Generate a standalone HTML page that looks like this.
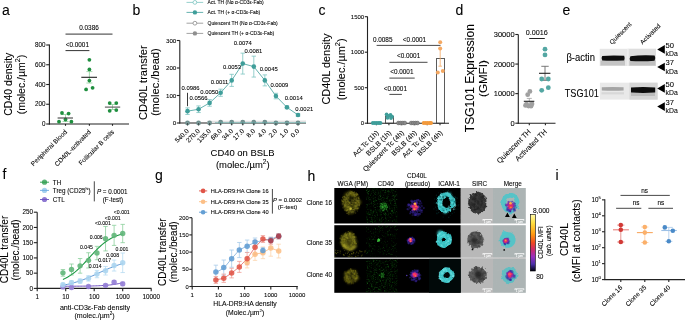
<!DOCTYPE html>
<html><head><meta charset="utf-8"><style>
html,body{margin:0;padding:0;background:#fff;width:685px;height:320px;overflow:hidden}
svg{display:block;font-family:"Liberation Sans", sans-serif;will-change:transform}
text{stroke:currentColor;stroke-width:0.08px;paint-order:stroke}
</style></head><body>
<svg width="685" height="320" viewBox="0 0 685 320">
<defs><filter id="blur1" x="-10%" y="-30%" width="120%" height="160%"><feGaussianBlur stdDeviation="0.6"/></filter>
<filter id="bl03" x="-10%" y="-10%" width="120%" height="120%"><feGaussianBlur stdDeviation="0.3"/></filter>
<filter id="bl04" x="-20%" y="-20%" width="140%" height="140%"><feGaussianBlur stdDeviation="0.45"/></filter>
<filter id="bl05" x="-50%" y="-50%" width="200%" height="200%"><feGaussianBlur stdDeviation="0.5"/></filter>
<filter id="bl08" x="-50%" y="-50%" width="200%" height="200%"><feGaussianBlur stdDeviation="0.8"/></filter>
<filter id="bl1" x="-50%" y="-50%" width="200%" height="200%"><feGaussianBlur stdDeviation="1"/></filter>
<filter id="bl15" x="-50%" y="-50%" width="200%" height="200%"><feGaussianBlur stdDeviation="1.5"/></filter>
<filter id="speckG" x="0" y="0" width="100%" height="100%">
  <feTurbulence type="fractalNoise" baseFrequency="0.85" numOctaves="1" seed="7" result="n"/>
  <feColorMatrix in="n" type="matrix" values="0 0 0 0 0.10  0 0 0 0 0.42  0 0 0 0 0.10  3.2 0 0 0 -1.55" result="c"/>
  <feGaussianBlur in="c" stdDeviation="0.35"/>
</filter>
<filter id="speckY" x="0" y="0" width="100%" height="100%">
  <feTurbulence type="fractalNoise" baseFrequency="0.85" numOctaves="1" seed="11" result="n"/>
  <feColorMatrix in="n" type="matrix" values="0 0 0 0 0.40  0 0 0 0 0.40  0 0 0 0 0.05  3.2 0 0 0 -1.6" result="c"/>
  <feGaussianBlur in="c" stdDeviation="0.35"/>
</filter>
<filter id="speckB" x="0" y="0" width="100%" height="100%">
  <feTurbulence type="fractalNoise" baseFrequency="0.5" numOctaves="2" seed="13" result="n"/>
  <feColorMatrix in="n" type="matrix" values="0 0 0 0 0.5  0 0 0 0 0.5  0 0 0 0 0.5  1.6 0 0 0 -0.8" result="c"/>
  <feGaussianBlur in="c" stdDeviation="0.5"/>
</filter>
<filter id="texY" x="-40%" y="-40%" width="180%" height="180%">
  <feTurbulence type="fractalNoise" baseFrequency="0.35" numOctaves="2" seed="3" result="n"/>
  <feDisplacementMap in="SourceGraphic" in2="n" scale="5" xChannelSelector="R" yChannelSelector="G" result="d"/>
  <feTurbulence type="fractalNoise" baseFrequency="0.7" numOctaves="2" seed="5" result="n2"/>
  <feColorMatrix in="n2" type="matrix" values="0 0 0 0 0  0 0 0 0 0  0 0 0 0 0  1.8 0 0 0 -0.15" result="m"/>
  <feComposite in="d" in2="m" operator="in" result="c"/>
  <feGaussianBlur in="c" stdDeviation="0.55"/>
</filter>
<filter id="texC" x="-40%" y="-40%" width="180%" height="180%">
  <feTurbulence type="fractalNoise" baseFrequency="0.18" numOctaves="2" seed="21" result="n"/>
  <feDisplacementMap in="SourceGraphic" in2="n" scale="3.5" xChannelSelector="R" yChannelSelector="G" result="d"/>
  <feGaussianBlur in="d" stdDeviation="0.75"/>
</filter>
<filter id="texW" x="-40%" y="-40%" width="180%" height="180%">
  <feTurbulence type="fractalNoise" baseFrequency="0.22" numOctaves="2" seed="17" result="n"/>
  <feDisplacementMap in="SourceGraphic" in2="n" scale="5.5" xChannelSelector="R" yChannelSelector="G" result="d"/>
  <feGaussianBlur in="d" stdDeviation="0.8"/>
</filter>
<filter id="texL" x="-60%" y="-60%" width="220%" height="220%">
  <feTurbulence type="fractalNoise" baseFrequency="0.4" numOctaves="2" seed="9" result="n"/>
  <feDisplacementMap in="SourceGraphic" in2="n" scale="4" xChannelSelector="R" yChannelSelector="G" result="d"/>
  <feGaussianBlur in="d" stdDeviation="0.7"/>
</filter>
<filter id="texS" x="-40%" y="-40%" width="180%" height="180%">
  <feTurbulence type="fractalNoise" baseFrequency="0.5" numOctaves="2" seed="4" result="n"/>
  <feDisplacementMap in="SourceGraphic" in2="n" scale="4.5" xChannelSelector="R" yChannelSelector="G" result="d"/>
  <feGaussianBlur in="d" stdDeviation="0.55"/>
</filter>
<radialGradient id="gL"><stop offset="0" stop-color="#ff5a50"/><stop offset="0.35" stop-color="#d2308a"/><stop offset="0.7" stop-color="#6a28b0"/><stop offset="1" stop-color="#2a1a80" stop-opacity="0"/></radialGradient>
<radialGradient id="gW"><stop offset="0" stop-color="#2e2c08"/><stop offset="0.55" stop-color="#46440f"/><stop offset="0.85" stop-color="#5e5c15"/><stop offset="1" stop-color="#42400e"/></radialGradient>
<radialGradient id="gG"><stop offset="0" stop-color="#2c9a2c"/><stop offset="0.6" stop-color="#1e7a1e" stop-opacity="0.7"/><stop offset="1" stop-color="#1a6a1a" stop-opacity="0"/></radialGradient>
<radialGradient id="gS"><stop offset="0" stop-color="#333"/><stop offset="0.7" stop-color="#4a4a4a"/><stop offset="1" stop-color="#5a5a5a"/></radialGradient>
<linearGradient id="cbar" x1="0" y1="0" x2="0" y2="1"><stop offset="0" stop-color="#fffbb0"/><stop offset="0.15" stop-color="#ffe040"/><stop offset="0.35" stop-color="#ff9a10"/><stop offset="0.5" stop-color="#f04a20"/><stop offset="0.62" stop-color="#d02a6a"/><stop offset="0.75" stop-color="#9a30c0"/><stop offset="0.88" stop-color="#4a30a8"/><stop offset="1" stop-color="#000010"/></linearGradient>
</defs>
<text x="2.00" y="15.00" font-size="14" text-anchor="start" fill="#000" color="#000">a</text>
<text x="132.60" y="15.00" font-size="14" text-anchor="start" fill="#000" color="#000">b</text>
<text x="318.60" y="15.00" font-size="14" text-anchor="start" fill="#000" color="#000">c</text>
<text x="455.60" y="15.00" font-size="14" text-anchor="start" fill="#000" color="#000">d</text>
<text x="562.50" y="15.00" font-size="14" text-anchor="start" fill="#000" color="#000">e</text>
<text x="2.40" y="179.00" font-size="14" text-anchor="start" fill="#000" color="#000">f</text>
<text x="155.00" y="180.00" font-size="14" text-anchor="start" fill="#000" color="#000">g</text>
<text x="307.50" y="180.50" font-size="14" text-anchor="start" fill="#000" color="#000">h</text>
<text x="555.50" y="180.00" font-size="14" text-anchor="start" fill="#000" color="#000">i</text>
<line x1="49.40" y1="44.60" x2="49.40" y2="124.50" stroke="#222" stroke-width="1.1"/>
<line x1="48.90" y1="124.00" x2="129.00" y2="124.00" stroke="#222" stroke-width="1.1"/>
<line x1="46.20" y1="124.00" x2="49.40" y2="124.00" stroke="#222" stroke-width="1.1"/>
<text x="45.60" y="126.20" font-size="6.3" text-anchor="end" fill="#000" color="#000">0</text>
<line x1="46.20" y1="104.25" x2="49.40" y2="104.25" stroke="#222" stroke-width="1.1"/>
<text x="45.60" y="106.45" font-size="6.3" text-anchor="end" fill="#000" color="#000">200</text>
<line x1="46.20" y1="84.50" x2="49.40" y2="84.50" stroke="#222" stroke-width="1.1"/>
<text x="45.60" y="86.70" font-size="6.3" text-anchor="end" fill="#000" color="#000">400</text>
<line x1="46.20" y1="64.75" x2="49.40" y2="64.75" stroke="#222" stroke-width="1.1"/>
<text x="45.60" y="66.95" font-size="6.3" text-anchor="end" fill="#000" color="#000">600</text>
<line x1="46.20" y1="45.00" x2="49.40" y2="45.00" stroke="#222" stroke-width="1.1"/>
<text x="45.60" y="47.20" font-size="6.3" text-anchor="end" fill="#000" color="#000">800</text>
<line x1="65.50" y1="124.00" x2="65.50" y2="125.80" stroke="#222" stroke-width="1.1"/>
<line x1="89.40" y1="124.00" x2="89.40" y2="125.80" stroke="#222" stroke-width="1.1"/>
<line x1="112.50" y1="124.00" x2="112.50" y2="125.80" stroke="#222" stroke-width="1.1"/>
<text x="0.00" y="0.00" font-size="6.5" text-anchor="end" fill="#000" color="#000" transform="translate(67.50,132.40) rotate(-45)">Peripheral Blood</text>
<text x="0.00" y="0.00" font-size="6.5" text-anchor="end" fill="#000" color="#000" transform="translate(91.40,132.40) rotate(-45)">CD40L-activated</text>
<text x="0.00" y="0.00" font-size="6.5" text-anchor="end" fill="#000" color="#000" transform="translate(114.50,132.40) rotate(-45)">Follicular B cells</text>
<line x1="65.50" y1="34.10" x2="112.50" y2="34.10" stroke="#333" stroke-width="1"/>
<text x="89.00" y="30.20" font-size="6.4" text-anchor="middle" fill="#000" color="#000">0.0386</text>
<line x1="65.50" y1="50.60" x2="89.40" y2="50.60" stroke="#333" stroke-width="1"/>
<text x="77.30" y="47.20" font-size="6.4" text-anchor="middle" fill="#000" color="#000">&lt;0.0001</text>
<line x1="65.50" y1="114.50" x2="65.50" y2="121.50" stroke="#8fcf9c" stroke-width="0.8"/>
<line x1="62.50" y1="114.50" x2="68.50" y2="114.50" stroke="#8fcf9c" stroke-width="0.8"/>
<line x1="62.50" y1="121.50" x2="68.50" y2="121.50" stroke="#8fcf9c" stroke-width="0.8"/>
<circle cx="62.00" cy="113.00" r="1.9" fill="#1f8f3f" stroke="none" stroke-width="0"/>
<circle cx="68.60" cy="113.60" r="1.9" fill="#1f8f3f" stroke="none" stroke-width="0"/>
<circle cx="65.50" cy="119.50" r="1.9" fill="#1f8f3f" stroke="none" stroke-width="0"/>
<circle cx="59.00" cy="121.70" r="1.9" fill="#1f8f3f" stroke="none" stroke-width="0"/>
<circle cx="71.40" cy="121.70" r="1.9" fill="#1f8f3f" stroke="none" stroke-width="0"/>
<line x1="57.60" y1="118.00" x2="73.00" y2="118.00" stroke="#444" stroke-width="1.1"/>
<line x1="89.40" y1="71.60" x2="89.40" y2="83.00" stroke="#8fcf9c" stroke-width="0.8"/>
<line x1="86.40" y1="71.60" x2="92.40" y2="71.60" stroke="#8fcf9c" stroke-width="0.8"/>
<line x1="86.40" y1="83.00" x2="92.40" y2="83.00" stroke="#8fcf9c" stroke-width="0.8"/>
<circle cx="89.40" cy="59.80" r="1.9" fill="#1f8f3f" stroke="none" stroke-width="0"/>
<circle cx="89.40" cy="69.40" r="1.9" fill="#1f8f3f" stroke="none" stroke-width="0"/>
<circle cx="89.40" cy="80.60" r="1.9" fill="#1f8f3f" stroke="none" stroke-width="0"/>
<circle cx="86.10" cy="89.40" r="1.9" fill="#1f8f3f" stroke="none" stroke-width="0"/>
<circle cx="92.60" cy="87.80" r="1.9" fill="#1f8f3f" stroke="none" stroke-width="0"/>
<line x1="81.30" y1="77.30" x2="97.00" y2="77.30" stroke="#222" stroke-width="1.1"/>
<line x1="112.50" y1="104.50" x2="112.50" y2="109.50" stroke="#8fcf9c" stroke-width="0.8"/>
<line x1="109.50" y1="104.50" x2="115.50" y2="104.50" stroke="#8fcf9c" stroke-width="0.8"/>
<line x1="109.50" y1="109.50" x2="115.50" y2="109.50" stroke="#8fcf9c" stroke-width="0.8"/>
<circle cx="109.70" cy="103.10" r="1.9" fill="#1f8f3f" stroke="none" stroke-width="0"/>
<circle cx="116.30" cy="103.10" r="1.9" fill="#1f8f3f" stroke="none" stroke-width="0"/>
<circle cx="109.70" cy="110.80" r="1.9" fill="#1f8f3f" stroke="none" stroke-width="0"/>
<circle cx="116.30" cy="110.10" r="1.9" fill="#1f8f3f" stroke="none" stroke-width="0"/>
<line x1="104.90" y1="107.10" x2="120.20" y2="107.10" stroke="#555" stroke-width="1.1"/>
<text x="0.00" y="0.00" font-size="10.5" text-anchor="middle" fill="#000" color="#000" transform="translate(11.80,84.20) rotate(-90)">CD40 density</text>
<text x="0.00" y="0.00" font-size="10.5" text-anchor="middle" fill="#000" color="#000" transform="translate(24.60,84.50) rotate(-90)">(molec./µm<tspan font-size="7.2" dy="-4.4">2</tspan><tspan dy="4.4">)</tspan></text>
<line x1="179.80" y1="40.50" x2="179.80" y2="123.50" stroke="#222" stroke-width="1.1"/>
<line x1="179.30" y1="123.00" x2="306.00" y2="123.00" stroke="#222" stroke-width="1.1"/>
<line x1="176.80" y1="123.00" x2="179.80" y2="123.00" stroke="#222" stroke-width="1.1"/>
<text x="176.30" y="125.10" font-size="6.2" text-anchor="end" fill="#000" color="#000">0</text>
<line x1="176.80" y1="95.50" x2="179.80" y2="95.50" stroke="#222" stroke-width="1.1"/>
<text x="176.30" y="97.60" font-size="6.2" text-anchor="end" fill="#000" color="#000">100</text>
<line x1="176.80" y1="68.00" x2="179.80" y2="68.00" stroke="#222" stroke-width="1.1"/>
<text x="176.30" y="70.10" font-size="6.2" text-anchor="end" fill="#000" color="#000">200</text>
<line x1="176.80" y1="40.50" x2="179.80" y2="40.50" stroke="#222" stroke-width="1.1"/>
<text x="176.30" y="42.60" font-size="6.2" text-anchor="end" fill="#000" color="#000">300</text>
<line x1="187.50" y1="123.00" x2="187.50" y2="125.00" stroke="#222" stroke-width="1.1"/>
<text x="0.00" y="0.00" font-size="6.6" text-anchor="end" fill="#000" color="#000" transform="translate(189.30,131.40) rotate(-45)">540.0</text>
<line x1="198.55" y1="123.00" x2="198.55" y2="125.00" stroke="#222" stroke-width="1.1"/>
<text x="0.00" y="0.00" font-size="6.6" text-anchor="end" fill="#000" color="#000" transform="translate(200.35,131.40) rotate(-45)">270.0</text>
<line x1="209.60" y1="123.00" x2="209.60" y2="125.00" stroke="#222" stroke-width="1.1"/>
<text x="0.00" y="0.00" font-size="6.6" text-anchor="end" fill="#000" color="#000" transform="translate(211.40,131.40) rotate(-45)">135.0</text>
<line x1="220.65" y1="123.00" x2="220.65" y2="125.00" stroke="#222" stroke-width="1.1"/>
<text x="0.00" y="0.00" font-size="6.6" text-anchor="end" fill="#000" color="#000" transform="translate(222.45,131.40) rotate(-45)">68.0</text>
<line x1="231.70" y1="123.00" x2="231.70" y2="125.00" stroke="#222" stroke-width="1.1"/>
<text x="0.00" y="0.00" font-size="6.6" text-anchor="end" fill="#000" color="#000" transform="translate(233.50,131.40) rotate(-45)">34.0</text>
<line x1="242.75" y1="123.00" x2="242.75" y2="125.00" stroke="#222" stroke-width="1.1"/>
<text x="0.00" y="0.00" font-size="6.6" text-anchor="end" fill="#000" color="#000" transform="translate(244.55,131.40) rotate(-45)">17.0</text>
<line x1="253.80" y1="123.00" x2="253.80" y2="125.00" stroke="#222" stroke-width="1.1"/>
<text x="0.00" y="0.00" font-size="6.6" text-anchor="end" fill="#000" color="#000" transform="translate(255.60,131.40) rotate(-45)">8.0</text>
<line x1="264.85" y1="123.00" x2="264.85" y2="125.00" stroke="#222" stroke-width="1.1"/>
<text x="0.00" y="0.00" font-size="6.6" text-anchor="end" fill="#000" color="#000" transform="translate(266.65,131.40) rotate(-45)">4.0</text>
<line x1="275.90" y1="123.00" x2="275.90" y2="125.00" stroke="#222" stroke-width="1.1"/>
<text x="0.00" y="0.00" font-size="6.6" text-anchor="end" fill="#000" color="#000" transform="translate(277.70,131.40) rotate(-45)">2.0</text>
<line x1="286.95" y1="123.00" x2="286.95" y2="125.00" stroke="#222" stroke-width="1.1"/>
<text x="0.00" y="0.00" font-size="6.6" text-anchor="end" fill="#000" color="#000" transform="translate(288.75,131.40) rotate(-45)">1.0</text>
<line x1="298.00" y1="123.00" x2="298.00" y2="125.00" stroke="#222" stroke-width="1.1"/>
<text x="0.00" y="0.00" font-size="6.6" text-anchor="end" fill="#000" color="#000" transform="translate(299.80,131.40) rotate(-45)">0.0</text>
<text x="242.60" y="155.80" font-size="9.45" text-anchor="middle" fill="#000" color="#000">CD40 on BSLB</text>
<text x="242.80" y="168.00" font-size="9.45" text-anchor="middle" fill="#000" color="#000">(molec./µm<tspan font-size="6.6" dy="-4">2</tspan><tspan dy="4">)</tspan></text>
<text x="0.00" y="0.00" font-size="11.1" text-anchor="middle" fill="#000" color="#000" transform="translate(147.40,82.70) rotate(-90)">CD40L transfer</text>
<text x="0.00" y="0.00" font-size="11.1" text-anchor="middle" fill="#000" color="#000" transform="translate(159.30,82.20) rotate(-90)">(molec./bead)</text>
<path d="M207.0 120.8L306.0 120.5L306.0 123.0L207.0 123.0Z" stroke="none" stroke-width="1" fill="#e2e2e2"/>
<path d="M187.50 111.17L198.55 109.25L209.60 102.92L220.65 92.75L231.70 80.38L242.75 63.60L253.80 66.62L264.85 80.38L275.90 96.05L286.95 107.33L298.00 115.03" stroke="#3f9e9a" stroke-width="0.8" fill="none"/>
<line x1="187.50" y1="107.88" x2="187.50" y2="114.47" stroke="#7cc4c0" stroke-width="0.8"/>
<line x1="185.30" y1="107.88" x2="189.70" y2="107.88" stroke="#7cc4c0" stroke-width="0.8"/>
<line x1="185.30" y1="114.47" x2="189.70" y2="114.47" stroke="#7cc4c0" stroke-width="0.8"/>
<line x1="198.55" y1="105.95" x2="198.55" y2="112.55" stroke="#7cc4c0" stroke-width="0.8"/>
<line x1="196.35" y1="105.95" x2="200.75" y2="105.95" stroke="#7cc4c0" stroke-width="0.8"/>
<line x1="196.35" y1="112.55" x2="200.75" y2="112.55" stroke="#7cc4c0" stroke-width="0.8"/>
<line x1="209.60" y1="99.62" x2="209.60" y2="106.22" stroke="#7cc4c0" stroke-width="0.8"/>
<line x1="207.40" y1="99.62" x2="211.80" y2="99.62" stroke="#7cc4c0" stroke-width="0.8"/>
<line x1="207.40" y1="106.22" x2="211.80" y2="106.22" stroke="#7cc4c0" stroke-width="0.8"/>
<line x1="220.65" y1="89.17" x2="220.65" y2="96.33" stroke="#7cc4c0" stroke-width="0.8"/>
<line x1="218.45" y1="89.17" x2="222.85" y2="89.17" stroke="#7cc4c0" stroke-width="0.8"/>
<line x1="218.45" y1="96.33" x2="222.85" y2="96.33" stroke="#7cc4c0" stroke-width="0.8"/>
<line x1="231.70" y1="74.32" x2="231.70" y2="86.42" stroke="#7cc4c0" stroke-width="0.8"/>
<line x1="229.50" y1="74.32" x2="233.90" y2="74.32" stroke="#7cc4c0" stroke-width="0.8"/>
<line x1="229.50" y1="86.42" x2="233.90" y2="86.42" stroke="#7cc4c0" stroke-width="0.8"/>
<line x1="242.75" y1="53.15" x2="242.75" y2="74.05" stroke="#7cc4c0" stroke-width="0.8"/>
<line x1="240.55" y1="53.15" x2="244.95" y2="53.15" stroke="#7cc4c0" stroke-width="0.8"/>
<line x1="240.55" y1="74.05" x2="244.95" y2="74.05" stroke="#7cc4c0" stroke-width="0.8"/>
<line x1="253.80" y1="56.17" x2="253.80" y2="77.07" stroke="#7cc4c0" stroke-width="0.8"/>
<line x1="251.60" y1="56.17" x2="256.00" y2="56.17" stroke="#7cc4c0" stroke-width="0.8"/>
<line x1="251.60" y1="77.07" x2="256.00" y2="77.07" stroke="#7cc4c0" stroke-width="0.8"/>
<line x1="264.85" y1="74.88" x2="264.85" y2="85.88" stroke="#7cc4c0" stroke-width="0.8"/>
<line x1="262.65" y1="74.88" x2="267.05" y2="74.88" stroke="#7cc4c0" stroke-width="0.8"/>
<line x1="262.65" y1="85.88" x2="267.05" y2="85.88" stroke="#7cc4c0" stroke-width="0.8"/>
<line x1="275.90" y1="93.30" x2="275.90" y2="98.80" stroke="#7cc4c0" stroke-width="0.8"/>
<line x1="273.70" y1="93.30" x2="278.10" y2="93.30" stroke="#7cc4c0" stroke-width="0.8"/>
<line x1="273.70" y1="98.80" x2="278.10" y2="98.80" stroke="#7cc4c0" stroke-width="0.8"/>
<line x1="286.95" y1="105.95" x2="286.95" y2="108.70" stroke="#7cc4c0" stroke-width="0.8"/>
<line x1="284.75" y1="105.95" x2="289.15" y2="105.95" stroke="#7cc4c0" stroke-width="0.8"/>
<line x1="284.75" y1="108.70" x2="289.15" y2="108.70" stroke="#7cc4c0" stroke-width="0.8"/>
<line x1="298.00" y1="113.65" x2="298.00" y2="116.40" stroke="#7cc4c0" stroke-width="0.8"/>
<line x1="295.80" y1="113.65" x2="300.20" y2="113.65" stroke="#7cc4c0" stroke-width="0.8"/>
<line x1="295.80" y1="116.40" x2="300.20" y2="116.40" stroke="#7cc4c0" stroke-width="0.8"/>
<circle cx="187.50" cy="111.17" r="2.3" fill="#3f9e9a" stroke="none" stroke-width="0"/>
<circle cx="198.55" cy="109.25" r="2.3" fill="#3f9e9a" stroke="none" stroke-width="0"/>
<circle cx="209.60" cy="102.92" r="2.3" fill="#3f9e9a" stroke="none" stroke-width="0"/>
<circle cx="220.65" cy="92.75" r="2.3" fill="#3f9e9a" stroke="none" stroke-width="0"/>
<circle cx="231.70" cy="80.38" r="2.3" fill="#3f9e9a" stroke="none" stroke-width="0"/>
<circle cx="242.75" cy="63.60" r="2.3" fill="#3f9e9a" stroke="none" stroke-width="0"/>
<circle cx="253.80" cy="66.62" r="2.3" fill="#3f9e9a" stroke="none" stroke-width="0"/>
<circle cx="264.85" cy="80.38" r="2.3" fill="#3f9e9a" stroke="none" stroke-width="0"/>
<circle cx="275.90" cy="96.05" r="2.3" fill="#3f9e9a" stroke="none" stroke-width="0"/>
<circle cx="286.95" cy="107.33" r="2.3" fill="#3f9e9a" stroke="none" stroke-width="0"/>
<circle cx="298.00" cy="115.03" r="2.3" fill="#3f9e9a" stroke="none" stroke-width="0"/>
<circle cx="187.50" cy="123.00" r="2.4" fill="#6f8f8e" stroke="none" stroke-width="0"/>
<line x1="186.00" y1="122.70" x2="189.00" y2="122.70" stroke="#7f9a9a" stroke-width="0.8"/>
<line x1="187.50" y1="123.00" x2="187.50" y2="125.50" stroke="#333" stroke-width="0.7"/>
<circle cx="198.55" cy="123.00" r="2.4" fill="#6f8f8e" stroke="none" stroke-width="0"/>
<line x1="197.05" y1="122.70" x2="200.05" y2="122.70" stroke="#7f9a9a" stroke-width="0.8"/>
<line x1="198.55" y1="123.00" x2="198.55" y2="125.50" stroke="#333" stroke-width="0.7"/>
<circle cx="209.60" cy="123.00" r="2.4" fill="#6f8f8e" stroke="none" stroke-width="0"/>
<line x1="208.10" y1="122.70" x2="211.10" y2="122.70" stroke="#7f9a9a" stroke-width="0.8"/>
<line x1="209.60" y1="123.00" x2="209.60" y2="125.50" stroke="#333" stroke-width="0.7"/>
<circle cx="220.65" cy="122.20" r="2.4" fill="#6f8f8e" stroke="none" stroke-width="0"/>
<line x1="219.15" y1="121.90" x2="222.15" y2="121.90" stroke="#7f9a9a" stroke-width="0.8"/>
<line x1="220.65" y1="122.20" x2="220.65" y2="125.50" stroke="#333" stroke-width="0.7"/>
<circle cx="231.70" cy="122.20" r="2.4" fill="#6f8f8e" stroke="none" stroke-width="0"/>
<line x1="230.20" y1="121.90" x2="233.20" y2="121.90" stroke="#7f9a9a" stroke-width="0.8"/>
<line x1="231.70" y1="122.20" x2="231.70" y2="125.50" stroke="#333" stroke-width="0.7"/>
<circle cx="242.75" cy="122.20" r="2.4" fill="#6f8f8e" stroke="none" stroke-width="0"/>
<line x1="241.25" y1="121.90" x2="244.25" y2="121.90" stroke="#7f9a9a" stroke-width="0.8"/>
<line x1="242.75" y1="122.20" x2="242.75" y2="125.50" stroke="#333" stroke-width="0.7"/>
<circle cx="253.80" cy="122.20" r="2.4" fill="#6f8f8e" stroke="none" stroke-width="0"/>
<line x1="252.30" y1="121.90" x2="255.30" y2="121.90" stroke="#7f9a9a" stroke-width="0.8"/>
<line x1="253.80" y1="122.20" x2="253.80" y2="125.50" stroke="#333" stroke-width="0.7"/>
<circle cx="264.85" cy="122.20" r="2.4" fill="#6f8f8e" stroke="none" stroke-width="0"/>
<line x1="263.35" y1="121.90" x2="266.35" y2="121.90" stroke="#7f9a9a" stroke-width="0.8"/>
<line x1="264.85" y1="122.20" x2="264.85" y2="125.50" stroke="#333" stroke-width="0.7"/>
<circle cx="275.90" cy="123.00" r="2.4" fill="#6f8f8e" stroke="none" stroke-width="0"/>
<line x1="274.40" y1="122.70" x2="277.40" y2="122.70" stroke="#7f9a9a" stroke-width="0.8"/>
<line x1="275.90" y1="123.00" x2="275.90" y2="125.50" stroke="#333" stroke-width="0.7"/>
<circle cx="286.95" cy="123.00" r="2.4" fill="#6f8f8e" stroke="none" stroke-width="0"/>
<line x1="285.45" y1="122.70" x2="288.45" y2="122.70" stroke="#7f9a9a" stroke-width="0.8"/>
<line x1="286.95" y1="123.00" x2="286.95" y2="125.50" stroke="#333" stroke-width="0.7"/>
<circle cx="298.00" cy="123.00" r="2.4" fill="#6f8f8e" stroke="none" stroke-width="0"/>
<line x1="296.50" y1="122.70" x2="299.50" y2="122.70" stroke="#7f9a9a" stroke-width="0.8"/>
<line x1="298.00" y1="123.00" x2="298.00" y2="125.50" stroke="#333" stroke-width="0.7"/>
<line x1="215.00" y1="122.60" x2="306.00" y2="122.60" stroke="#6fb0ad" stroke-width="0.7"/>
<text x="190.50" y="90.20" font-size="5.9" text-anchor="middle" fill="#000" color="#000">0.0986</text>
<line x1="187.50" y1="92.80" x2="187.50" y2="106.20" stroke="#222" stroke-width="0.9"/>
<text x="198.50" y="99.80" font-size="5.9" text-anchor="middle" fill="#000" color="#000">0.0566</text>
<text x="209.30" y="93.60" font-size="5.9" text-anchor="middle" fill="#000" color="#000">0.0050</text>
<text x="219.60" y="83.60" font-size="5.9" text-anchor="middle" fill="#000" color="#000">0.0011</text>
<text x="232.00" y="69.00" font-size="5.9" text-anchor="middle" fill="#000" color="#000">0.0053</text>
<text x="242.80" y="44.90" font-size="5.9" text-anchor="middle" fill="#000" color="#000">0.0074</text>
<text x="253.40" y="53.40" font-size="5.9" text-anchor="middle" fill="#000" color="#000">0.0081</text>
<text x="268.70" y="70.70" font-size="5.9" text-anchor="middle" fill="#000" color="#000">0.0045</text>
<text x="279.40" y="86.50" font-size="5.9" text-anchor="middle" fill="#000" color="#000">0.0009</text>
<text x="293.70" y="100.20" font-size="5.9" text-anchor="middle" fill="#000" color="#000">0.0014</text>
<text x="304.20" y="110.80" font-size="5.9" text-anchor="middle" fill="#000" color="#000">0.0021</text>
<line x1="186.50" y1="2.40" x2="203.20" y2="2.40" stroke="#7cc4c0" stroke-width="0.8"/>
<circle cx="194.90" cy="2.40" r="1.9" fill="#fff" stroke="#7cc4c0" stroke-width="0.8"/>
<line x1="186.50" y1="12.40" x2="203.20" y2="12.40" stroke="#3f9e9a" stroke-width="0.8"/>
<circle cx="194.90" cy="12.40" r="2.2" fill="#3f9e9a" stroke="none" stroke-width="0"/>
<line x1="186.50" y1="23.20" x2="203.20" y2="23.20" stroke="#8a8a8a" stroke-width="0.8"/>
<circle cx="194.90" cy="23.20" r="1.9" fill="#fff" stroke="#8a8a8a" stroke-width="0.8"/>
<line x1="186.50" y1="33.40" x2="203.20" y2="33.40" stroke="#8a8a8a" stroke-width="0.8"/>
<circle cx="194.90" cy="33.40" r="2.2" fill="#8f8f8f" stroke="none" stroke-width="0"/>
<text x="207.60" y="4.20" font-size="5.0" text-anchor="start" fill="#000" color="#000">Act. TH (No α-CD3ε-Fab)</text>
<text x="207.60" y="14.20" font-size="5.0" text-anchor="start" fill="#000" color="#000">Act. TH (+ α-CD3ε-Fab)</text>
<text x="207.60" y="25.00" font-size="5.0" text-anchor="start" fill="#000" color="#000">Quiescent TH (No α-CD3ε-Fab)</text>
<text x="207.60" y="35.20" font-size="5.0" text-anchor="start" fill="#000" color="#000">Quiescent TH (+ α-CD3ε-Fab)</text>
<line x1="367.50" y1="16.50" x2="367.50" y2="123.70" stroke="#222" stroke-width="1.1"/>
<line x1="367.00" y1="123.20" x2="449.00" y2="123.20" stroke="#222" stroke-width="1.1"/>
<line x1="364.80" y1="123.20" x2="367.50" y2="123.20" stroke="#222" stroke-width="1.1"/>
<text x="364.20" y="125.30" font-size="6.0" text-anchor="end" fill="#000" color="#000">0</text>
<line x1="364.80" y1="87.70" x2="367.50" y2="87.70" stroke="#222" stroke-width="1.1"/>
<text x="364.20" y="89.80" font-size="6.0" text-anchor="end" fill="#000" color="#000">500</text>
<line x1="364.80" y1="52.20" x2="367.50" y2="52.20" stroke="#222" stroke-width="1.1"/>
<text x="364.20" y="54.30" font-size="6.0" text-anchor="end" fill="#000" color="#000">1000</text>
<line x1="364.80" y1="16.70" x2="367.50" y2="16.70" stroke="#222" stroke-width="1.1"/>
<text x="364.20" y="18.80" font-size="6.0" text-anchor="end" fill="#000" color="#000">1500</text>
<line x1="376.40" y1="123.20" x2="376.40" y2="125.20" stroke="#222" stroke-width="1.1"/>
<text x="0.00" y="0.00" font-size="7.0" text-anchor="end" fill="#000" color="#000" transform="translate(379.20,133.40) rotate(-45)">Act.Tc (1h)</text>
<line x1="388.90" y1="123.20" x2="388.90" y2="125.20" stroke="#222" stroke-width="1.1"/>
<text x="0.00" y="0.00" font-size="7.0" text-anchor="end" fill="#000" color="#000" transform="translate(391.70,133.40) rotate(-45)">BSLB (1h)</text>
<line x1="401.60" y1="123.20" x2="401.60" y2="125.20" stroke="#222" stroke-width="1.1"/>
<text x="0.00" y="0.00" font-size="7.0" text-anchor="end" fill="#000" color="#000" transform="translate(404.40,133.40) rotate(-45)">Quiescent Tc (4h)</text>
<line x1="414.40" y1="123.20" x2="414.40" y2="125.20" stroke="#222" stroke-width="1.1"/>
<text x="0.00" y="0.00" font-size="7.0" text-anchor="end" fill="#000" color="#000" transform="translate(417.20,133.40) rotate(-45)">BSLB (4h)</text>
<line x1="427.20" y1="123.20" x2="427.20" y2="125.20" stroke="#222" stroke-width="1.1"/>
<text x="0.00" y="0.00" font-size="7.0" text-anchor="end" fill="#000" color="#000" transform="translate(430.00,133.40) rotate(-45)">Act. Tc (4h)</text>
<line x1="440.00" y1="123.20" x2="440.00" y2="125.20" stroke="#222" stroke-width="1.1"/>
<text x="0.00" y="0.00" font-size="7.0" text-anchor="end" fill="#000" color="#000" transform="translate(442.80,133.40) rotate(-45)">BSLB (4h)</text>
<text x="0.00" y="0.00" font-size="10.9" text-anchor="middle" fill="#000" color="#000" transform="translate(329.80,69.00) rotate(-90)">CD40L density</text>
<text x="0.00" y="0.00" font-size="10.9" text-anchor="middle" fill="#000" color="#000" transform="translate(344.60,69.40) rotate(-90)">(molec./µm<tspan font-size="7.4" dy="-4.5">2</tspan><tspan dy="4.5">)</tspan></text>
<rect x="385.60" y="116.30" width="8.00" height="6.90" fill="none" stroke="#333" stroke-width="0.8"/>
<rect x="436.60" y="58.40" width="7.80" height="64.80" fill="none" stroke="#333" stroke-width="0.8"/>
<circle cx="372.90" cy="123.00" r="2.0" fill="#3f9e9a" stroke="none" stroke-width="0"/>
<circle cx="374.90" cy="123.00" r="2.0" fill="#3f9e9a" stroke="none" stroke-width="0"/>
<circle cx="376.90" cy="123.00" r="2.0" fill="#3f9e9a" stroke="none" stroke-width="0"/>
<circle cx="378.90" cy="123.00" r="2.0" fill="#3f9e9a" stroke="none" stroke-width="0"/>
<circle cx="380.40" cy="123.00" r="2.0" fill="#3f9e9a" stroke="none" stroke-width="0"/>
<circle cx="386.60" cy="114.40" r="1.9" fill="#3f9e9a" stroke="none" stroke-width="0"/>
<circle cx="388.20" cy="115.80" r="1.9" fill="#3f9e9a" stroke="none" stroke-width="0"/>
<circle cx="390.50" cy="115.00" r="1.9" fill="#3f9e9a" stroke="none" stroke-width="0"/>
<circle cx="392.00" cy="116.60" r="1.9" fill="#3f9e9a" stroke="none" stroke-width="0"/>
<circle cx="387.50" cy="117.80" r="1.9" fill="#3f9e9a" stroke="none" stroke-width="0"/>
<circle cx="391.00" cy="118.00" r="1.9" fill="#3f9e9a" stroke="none" stroke-width="0"/>
<circle cx="398.40" cy="123.00" r="1.9" fill="#8a8a8a" stroke="#555" stroke-width="0.4"/>
<circle cx="400.60" cy="123.00" r="1.9" fill="#8a8a8a" stroke="#555" stroke-width="0.4"/>
<circle cx="402.80" cy="123.00" r="1.9" fill="#8a8a8a" stroke="#555" stroke-width="0.4"/>
<circle cx="404.80" cy="123.00" r="1.9" fill="#8a8a8a" stroke="#555" stroke-width="0.4"/>
<circle cx="411.20" cy="123.00" r="1.9" fill="#8a8a8a" stroke="#555" stroke-width="0.4"/>
<circle cx="413.40" cy="123.00" r="1.9" fill="#8a8a8a" stroke="#555" stroke-width="0.4"/>
<circle cx="415.60" cy="123.00" r="1.9" fill="#8a8a8a" stroke="#555" stroke-width="0.4"/>
<circle cx="417.60" cy="123.00" r="1.9" fill="#8a8a8a" stroke="#555" stroke-width="0.4"/>
<circle cx="423.70" cy="123.00" r="2.0" fill="#f39a3c" stroke="none" stroke-width="0"/>
<circle cx="425.70" cy="123.00" r="2.0" fill="#f39a3c" stroke="none" stroke-width="0"/>
<circle cx="427.70" cy="123.00" r="2.0" fill="#f39a3c" stroke="none" stroke-width="0"/>
<circle cx="429.70" cy="123.00" r="2.0" fill="#f39a3c" stroke="none" stroke-width="0"/>
<circle cx="431.00" cy="123.00" r="2.0" fill="#f39a3c" stroke="none" stroke-width="0"/>
<line x1="440.20" y1="48.40" x2="440.20" y2="66.20" stroke="#f4a862" stroke-width="0.8"/>
<line x1="438.40" y1="48.40" x2="442.00" y2="48.40" stroke="#f4a862" stroke-width="0.8"/>
<line x1="438.40" y1="66.20" x2="442.00" y2="66.20" stroke="#f4a862" stroke-width="0.8"/>
<circle cx="440.20" cy="42.20" r="2.0" fill="#f4a862" stroke="none" stroke-width="0"/>
<circle cx="440.20" cy="48.40" r="2.0" fill="#f4a862" stroke="none" stroke-width="0"/>
<circle cx="437.80" cy="72.50" r="2.0" fill="#f4a862" stroke="none" stroke-width="0"/>
<circle cx="442.80" cy="70.90" r="2.0" fill="#f4a862" stroke="none" stroke-width="0"/>
<line x1="376.60" y1="45.40" x2="440.50" y2="45.40" stroke="#333" stroke-width="0.9"/>
<text x="382.70" y="41.50" font-size="6.4" text-anchor="middle" fill="#000" color="#000">0.0085</text>
<text x="414.50" y="41.50" font-size="6.4" text-anchor="middle" fill="#000" color="#000">&lt;0.0001</text>
<line x1="389.40" y1="62.30" x2="427.50" y2="62.30" stroke="#333" stroke-width="0.9"/>
<text x="408.60" y="58.20" font-size="6.4" text-anchor="middle" fill="#000" color="#000">&lt;0.0001</text>
<line x1="389.40" y1="78.10" x2="414.70" y2="78.10" stroke="#333" stroke-width="0.9"/>
<text x="401.80" y="74.40" font-size="6.4" text-anchor="middle" fill="#000" color="#000">&lt;0.0001</text>
<line x1="389.40" y1="94.40" x2="401.90" y2="94.40" stroke="#333" stroke-width="0.9"/>
<text x="395.30" y="90.60" font-size="6.4" text-anchor="middle" fill="#000" color="#000">&lt;0.0001</text>
<line x1="518.30" y1="34.50" x2="518.30" y2="123.70" stroke="#222" stroke-width="1.1"/>
<line x1="517.80" y1="123.20" x2="555.50" y2="123.20" stroke="#222" stroke-width="1.1"/>
<line x1="515.30" y1="123.20" x2="518.30" y2="123.20" stroke="#222" stroke-width="1.1"/>
<text x="514.60" y="125.80" font-size="7.5" text-anchor="end" fill="#000" color="#000">0</text>
<line x1="515.30" y1="93.63" x2="518.30" y2="93.63" stroke="#222" stroke-width="1.1"/>
<text x="514.60" y="96.23" font-size="7.5" text-anchor="end" fill="#000" color="#000">10000</text>
<line x1="515.30" y1="64.07" x2="518.30" y2="64.07" stroke="#222" stroke-width="1.1"/>
<text x="514.60" y="66.67" font-size="7.5" text-anchor="end" fill="#000" color="#000">20000</text>
<line x1="515.30" y1="34.50" x2="518.30" y2="34.50" stroke="#222" stroke-width="1.1"/>
<text x="514.60" y="37.10" font-size="7.5" text-anchor="end" fill="#000" color="#000">30000</text>
<line x1="529.30" y1="123.20" x2="529.30" y2="125.20" stroke="#222" stroke-width="1.1"/>
<line x1="545.40" y1="123.20" x2="545.40" y2="125.20" stroke="#222" stroke-width="1.1"/>
<text x="0.00" y="0.00" font-size="7.3" text-anchor="end" fill="#000" color="#000" transform="translate(531.30,132.20) rotate(-45)">Quiescent TH</text>
<text x="0.00" y="0.00" font-size="7.3" text-anchor="end" fill="#000" color="#000" transform="translate(547.40,132.20) rotate(-45)">Activated TH</text>
<text x="0.00" y="0.00" font-size="12.1" text-anchor="middle" fill="#000" color="#000" transform="translate(474.00,78.15) rotate(-90)">TSG101 Expression</text>
<text x="0.00" y="0.00" font-size="11.6" text-anchor="middle" fill="#000" color="#000" transform="translate(487.00,78.60) rotate(-90)">(GMFI)</text>
<text x="536.80" y="34.80" font-size="7.2" text-anchor="middle" fill="#000" color="#000">0.0016</text>
<line x1="529.20" y1="38.50" x2="544.80" y2="38.50" stroke="#222" stroke-width="1.0"/>
<line x1="529.30" y1="98.40" x2="529.30" y2="104.40" stroke="#a0a0a0" stroke-width="0.8"/>
<line x1="526.80" y1="98.40" x2="531.80" y2="98.40" stroke="#a0a0a0" stroke-width="0.8"/>
<line x1="526.80" y1="104.40" x2="531.80" y2="104.40" stroke="#a0a0a0" stroke-width="0.8"/>
<circle cx="529.90" cy="91.40" r="2.4" fill="#a0a0a0" stroke="none" stroke-width="0"/>
<circle cx="527.70" cy="94.70" r="2.4" fill="#a0a0a0" stroke="none" stroke-width="0"/>
<circle cx="526.50" cy="104.20" r="2.4" fill="#a0a0a0" stroke="none" stroke-width="0"/>
<circle cx="532.00" cy="104.00" r="2.4" fill="#a0a0a0" stroke="none" stroke-width="0"/>
<circle cx="528.50" cy="106.00" r="2.4" fill="#a0a0a0" stroke="none" stroke-width="0"/>
<circle cx="531.00" cy="106.20" r="2.4" fill="#a0a0a0" stroke="none" stroke-width="0"/>
<circle cx="525.50" cy="105.40" r="2.4" fill="#a0a0a0" stroke="none" stroke-width="0"/>
<line x1="523.80" y1="101.30" x2="534.30" y2="101.30" stroke="#222" stroke-width="1.1"/>
<line x1="545.00" y1="66.30" x2="545.00" y2="80.30" stroke="#6a6a6a" stroke-width="0.9"/>
<line x1="541.30" y1="66.30" x2="548.70" y2="66.30" stroke="#6a6a6a" stroke-width="0.9"/>
<line x1="541.30" y1="80.30" x2="548.70" y2="80.30" stroke="#6a6a6a" stroke-width="0.9"/>
<circle cx="545.00" cy="49.20" r="2.4" fill="#54a7a3" stroke="none" stroke-width="0"/>
<circle cx="545.00" cy="54.90" r="2.4" fill="#54a7a3" stroke="none" stroke-width="0"/>
<circle cx="541.70" cy="79.00" r="2.4" fill="#54a7a3" stroke="none" stroke-width="0"/>
<circle cx="548.30" cy="79.00" r="2.4" fill="#54a7a3" stroke="none" stroke-width="0"/>
<circle cx="541.70" cy="90.30" r="2.4" fill="#54a7a3" stroke="none" stroke-width="0"/>
<circle cx="548.30" cy="87.70" r="2.4" fill="#54a7a3" stroke="none" stroke-width="0"/>
<line x1="539.00" y1="73.30" x2="550.40" y2="73.30" stroke="#222" stroke-width="1.1"/>
<text x="0.00" y="0.00" font-size="6.3" text-anchor="start" fill="#000" color="#000" transform="translate(612.00,44.80) rotate(-45)">Quiescent</text>
<text x="0.00" y="0.00" font-size="6.3" text-anchor="start" fill="#000" color="#000" transform="translate(642.60,44.80) rotate(-45)">Activated</text>
<text x="566.40" y="61.00" font-size="10.0" text-anchor="start" fill="#000" color="#000" textLength="28.6" lengthAdjust="spacingAndGlyphs">β-actin</text>
<text x="564.80" y="96.90" font-size="10.2" text-anchor="start" fill="#000" color="#000" textLength="34.0" lengthAdjust="spacingAndGlyphs">TSG101</text>
<g filter="url(#blur1)">
<rect x="599.70" y="48.80" width="56.30" height="17.20" fill="#e6e6e6" stroke="none" stroke-width="0"/>
<rect x="628.40" y="48.80" width="27.60" height="17.20" fill="#dedede" stroke="none" stroke-width="0"/>
<rect x="627.20" y="48.80" width="1.40" height="17.20" fill="#efefef" stroke="none" stroke-width="0"/>
<rect x="600.50" y="60.50" width="24.50" height="5.00" fill="#c4c4c4" stroke="none" stroke-width="0"/>
<rect x="629.50" y="60.50" width="26.00" height="5.00" fill="#c0c0c0" stroke="none" stroke-width="0"/>
<path d="M602.2 56.0 Q612 55.0 624.2 55.8 Q625.2 58.2 624.2 60.4 Q612 61.2 602.2 60.6 Q600.8 58.3 602.2 56.0 Z" fill="#111"/>
<path d="M630.4 56.2 Q642 54.8 654.6 55.6 Q656.0 58.2 654.6 60.8 Q642 61.8 630.4 61.0 Q629.0 58.6 630.4 56.2 Z" fill="#0a0a0a"/>
<rect x="599.90" y="82.70" width="57.70" height="16.90" fill="#e9e9e9" stroke="none" stroke-width="0"/>
<rect x="629.50" y="82.70" width="28.10" height="16.90" fill="#d6d6d6" stroke="none" stroke-width="0"/>
<rect x="601.50" y="92.20" width="22.50" height="2.20" fill="#d8d8d8" stroke="none" stroke-width="0"/>
<path d="M601.8 87.2 Q613 86.6 623.6 87.2 L623.6 90.4 Q613 91.0 601.8 90.4 Z" fill="#a4a4a4"/>
<path d="M631.0 87.4 Q643 86.6 655.2 87.4 L655.2 92.6 Q643 93.4 631.0 92.6 Z" fill="#0c0c0c"/>
<rect x="631.00" y="93.00" width="24.00" height="3.00" fill="#bcbcbc" stroke="none" stroke-width="0"/>
</g>
<path d="M657.2 49.40 L664.8 45.10 L664.8 53.70 Z" stroke="none" stroke-width="1" fill="#000"/>
<text x="665.60" y="47.60" font-size="7.6" text-anchor="start" fill="#000" color="#000">50</text>
<text x="665.60" y="56.00" font-size="7.6" text-anchor="start" fill="#000" color="#000" textLength="12.2" lengthAdjust="spacingAndGlyphs">kDa</text>
<path d="M657.2 67.00 L664.8 62.70 L664.8 71.30 Z" stroke="none" stroke-width="1" fill="#000"/>
<text x="665.60" y="65.20" font-size="7.6" text-anchor="start" fill="#000" color="#000">37</text>
<text x="665.60" y="73.60" font-size="7.6" text-anchor="start" fill="#000" color="#000" textLength="12.2" lengthAdjust="spacingAndGlyphs">kDa</text>
<path d="M657.2 88.40 L664.8 84.10 L664.8 92.70 Z" stroke="none" stroke-width="1" fill="#000"/>
<text x="665.60" y="86.60" font-size="7.6" text-anchor="start" fill="#000" color="#000">50</text>
<text x="665.60" y="95.00" font-size="7.6" text-anchor="start" fill="#000" color="#000" textLength="12.2" lengthAdjust="spacingAndGlyphs">kDa</text>
<path d="M657.2 106.60 L664.8 102.30 L664.8 110.90 Z" stroke="none" stroke-width="1" fill="#000"/>
<text x="665.60" y="104.80" font-size="7.6" text-anchor="start" fill="#000" color="#000">37</text>
<text x="665.60" y="113.20" font-size="7.6" text-anchor="start" fill="#000" color="#000" textLength="12.2" lengthAdjust="spacingAndGlyphs">kDa</text>
<line x1="37.20" y1="212.20" x2="37.20" y2="288.90" stroke="#222" stroke-width="1.1"/>
<line x1="36.70" y1="288.40" x2="151.50" y2="288.40" stroke="#222" stroke-width="1.1"/>
<line x1="33.80" y1="288.40" x2="37.20" y2="288.40" stroke="#222" stroke-width="1.1"/>
<text x="33.00" y="290.60" font-size="6.3" text-anchor="end" fill="#000" color="#000">0</text>
<line x1="33.80" y1="273.16" x2="37.20" y2="273.16" stroke="#222" stroke-width="1.1"/>
<text x="33.00" y="275.36" font-size="6.3" text-anchor="end" fill="#000" color="#000">50</text>
<line x1="33.80" y1="257.92" x2="37.20" y2="257.92" stroke="#222" stroke-width="1.1"/>
<text x="33.00" y="260.12" font-size="6.3" text-anchor="end" fill="#000" color="#000">100</text>
<line x1="33.80" y1="242.68" x2="37.20" y2="242.68" stroke="#222" stroke-width="1.1"/>
<text x="33.00" y="244.88" font-size="6.3" text-anchor="end" fill="#000" color="#000">150</text>
<line x1="33.80" y1="227.44" x2="37.20" y2="227.44" stroke="#222" stroke-width="1.1"/>
<text x="33.00" y="229.64" font-size="6.3" text-anchor="end" fill="#000" color="#000">200</text>
<line x1="33.80" y1="212.20" x2="37.20" y2="212.20" stroke="#222" stroke-width="1.1"/>
<text x="33.00" y="214.40" font-size="6.3" text-anchor="end" fill="#000" color="#000">250</text>
<line x1="37.20" y1="288.40" x2="37.20" y2="291.20" stroke="#222" stroke-width="1.1"/>
<text x="37.20" y="298.60" font-size="6.3" text-anchor="middle" fill="#000" color="#000">1</text>
<line x1="65.70" y1="288.40" x2="65.70" y2="291.20" stroke="#222" stroke-width="1.1"/>
<text x="65.70" y="298.60" font-size="6.3" text-anchor="middle" fill="#000" color="#000">10</text>
<line x1="94.20" y1="288.40" x2="94.20" y2="291.20" stroke="#222" stroke-width="1.1"/>
<text x="94.20" y="298.60" font-size="6.3" text-anchor="middle" fill="#000" color="#000">100</text>
<line x1="122.70" y1="288.40" x2="122.70" y2="291.20" stroke="#222" stroke-width="1.1"/>
<text x="122.70" y="298.60" font-size="6.3" text-anchor="middle" fill="#000" color="#000">1000</text>
<line x1="151.20" y1="288.40" x2="151.20" y2="291.20" stroke="#222" stroke-width="1.1"/>
<text x="151.20" y="298.60" font-size="6.3" text-anchor="middle" fill="#000" color="#000">10000</text>
<text x="95.00" y="309.50" font-size="7.1" text-anchor="middle" fill="#000" color="#000">anti-CD3ε-Fab density</text>
<text x="94.50" y="317.80" font-size="7.1" text-anchor="middle" fill="#000" color="#000">(molec./µm<tspan font-size="4.6" dy="-2.8">2</tspan><tspan dy="2.8">)</tspan></text>
<text x="0.00" y="0.00" font-size="10.0" text-anchor="middle" fill="#000" color="#000" transform="translate(8.10,249.50) rotate(-90)">CD40L transfer</text>
<text x="0.00" y="0.00" font-size="10.0" text-anchor="middle" fill="#000" color="#000" transform="translate(18.60,250.00) rotate(-90)">(molec./bead)</text>
<line x1="62.94" y1="285.96" x2="62.94" y2="287.79" stroke="#b0a0e0" stroke-width="0.8"/>
<line x1="60.74" y1="285.96" x2="65.14" y2="285.96" stroke="#b0a0e0" stroke-width="0.8"/>
<line x1="60.74" y1="287.79" x2="65.14" y2="287.79" stroke="#b0a0e0" stroke-width="0.8"/>
<line x1="71.52" y1="286.57" x2="71.52" y2="288.40" stroke="#b0a0e0" stroke-width="0.8"/>
<line x1="69.32" y1="286.57" x2="73.72" y2="286.57" stroke="#b0a0e0" stroke-width="0.8"/>
<line x1="69.32" y1="288.40" x2="73.72" y2="288.40" stroke="#b0a0e0" stroke-width="0.8"/>
<line x1="88.48" y1="285.66" x2="88.48" y2="287.49" stroke="#b0a0e0" stroke-width="0.8"/>
<line x1="86.28" y1="285.66" x2="90.68" y2="285.66" stroke="#b0a0e0" stroke-width="0.8"/>
<line x1="86.28" y1="287.49" x2="90.68" y2="287.49" stroke="#b0a0e0" stroke-width="0.8"/>
<line x1="105.54" y1="284.13" x2="105.54" y2="286.57" stroke="#b0a0e0" stroke-width="0.8"/>
<line x1="103.34" y1="284.13" x2="107.74" y2="284.13" stroke="#b0a0e0" stroke-width="0.8"/>
<line x1="103.34" y1="286.57" x2="107.74" y2="286.57" stroke="#b0a0e0" stroke-width="0.8"/>
<line x1="114.12" y1="280.78" x2="114.12" y2="283.83" stroke="#b0a0e0" stroke-width="0.8"/>
<line x1="111.92" y1="280.78" x2="116.32" y2="280.78" stroke="#b0a0e0" stroke-width="0.8"/>
<line x1="111.92" y1="283.83" x2="116.32" y2="283.83" stroke="#b0a0e0" stroke-width="0.8"/>
<line x1="122.70" y1="282.00" x2="122.70" y2="285.66" stroke="#b0a0e0" stroke-width="0.8"/>
<line x1="120.50" y1="282.00" x2="124.90" y2="282.00" stroke="#b0a0e0" stroke-width="0.8"/>
<line x1="120.50" y1="285.66" x2="124.90" y2="285.66" stroke="#b0a0e0" stroke-width="0.8"/>
<line x1="62.94" y1="283.22" x2="62.94" y2="286.27" stroke="#b8dcf2" stroke-width="0.8"/>
<line x1="60.74" y1="283.22" x2="65.14" y2="283.22" stroke="#b8dcf2" stroke-width="0.8"/>
<line x1="60.74" y1="286.27" x2="65.14" y2="286.27" stroke="#b8dcf2" stroke-width="0.8"/>
<line x1="71.52" y1="280.78" x2="71.52" y2="284.44" stroke="#b8dcf2" stroke-width="0.8"/>
<line x1="69.32" y1="280.78" x2="73.72" y2="280.78" stroke="#b8dcf2" stroke-width="0.8"/>
<line x1="69.32" y1="284.44" x2="73.72" y2="284.44" stroke="#b8dcf2" stroke-width="0.8"/>
<line x1="80.10" y1="278.95" x2="80.10" y2="283.22" stroke="#b8dcf2" stroke-width="0.8"/>
<line x1="77.90" y1="278.95" x2="82.30" y2="278.95" stroke="#b8dcf2" stroke-width="0.8"/>
<line x1="77.90" y1="283.22" x2="82.30" y2="283.22" stroke="#b8dcf2" stroke-width="0.8"/>
<line x1="88.48" y1="275.60" x2="88.48" y2="281.08" stroke="#b8dcf2" stroke-width="0.8"/>
<line x1="86.28" y1="275.60" x2="90.68" y2="275.60" stroke="#b8dcf2" stroke-width="0.8"/>
<line x1="86.28" y1="281.08" x2="90.68" y2="281.08" stroke="#b8dcf2" stroke-width="0.8"/>
<line x1="96.96" y1="270.42" x2="96.96" y2="277.73" stroke="#b8dcf2" stroke-width="0.8"/>
<line x1="94.76" y1="270.42" x2="99.16" y2="270.42" stroke="#b8dcf2" stroke-width="0.8"/>
<line x1="94.76" y1="277.73" x2="99.16" y2="277.73" stroke="#b8dcf2" stroke-width="0.8"/>
<line x1="105.54" y1="266.45" x2="105.54" y2="274.99" stroke="#b8dcf2" stroke-width="0.8"/>
<line x1="103.34" y1="266.45" x2="107.74" y2="266.45" stroke="#b8dcf2" stroke-width="0.8"/>
<line x1="103.34" y1="274.99" x2="107.74" y2="274.99" stroke="#b8dcf2" stroke-width="0.8"/>
<line x1="114.12" y1="260.05" x2="114.12" y2="271.03" stroke="#b8dcf2" stroke-width="0.8"/>
<line x1="111.92" y1="260.05" x2="116.32" y2="260.05" stroke="#b8dcf2" stroke-width="0.8"/>
<line x1="111.92" y1="271.03" x2="116.32" y2="271.03" stroke="#b8dcf2" stroke-width="0.8"/>
<line x1="122.70" y1="253.04" x2="122.70" y2="272.55" stroke="#b8dcf2" stroke-width="0.8"/>
<line x1="120.50" y1="253.04" x2="124.90" y2="253.04" stroke="#b8dcf2" stroke-width="0.8"/>
<line x1="120.50" y1="272.55" x2="124.90" y2="272.55" stroke="#b8dcf2" stroke-width="0.8"/>
<line x1="62.94" y1="269.50" x2="62.94" y2="276.21" stroke="#8ccf9c" stroke-width="0.8"/>
<line x1="60.74" y1="269.50" x2="65.14" y2="269.50" stroke="#8ccf9c" stroke-width="0.8"/>
<line x1="60.74" y1="276.21" x2="65.14" y2="276.21" stroke="#8ccf9c" stroke-width="0.8"/>
<line x1="71.52" y1="264.02" x2="71.52" y2="274.99" stroke="#8ccf9c" stroke-width="0.8"/>
<line x1="69.32" y1="264.02" x2="73.72" y2="264.02" stroke="#8ccf9c" stroke-width="0.8"/>
<line x1="69.32" y1="274.99" x2="73.72" y2="274.99" stroke="#8ccf9c" stroke-width="0.8"/>
<line x1="80.10" y1="258.53" x2="80.10" y2="273.16" stroke="#8ccf9c" stroke-width="0.8"/>
<line x1="77.90" y1="258.53" x2="82.30" y2="258.53" stroke="#8ccf9c" stroke-width="0.8"/>
<line x1="77.90" y1="273.16" x2="82.30" y2="273.16" stroke="#8ccf9c" stroke-width="0.8"/>
<line x1="88.48" y1="252.74" x2="88.48" y2="267.98" stroke="#8ccf9c" stroke-width="0.8"/>
<line x1="86.28" y1="252.74" x2="90.68" y2="252.74" stroke="#8ccf9c" stroke-width="0.8"/>
<line x1="86.28" y1="267.98" x2="90.68" y2="267.98" stroke="#8ccf9c" stroke-width="0.8"/>
<line x1="96.96" y1="246.34" x2="96.96" y2="259.75" stroke="#8ccf9c" stroke-width="0.8"/>
<line x1="94.76" y1="246.34" x2="99.16" y2="246.34" stroke="#8ccf9c" stroke-width="0.8"/>
<line x1="94.76" y1="259.75" x2="99.16" y2="259.75" stroke="#8ccf9c" stroke-width="0.8"/>
<line x1="105.54" y1="226.53" x2="105.54" y2="250.91" stroke="#8ccf9c" stroke-width="0.8"/>
<line x1="103.34" y1="226.53" x2="107.74" y2="226.53" stroke="#8ccf9c" stroke-width="0.8"/>
<line x1="103.34" y1="250.91" x2="107.74" y2="250.91" stroke="#8ccf9c" stroke-width="0.8"/>
<line x1="114.12" y1="225.31" x2="114.12" y2="245.42" stroke="#8ccf9c" stroke-width="0.8"/>
<line x1="111.92" y1="225.31" x2="116.32" y2="225.31" stroke="#8ccf9c" stroke-width="0.8"/>
<line x1="111.92" y1="245.42" x2="116.32" y2="245.42" stroke="#8ccf9c" stroke-width="0.8"/>
<line x1="122.70" y1="224.39" x2="122.70" y2="242.68" stroke="#8ccf9c" stroke-width="0.8"/>
<line x1="120.50" y1="224.39" x2="124.90" y2="224.39" stroke="#8ccf9c" stroke-width="0.8"/>
<line x1="120.50" y1="242.68" x2="124.90" y2="242.68" stroke="#8ccf9c" stroke-width="0.8"/>
<path d="M62.94 286.24L64.43 286.23L65.93 286.23L67.42 286.22L68.91 286.22L70.41 286.21L71.90 286.21L73.40 286.20L74.89 286.19L76.38 286.18L77.88 286.17L79.37 286.16L80.87 286.14L82.36 286.13L83.85 286.11L85.35 286.09L86.84 286.06L88.34 286.04L89.83 286.01L91.32 285.98L92.82 285.94L94.31 285.90L95.81 285.85L97.30 285.80L98.80 285.74L100.29 285.67L101.78 285.59L103.28 285.50L104.77 285.41L106.27 285.30L107.76 285.17L109.25 285.03L110.75 284.87L112.24 284.70L113.74 284.49L115.23 284.27L116.72 284.01L118.22 283.72L119.71 283.39L121.21 283.02L122.70 282.61" stroke="#7050c0" stroke-width="1.0" fill="none"/>
<path d="M62.94 285.21L64.43 284.94L65.93 284.66L67.42 284.35L68.91 284.02L70.41 283.67L71.90 283.29L73.40 282.90L74.89 282.48L76.38 282.03L77.88 281.57L79.37 281.07L80.87 280.56L82.36 280.02L83.85 279.46L85.35 278.88L86.84 278.27L88.34 277.65L89.83 277.01L91.32 276.36L92.82 275.70L94.31 275.02L95.81 274.34L97.30 273.65L98.80 272.96L100.29 272.27L101.78 271.59L103.28 270.91L104.77 270.24L106.27 269.58L107.76 268.94L109.25 268.31L110.75 267.70L112.24 267.11L113.74 266.53L115.23 265.99L116.72 265.46L118.22 264.96L119.71 264.48L121.21 264.03L122.70 263.60" stroke="#4a8ad0" stroke-width="0.9" fill="none"/>
<path d="M62.94 279.42L64.43 278.75L65.93 278.02L67.42 277.22L68.91 276.34L70.41 275.40L71.90 274.38L73.40 273.28L74.89 272.10L76.38 270.85L77.88 269.53L79.37 268.14L80.87 266.68L82.36 265.16L83.85 263.60L85.35 262.00L86.84 260.37L88.34 258.72L89.83 257.06L91.32 255.41L92.82 253.78L94.31 252.18L95.81 250.62L97.30 249.11L98.80 247.65L100.29 246.26L101.78 244.94L103.28 243.69L104.77 242.52L106.27 241.43L107.76 240.41L109.25 239.46L110.75 238.59L112.24 237.79L113.74 237.06L115.23 236.40L116.72 235.79L118.22 235.24L119.71 234.74L121.21 234.29L122.70 233.88" stroke="#1f9a45" stroke-width="1.1" fill="none"/>
<circle cx="62.94" cy="286.88" r="2.7" fill="#9580d6" stroke="none" stroke-width="0" fill-opacity="0.9"/>
<circle cx="71.52" cy="287.49" r="2.7" fill="#9580d6" stroke="none" stroke-width="0" fill-opacity="0.9"/>
<circle cx="88.48" cy="286.57" r="2.7" fill="#9580d6" stroke="none" stroke-width="0" fill-opacity="0.9"/>
<circle cx="105.54" cy="285.35" r="2.7" fill="#9580d6" stroke="none" stroke-width="0" fill-opacity="0.9"/>
<circle cx="114.12" cy="282.30" r="2.7" fill="#9580d6" stroke="none" stroke-width="0" fill-opacity="0.9"/>
<circle cx="122.70" cy="283.83" r="2.7" fill="#9580d6" stroke="none" stroke-width="0" fill-opacity="0.9"/>
<circle cx="62.94" cy="284.74" r="2.7" fill="#acd5f0" stroke="none" stroke-width="0" fill-opacity="0.9"/>
<circle cx="71.52" cy="282.61" r="2.7" fill="#acd5f0" stroke="none" stroke-width="0" fill-opacity="0.9"/>
<circle cx="80.10" cy="281.08" r="2.7" fill="#acd5f0" stroke="none" stroke-width="0" fill-opacity="0.9"/>
<circle cx="88.48" cy="278.34" r="2.7" fill="#acd5f0" stroke="none" stroke-width="0" fill-opacity="0.9"/>
<circle cx="96.96" cy="274.07" r="2.7" fill="#acd5f0" stroke="none" stroke-width="0" fill-opacity="0.9"/>
<circle cx="105.54" cy="270.72" r="2.7" fill="#acd5f0" stroke="none" stroke-width="0" fill-opacity="0.9"/>
<circle cx="114.12" cy="265.54" r="2.7" fill="#acd5f0" stroke="none" stroke-width="0" fill-opacity="0.9"/>
<circle cx="122.70" cy="262.80" r="2.7" fill="#acd5f0" stroke="none" stroke-width="0" fill-opacity="0.9"/>
<circle cx="62.94" cy="272.86" r="2.7" fill="#62b67a" stroke="none" stroke-width="0" fill-opacity="0.9"/>
<circle cx="71.52" cy="269.50" r="2.7" fill="#62b67a" stroke="none" stroke-width="0" fill-opacity="0.9"/>
<circle cx="80.10" cy="265.84" r="2.7" fill="#62b67a" stroke="none" stroke-width="0" fill-opacity="0.9"/>
<circle cx="88.48" cy="260.36" r="2.7" fill="#62b67a" stroke="none" stroke-width="0" fill-opacity="0.9"/>
<circle cx="96.96" cy="253.04" r="2.7" fill="#62b67a" stroke="none" stroke-width="0" fill-opacity="0.9"/>
<circle cx="105.54" cy="238.72" r="2.7" fill="#62b67a" stroke="none" stroke-width="0" fill-opacity="0.9"/>
<circle cx="114.12" cy="235.36" r="2.7" fill="#62b67a" stroke="none" stroke-width="0" fill-opacity="0.9"/>
<circle cx="122.70" cy="233.54" r="2.7" fill="#62b67a" stroke="none" stroke-width="0" fill-opacity="0.9"/>
<text x="121.80" y="213.50" font-size="5.15" text-anchor="middle" fill="#000" color="#000">&lt;0.001</text>
<text x="112.70" y="219.70" font-size="5.15" text-anchor="middle" fill="#000" color="#000">&lt;0.001</text>
<text x="102.90" y="224.90" font-size="5.15" text-anchor="middle" fill="#000" color="#000">&lt;0.001</text>
<text x="96.30" y="238.60" font-size="5.15" text-anchor="middle" fill="#000" color="#000">0.006</text>
<text x="86.50" y="249.30" font-size="5.15" text-anchor="middle" fill="#000" color="#000">0.045</text>
<text x="122.00" y="251.40" font-size="5.15" text-anchor="middle" fill="#000" color="#000">0.001</text>
<text x="112.60" y="257.10" font-size="5.15" text-anchor="middle" fill="#000" color="#000">0.008</text>
<text x="104.60" y="262.30" font-size="5.15" text-anchor="middle" fill="#000" color="#000">0.017</text>
<text x="95.10" y="267.80" font-size="5.15" text-anchor="middle" fill="#000" color="#000">0.014</text>
<circle cx="44.5" cy="182.2" r="2.6" fill="#5ab275"/>
<line x1="40.00" y1="182.20" x2="49.00" y2="182.20" stroke="#2a9a4a" stroke-width="0.9"/>
<circle cx="44.5" cy="190.4" r="2.6" fill="#a6d1ef"/>
<line x1="40.00" y1="190.40" x2="49.00" y2="190.40" stroke="#6aa8e0" stroke-width="0.9"/>
<circle cx="44.5" cy="199.5" r="2.6" fill="#8f79d2"/>
<line x1="40.00" y1="199.50" x2="49.00" y2="199.50" stroke="#6a50c0" stroke-width="0.9"/>
<text x="52.80" y="184.60" font-size="6.3" text-anchor="start" fill="#000" color="#000">TH</text>
<text x="52.80" y="192.80" font-size="6.3" text-anchor="start" fill="#000" color="#000">Treg (CD25<tspan font-size="3.8" dy="-2.6">hi</tspan><tspan dy="2.6">)</tspan></text>
<text x="52.80" y="201.90" font-size="6.3" text-anchor="start" fill="#000" color="#000">CTL</text>
<line x1="94.30" y1="181.30" x2="94.30" y2="201.40" stroke="#333" stroke-width="0.9"/>
<text x="112.20" y="193.50" font-size="6.3" text-anchor="middle" fill="#000" color="#000"><tspan font-style="italic">P</tspan> = 0.0001</text>
<text x="112.90" y="201.50" font-size="6.3" text-anchor="middle" fill="#000" color="#000">(F-test)</text>
<line x1="192.00" y1="217.70" x2="192.00" y2="287.00" stroke="#222" stroke-width="1.1"/>
<line x1="191.50" y1="286.50" x2="297.80" y2="286.50" stroke="#222" stroke-width="1.1"/>
<line x1="189.30" y1="286.50" x2="192.00" y2="286.50" stroke="#222" stroke-width="1.1"/>
<text x="188.70" y="288.50" font-size="5.8" text-anchor="end" fill="#000" color="#000">0</text>
<line x1="189.30" y1="269.30" x2="192.00" y2="269.30" stroke="#222" stroke-width="1.1"/>
<text x="188.70" y="271.30" font-size="5.8" text-anchor="end" fill="#000" color="#000">50</text>
<line x1="189.30" y1="252.10" x2="192.00" y2="252.10" stroke="#222" stroke-width="1.1"/>
<text x="188.70" y="254.10" font-size="5.8" text-anchor="end" fill="#000" color="#000">100</text>
<line x1="189.30" y1="234.90" x2="192.00" y2="234.90" stroke="#222" stroke-width="1.1"/>
<text x="188.70" y="236.90" font-size="5.8" text-anchor="end" fill="#000" color="#000">150</text>
<line x1="189.30" y1="217.70" x2="192.00" y2="217.70" stroke="#222" stroke-width="1.1"/>
<text x="188.70" y="219.70" font-size="5.8" text-anchor="end" fill="#000" color="#000">200</text>
<line x1="192.20" y1="286.50" x2="192.20" y2="289.50" stroke="#222" stroke-width="1.1"/>
<text x="192.20" y="296.70" font-size="6.0" text-anchor="middle" fill="#000" color="#000">1</text>
<line x1="218.40" y1="286.50" x2="218.40" y2="289.50" stroke="#222" stroke-width="1.1"/>
<text x="218.40" y="296.70" font-size="6.0" text-anchor="middle" fill="#000" color="#000">10</text>
<line x1="244.60" y1="286.50" x2="244.60" y2="289.50" stroke="#222" stroke-width="1.1"/>
<text x="244.60" y="296.70" font-size="6.0" text-anchor="middle" fill="#000" color="#000">100</text>
<line x1="270.80" y1="286.50" x2="270.80" y2="289.50" stroke="#222" stroke-width="1.1"/>
<text x="270.80" y="296.70" font-size="6.0" text-anchor="middle" fill="#000" color="#000">1000</text>
<line x1="297.00" y1="286.50" x2="297.00" y2="289.50" stroke="#222" stroke-width="1.1"/>
<text x="297.00" y="296.70" font-size="6.0" text-anchor="middle" fill="#000" color="#000">10000</text>
<text x="245.00" y="305.60" font-size="6.8" text-anchor="middle" fill="#000" color="#000">HLA-DR9:HA density</text>
<text x="245.00" y="314.80" font-size="6.8" text-anchor="middle" fill="#000" color="#000">(Molec./µm<tspan font-size="4.4" dy="-2.7">2</tspan><tspan dy="2.7">)</tspan></text>
<text x="0.00" y="0.00" font-size="10.0" text-anchor="middle" fill="#000" color="#000" transform="translate(166.20,252.20) rotate(-90)">CD40L transfer</text>
<text x="0.00" y="0.00" font-size="10.0" text-anchor="middle" fill="#000" color="#000" transform="translate(177.20,252.00) rotate(-90)">(molec./bead)</text>
<line x1="247.14" y1="256.92" x2="247.14" y2="267.92" stroke="#fdd5ae" stroke-width="0.8"/>
<line x1="244.94" y1="256.92" x2="249.34" y2="256.92" stroke="#fdd5ae" stroke-width="0.8"/>
<line x1="244.94" y1="267.92" x2="249.34" y2="267.92" stroke="#fdd5ae" stroke-width="0.8"/>
<line x1="255.03" y1="247.97" x2="255.03" y2="260.36" stroke="#fdd5ae" stroke-width="0.8"/>
<line x1="252.83" y1="247.97" x2="257.23" y2="247.97" stroke="#fdd5ae" stroke-width="0.8"/>
<line x1="252.83" y1="260.36" x2="257.23" y2="260.36" stroke="#fdd5ae" stroke-width="0.8"/>
<line x1="262.91" y1="246.94" x2="262.91" y2="258.64" stroke="#fdd5ae" stroke-width="0.8"/>
<line x1="260.71" y1="246.94" x2="265.11" y2="246.94" stroke="#fdd5ae" stroke-width="0.8"/>
<line x1="260.71" y1="258.64" x2="265.11" y2="258.64" stroke="#fdd5ae" stroke-width="0.8"/>
<line x1="270.80" y1="239.72" x2="270.80" y2="256.23" stroke="#fdd5ae" stroke-width="0.8"/>
<line x1="268.60" y1="239.72" x2="273.00" y2="239.72" stroke="#fdd5ae" stroke-width="0.8"/>
<line x1="268.60" y1="256.23" x2="273.00" y2="256.23" stroke="#fdd5ae" stroke-width="0.8"/>
<line x1="278.69" y1="244.19" x2="278.69" y2="257.95" stroke="#fdd5ae" stroke-width="0.8"/>
<line x1="276.49" y1="244.19" x2="280.89" y2="244.19" stroke="#fdd5ae" stroke-width="0.8"/>
<line x1="276.49" y1="257.95" x2="280.89" y2="257.95" stroke="#fdd5ae" stroke-width="0.8"/>
<line x1="215.86" y1="265.17" x2="215.86" y2="278.93" stroke="#a8cbea" stroke-width="0.8"/>
<line x1="213.66" y1="265.17" x2="218.06" y2="265.17" stroke="#a8cbea" stroke-width="0.8"/>
<line x1="213.66" y1="278.93" x2="218.06" y2="278.93" stroke="#a8cbea" stroke-width="0.8"/>
<line x1="223.75" y1="260.01" x2="223.75" y2="275.15" stroke="#a8cbea" stroke-width="0.8"/>
<line x1="221.55" y1="260.01" x2="225.95" y2="260.01" stroke="#a8cbea" stroke-width="0.8"/>
<line x1="221.55" y1="275.15" x2="225.95" y2="275.15" stroke="#a8cbea" stroke-width="0.8"/>
<line x1="231.63" y1="250.04" x2="231.63" y2="267.24" stroke="#a8cbea" stroke-width="0.8"/>
<line x1="229.43" y1="250.04" x2="233.83" y2="250.04" stroke="#a8cbea" stroke-width="0.8"/>
<line x1="229.43" y1="267.24" x2="233.83" y2="267.24" stroke="#a8cbea" stroke-width="0.8"/>
<line x1="239.34" y1="242.47" x2="239.34" y2="257.60" stroke="#a8cbea" stroke-width="0.8"/>
<line x1="237.14" y1="242.47" x2="241.54" y2="242.47" stroke="#a8cbea" stroke-width="0.8"/>
<line x1="237.14" y1="257.60" x2="241.54" y2="257.60" stroke="#a8cbea" stroke-width="0.8"/>
<line x1="247.14" y1="240.06" x2="247.14" y2="252.44" stroke="#a8cbea" stroke-width="0.8"/>
<line x1="244.94" y1="240.06" x2="249.34" y2="240.06" stroke="#a8cbea" stroke-width="0.8"/>
<line x1="244.94" y1="252.44" x2="249.34" y2="252.44" stroke="#a8cbea" stroke-width="0.8"/>
<line x1="255.03" y1="238.00" x2="255.03" y2="246.25" stroke="#a8cbea" stroke-width="0.8"/>
<line x1="252.83" y1="238.00" x2="257.23" y2="238.00" stroke="#a8cbea" stroke-width="0.8"/>
<line x1="252.83" y1="246.25" x2="257.23" y2="246.25" stroke="#a8cbea" stroke-width="0.8"/>
<line x1="262.91" y1="247.63" x2="262.91" y2="253.13" stroke="#a8cbea" stroke-width="0.8"/>
<line x1="260.71" y1="247.63" x2="265.11" y2="247.63" stroke="#a8cbea" stroke-width="0.8"/>
<line x1="260.71" y1="253.13" x2="265.11" y2="253.13" stroke="#a8cbea" stroke-width="0.8"/>
<line x1="270.80" y1="237.31" x2="270.80" y2="242.81" stroke="#a8cbea" stroke-width="0.8"/>
<line x1="268.60" y1="237.31" x2="273.00" y2="237.31" stroke="#a8cbea" stroke-width="0.8"/>
<line x1="268.60" y1="242.81" x2="273.00" y2="242.81" stroke="#a8cbea" stroke-width="0.8"/>
<line x1="278.69" y1="233.52" x2="278.69" y2="239.03" stroke="#a8cbea" stroke-width="0.8"/>
<line x1="276.49" y1="233.52" x2="280.89" y2="233.52" stroke="#a8cbea" stroke-width="0.8"/>
<line x1="276.49" y1="239.03" x2="280.89" y2="239.03" stroke="#a8cbea" stroke-width="0.8"/>
<line x1="215.86" y1="276.52" x2="215.86" y2="283.40" stroke="#f0a098" stroke-width="0.8"/>
<line x1="213.66" y1="276.52" x2="218.06" y2="276.52" stroke="#f0a098" stroke-width="0.8"/>
<line x1="213.66" y1="283.40" x2="218.06" y2="283.40" stroke="#f0a098" stroke-width="0.8"/>
<line x1="223.75" y1="274.12" x2="223.75" y2="282.37" stroke="#f0a098" stroke-width="0.8"/>
<line x1="221.55" y1="274.12" x2="225.95" y2="274.12" stroke="#f0a098" stroke-width="0.8"/>
<line x1="221.55" y1="282.37" x2="225.95" y2="282.37" stroke="#f0a098" stroke-width="0.8"/>
<line x1="231.63" y1="268.27" x2="231.63" y2="277.90" stroke="#f0a098" stroke-width="0.8"/>
<line x1="229.43" y1="268.27" x2="233.83" y2="268.27" stroke="#f0a098" stroke-width="0.8"/>
<line x1="229.43" y1="277.90" x2="233.83" y2="277.90" stroke="#f0a098" stroke-width="0.8"/>
<line x1="239.34" y1="261.39" x2="239.34" y2="272.40" stroke="#f0a098" stroke-width="0.8"/>
<line x1="237.14" y1="261.39" x2="241.54" y2="261.39" stroke="#f0a098" stroke-width="0.8"/>
<line x1="237.14" y1="272.40" x2="241.54" y2="272.40" stroke="#f0a098" stroke-width="0.8"/>
<line x1="247.14" y1="252.44" x2="247.14" y2="264.83" stroke="#f0a098" stroke-width="0.8"/>
<line x1="244.94" y1="252.44" x2="249.34" y2="252.44" stroke="#f0a098" stroke-width="0.8"/>
<line x1="244.94" y1="264.83" x2="249.34" y2="264.83" stroke="#f0a098" stroke-width="0.8"/>
<line x1="255.03" y1="240.40" x2="255.03" y2="254.16" stroke="#f0a098" stroke-width="0.8"/>
<line x1="252.83" y1="240.40" x2="257.23" y2="240.40" stroke="#f0a098" stroke-width="0.8"/>
<line x1="252.83" y1="254.16" x2="257.23" y2="254.16" stroke="#f0a098" stroke-width="0.8"/>
<line x1="262.91" y1="235.59" x2="262.91" y2="242.47" stroke="#f0a098" stroke-width="0.8"/>
<line x1="260.71" y1="235.59" x2="265.11" y2="235.59" stroke="#f0a098" stroke-width="0.8"/>
<line x1="260.71" y1="242.47" x2="265.11" y2="242.47" stroke="#f0a098" stroke-width="0.8"/>
<line x1="270.80" y1="237.31" x2="270.80" y2="244.19" stroke="#f0a098" stroke-width="0.8"/>
<line x1="268.60" y1="237.31" x2="273.00" y2="237.31" stroke="#f0a098" stroke-width="0.8"/>
<line x1="268.60" y1="244.19" x2="273.00" y2="244.19" stroke="#f0a098" stroke-width="0.8"/>
<line x1="278.69" y1="233.52" x2="278.69" y2="239.03" stroke="#f0a098" stroke-width="0.8"/>
<line x1="276.49" y1="233.52" x2="280.89" y2="233.52" stroke="#f0a098" stroke-width="0.8"/>
<line x1="276.49" y1="239.03" x2="280.89" y2="239.03" stroke="#f0a098" stroke-width="0.8"/>
<path d="M215.86 272.40L223.75 268.27L231.63 258.64L239.34 250.04L247.14 245.91L255.03 242.47L262.91 240.40L270.80 239.03L278.69 236.28" stroke="#6a9fd2" stroke-width="0.7" fill="none" stroke-linejoin="round"/>
<path d="M215.86 279.96L223.75 278.24L231.63 273.08L239.34 266.89L247.14 258.64L255.03 247.28L262.91 239.03L270.80 240.75L278.69 236.28" stroke="#e0504a" stroke-width="0.7" fill="none" stroke-linejoin="round"/>
<path d="M247.14 262.42L255.03 254.16L262.91 252.79L270.80 247.97L278.69 251.07" stroke="#fbb070" stroke-width="0.7" fill="none" stroke-linejoin="round"/>
<circle cx="247.14" cy="262.42" r="2.75" fill="#fcbf86" stroke="none" stroke-width="0" fill-opacity="0.88"/>
<circle cx="255.03" cy="254.16" r="2.75" fill="#fcbf86" stroke="none" stroke-width="0" fill-opacity="0.88"/>
<circle cx="262.91" cy="252.79" r="2.75" fill="#fcbf86" stroke="none" stroke-width="0" fill-opacity="0.88"/>
<circle cx="270.80" cy="247.97" r="2.75" fill="#fcbf86" stroke="none" stroke-width="0" fill-opacity="0.88"/>
<circle cx="278.69" cy="251.07" r="2.75" fill="#fcbf86" stroke="none" stroke-width="0" fill-opacity="0.88"/>
<circle cx="215.86" cy="272.05" r="2.75" fill="#649fd4" stroke="none" stroke-width="0" fill-opacity="0.9"/>
<circle cx="223.75" cy="267.58" r="2.75" fill="#649fd4" stroke="none" stroke-width="0" fill-opacity="0.9"/>
<circle cx="231.63" cy="258.64" r="2.75" fill="#649fd4" stroke="none" stroke-width="0" fill-opacity="0.9"/>
<circle cx="239.34" cy="250.04" r="2.75" fill="#649fd4" stroke="none" stroke-width="0" fill-opacity="0.9"/>
<circle cx="247.14" cy="246.25" r="2.75" fill="#649fd4" stroke="none" stroke-width="0" fill-opacity="0.9"/>
<circle cx="255.03" cy="242.12" r="2.75" fill="#649fd4" stroke="none" stroke-width="0" fill-opacity="0.9"/>
<circle cx="262.91" cy="250.38" r="2.75" fill="#649fd4" stroke="none" stroke-width="0" fill-opacity="0.9"/>
<circle cx="270.80" cy="240.06" r="2.75" fill="#649fd4" stroke="none" stroke-width="0" fill-opacity="0.9"/>
<circle cx="278.69" cy="236.28" r="2.75" fill="#649fd4" stroke="none" stroke-width="0" fill-opacity="0.9"/>
<circle cx="215.86" cy="279.96" r="2.75" fill="#e05548" stroke="none" stroke-width="0" fill-opacity="0.88"/>
<circle cx="223.75" cy="278.24" r="2.75" fill="#e05548" stroke="none" stroke-width="0" fill-opacity="0.88"/>
<circle cx="231.63" cy="273.08" r="2.75" fill="#e05548" stroke="none" stroke-width="0" fill-opacity="0.88"/>
<circle cx="239.34" cy="266.89" r="2.75" fill="#e05548" stroke="none" stroke-width="0" fill-opacity="0.88"/>
<circle cx="247.14" cy="258.64" r="2.75" fill="#e05548" stroke="none" stroke-width="0" fill-opacity="0.88"/>
<circle cx="255.03" cy="247.28" r="2.75" fill="#e05548" stroke="none" stroke-width="0" fill-opacity="0.88"/>
<circle cx="262.91" cy="239.03" r="2.75" fill="#e05548" stroke="none" stroke-width="0" fill-opacity="0.88"/>
<circle cx="270.80" cy="240.75" r="2.75" fill="#b23a44" stroke="none" stroke-width="0" fill-opacity="0.88"/>
<circle cx="278.69" cy="236.28" r="2.75" fill="#b23a44" stroke="none" stroke-width="0" fill-opacity="0.88"/>
<line x1="199.00" y1="190.90" x2="207.20" y2="190.90" stroke="#e05548" stroke-width="0.9"/>
<circle cx="203.10" cy="190.90" r="2.3" fill="#e05548" stroke="none" stroke-width="0"/>
<line x1="199.00" y1="201.70" x2="207.20" y2="201.70" stroke="#fcbf86" stroke-width="0.9"/>
<circle cx="203.10" cy="201.70" r="2.3" fill="#fcbf86" stroke="none" stroke-width="0"/>
<line x1="199.00" y1="212.20" x2="207.20" y2="212.20" stroke="#649fd4" stroke-width="0.9"/>
<circle cx="203.10" cy="212.20" r="2.3" fill="#649fd4" stroke="none" stroke-width="0"/>
<text x="210.80" y="193.00" font-size="5.7" text-anchor="start" fill="#000" color="#000">HLA-DR9:HA Clone 16</text>
<text x="210.80" y="203.80" font-size="5.7" text-anchor="start" fill="#000" color="#000">HLA-DR9:HA Clone 35</text>
<text x="210.80" y="214.30" font-size="5.7" text-anchor="start" fill="#000" color="#000">HLA-DR9:HA Clone 40</text>
<line x1="272.40" y1="189.00" x2="272.40" y2="213.60" stroke="#333" stroke-width="0.9"/>
<text x="287.50" y="201.60" font-size="6.0" text-anchor="middle" fill="#000" color="#000"><tspan font-style="italic">P</tspan> = 0.0002</text>
<text x="287.50" y="208.50" font-size="6.0" text-anchor="middle" fill="#000" color="#000">(F-test)</text>
<text x="352.80" y="185.70" font-size="6.4" text-anchor="middle" fill="#000" color="#000">WGA (PM)</text>
<text x="385.70" y="185.70" font-size="6.4" text-anchor="middle" fill="#000" color="#000">CD40</text>
<text x="416.90" y="178.10" font-size="6.4" text-anchor="middle" fill="#000" color="#000">CD40L</text>
<text x="449.00" y="185.70" font-size="6.4" text-anchor="middle" fill="#000" color="#000">ICAM-1</text>
<text x="479.60" y="185.70" font-size="6.4" text-anchor="middle" fill="#000" color="#000">SIRC</text>
<text x="512.70" y="185.70" font-size="6.4" text-anchor="middle" fill="#000" color="#000">Merge</text>
<text x="417.50" y="186.00" font-size="6.4" text-anchor="middle" fill="#000" color="#000">(pseudo)</text>
<text x="332.00" y="204.60" font-size="6.4" text-anchor="end" fill="#000" color="#000">Clone 16</text>
<text x="332.00" y="244.60" font-size="6.4" text-anchor="end" fill="#000" color="#000">Clone 35</text>
<text x="332.00" y="277.40" font-size="6.4" text-anchor="end" fill="#000" color="#000">Clone 40</text>
<rect x="334.30" y="188.00" width="126.50" height="35.50" fill="#000" stroke="none" stroke-width="0"/>
<rect x="460.80" y="188.00" width="32.20" height="35.50" fill="#b8b8b8" stroke="none" stroke-width="0"/>
<rect x="493.00" y="188.00" width="32.80" height="35.50" fill="#acb4b4" stroke="none" stroke-width="0"/>
<rect x="460.80" y="188.00" width="65.00" height="35.50" filter="url(#speckB)" opacity="0.25"/>
<rect x="334.30" y="225.20" width="126.50" height="32.40" fill="#000" stroke="none" stroke-width="0"/>
<rect x="460.80" y="225.20" width="32.20" height="32.40" fill="#b8b8b8" stroke="none" stroke-width="0"/>
<rect x="493.00" y="225.20" width="32.80" height="32.40" fill="#acb4b4" stroke="none" stroke-width="0"/>
<rect x="460.80" y="225.20" width="65.00" height="32.40" filter="url(#speckB)" opacity="0.25"/>
<rect x="334.30" y="258.90" width="126.50" height="33.90" fill="#000" stroke="none" stroke-width="0"/>
<rect x="460.80" y="258.90" width="32.20" height="33.90" fill="#b8b8b8" stroke="none" stroke-width="0"/>
<rect x="493.00" y="258.90" width="32.80" height="33.90" fill="#acb4b4" stroke="none" stroke-width="0"/>
<rect x="460.80" y="258.90" width="65.00" height="33.90" filter="url(#speckB)" opacity="0.25"/>
<rect x="429.00" y="258.90" width="31.80" height="33.80" fill="#010909" stroke="none" stroke-width="0"/>
<line x1="334.30" y1="258.25" x2="525.80" y2="258.25" stroke="#888" stroke-width="1.2" stroke-opacity="0.6"/>
<g fill="#2a9a2a" filter="url(#bl03)"><g fill-opacity="0.14"><circle cx="395.5" cy="214.0" r="0.5"/><circle cx="385.4" cy="192.9" r="0.3"/><circle cx="396.8" cy="218.6" r="0.4"/><circle cx="396.3" cy="219.3" r="0.4"/><circle cx="376.0" cy="205.1" r="0.4"/><circle cx="371.7" cy="191.2" r="0.3"/><circle cx="396.6" cy="204.1" r="0.4"/><circle cx="377.4" cy="215.6" r="0.5"/><circle cx="388.6" cy="189.5" r="0.3"/><circle cx="370.4" cy="199.4" r="0.3"/><circle cx="372.2" cy="189.7" r="0.4"/><circle cx="383.2" cy="200.2" r="0.4"/><circle cx="369.6" cy="208.0" r="0.4"/><circle cx="374.3" cy="222.3" r="0.4"/><circle cx="379.1" cy="199.5" r="0.5"/><circle cx="370.0" cy="209.9" r="0.4"/><circle cx="375.3" cy="215.5" r="0.5"/><circle cx="366.6" cy="206.9" r="0.4"/><circle cx="395.3" cy="215.5" r="0.3"/><circle cx="374.1" cy="204.2" r="0.5"/><circle cx="390.4" cy="203.3" r="0.4"/><circle cx="387.8" cy="203.4" r="0.4"/><circle cx="376.5" cy="193.8" r="0.4"/><circle cx="375.3" cy="220.2" r="0.3"/><circle cx="377.0" cy="201.8" r="0.3"/><circle cx="372.5" cy="189.9" r="0.5"/><circle cx="378.2" cy="218.9" r="0.3"/><circle cx="374.1" cy="198.1" r="0.3"/><circle cx="375.1" cy="196.6" r="0.4"/><circle cx="397.0" cy="206.4" r="0.4"/><circle cx="373.8" cy="190.2" r="0.4"/><circle cx="372.9" cy="189.1" r="0.4"/><circle cx="368.9" cy="215.1" r="0.5"/><circle cx="375.9" cy="193.0" r="0.3"/><circle cx="390.0" cy="207.7" r="0.3"/><circle cx="391.9" cy="213.6" r="0.3"/><circle cx="382.7" cy="194.4" r="0.4"/><circle cx="390.1" cy="220.8" r="0.4"/><circle cx="396.4" cy="209.1" r="0.3"/><circle cx="373.7" cy="200.6" r="0.3"/><circle cx="396.8" cy="217.5" r="0.5"/><circle cx="385.6" cy="216.1" r="0.4"/><circle cx="366.5" cy="206.2" r="0.4"/><circle cx="371.9" cy="201.9" r="0.4"/><circle cx="367.0" cy="199.3" r="0.4"/><circle cx="381.0" cy="212.8" r="0.4"/><circle cx="368.6" cy="191.5" r="0.4"/><circle cx="384.3" cy="214.7" r="0.4"/><circle cx="387.0" cy="221.5" r="0.5"/><circle cx="387.6" cy="217.4" r="0.4"/><circle cx="385.2" cy="195.7" r="0.4"/><circle cx="374.5" cy="210.0" r="0.5"/><circle cx="383.1" cy="201.4" r="0.3"/><circle cx="377.4" cy="189.1" r="0.4"/><circle cx="380.5" cy="201.7" r="0.4"/><circle cx="390.4" cy="203.5" r="0.4"/><circle cx="379.1" cy="218.7" r="0.5"/><circle cx="389.6" cy="201.4" r="0.5"/><circle cx="370.9" cy="206.4" r="0.5"/><circle cx="373.7" cy="208.1" r="0.4"/><circle cx="381.2" cy="212.8" r="0.3"/><circle cx="381.8" cy="189.8" r="0.4"/><circle cx="395.3" cy="221.3" r="0.5"/><circle cx="370.5" cy="200.6" r="0.4"/><circle cx="374.8" cy="215.5" r="0.4"/><circle cx="374.4" cy="217.1" r="0.4"/><circle cx="374.4" cy="218.7" r="0.4"/><circle cx="366.5" cy="190.0" r="0.5"/><circle cx="385.2" cy="209.6" r="0.3"/><circle cx="394.6" cy="193.5" r="0.4"/><circle cx="383.5" cy="211.4" r="0.4"/><circle cx="393.9" cy="197.6" r="0.4"/><circle cx="371.8" cy="221.0" r="0.5"/><circle cx="379.1" cy="196.3" r="0.3"/><circle cx="382.1" cy="220.7" r="0.5"/><circle cx="369.8" cy="207.0" r="0.3"/><circle cx="396.9" cy="207.2" r="0.4"/><circle cx="374.7" cy="207.5" r="0.5"/><circle cx="394.8" cy="201.7" r="0.4"/><circle cx="382.7" cy="193.3" r="0.3"/><circle cx="375.0" cy="214.2" r="0.4"/><circle cx="371.3" cy="212.6" r="0.3"/><circle cx="393.5" cy="193.1" r="0.4"/><circle cx="366.2" cy="221.1" r="0.4"/><circle cx="382.8" cy="205.0" r="0.3"/><circle cx="374.7" cy="188.8" r="0.4"/><circle cx="377.8" cy="209.1" r="0.5"/><circle cx="368.0" cy="189.0" r="0.5"/><circle cx="367.0" cy="215.9" r="0.5"/><circle cx="385.6" cy="217.3" r="0.4"/><circle cx="388.5" cy="217.9" r="0.4"/><circle cx="375.5" cy="213.6" r="0.4"/><circle cx="393.3" cy="220.1" r="0.5"/><circle cx="372.1" cy="199.8" r="0.4"/><circle cx="369.1" cy="209.4" r="0.4"/><circle cx="370.7" cy="198.4" r="0.3"/><circle cx="366.4" cy="207.5" r="0.5"/><circle cx="392.1" cy="199.8" r="0.5"/><circle cx="368.7" cy="193.7" r="0.3"/><circle cx="394.8" cy="209.5" r="0.4"/><circle cx="375.8" cy="211.9" r="0.3"/><circle cx="382.3" cy="191.3" r="0.4"/><circle cx="370.9" cy="198.1" r="0.4"/><circle cx="395.2" cy="198.6" r="0.3"/><circle cx="380.6" cy="191.9" r="0.5"/><circle cx="371.7" cy="204.9" r="0.4"/><circle cx="397.2" cy="193.0" r="0.4"/><circle cx="388.8" cy="204.3" r="0.4"/><circle cx="375.1" cy="189.7" r="0.5"/><circle cx="384.3" cy="205.9" r="0.5"/><circle cx="385.2" cy="194.1" r="0.5"/><circle cx="382.6" cy="190.1" r="0.3"/><circle cx="380.4" cy="189.6" r="0.3"/><circle cx="397.2" cy="214.0" r="0.5"/><circle cx="392.2" cy="215.5" r="0.4"/><circle cx="371.7" cy="213.3" r="0.4"/><circle cx="380.7" cy="207.3" r="0.3"/><circle cx="383.6" cy="209.4" r="0.4"/><circle cx="375.9" cy="198.1" r="0.4"/><circle cx="381.3" cy="193.7" r="0.4"/><circle cx="390.2" cy="221.5" r="0.4"/><circle cx="385.4" cy="209.7" r="0.4"/><circle cx="382.7" cy="211.5" r="0.4"/><circle cx="381.5" cy="205.5" r="0.4"/><circle cx="372.1" cy="220.5" r="0.4"/><circle cx="381.0" cy="199.8" r="0.4"/><circle cx="370.8" cy="199.4" r="0.5"/><circle cx="369.9" cy="206.6" r="0.4"/><circle cx="367.6" cy="219.4" r="0.4"/><circle cx="366.3" cy="197.5" r="0.5"/><circle cx="366.4" cy="199.1" r="0.4"/><circle cx="396.9" cy="207.6" r="0.4"/><circle cx="368.8" cy="203.2" r="0.4"/><circle cx="382.4" cy="201.2" r="0.3"/><circle cx="384.2" cy="198.6" r="0.4"/><circle cx="373.5" cy="190.7" r="0.4"/><circle cx="369.7" cy="189.8" r="0.5"/><circle cx="395.8" cy="200.5" r="0.4"/><circle cx="374.9" cy="215.5" r="0.4"/><circle cx="367.6" cy="204.3" r="0.3"/><circle cx="375.6" cy="209.5" r="0.4"/><circle cx="395.1" cy="209.9" r="0.4"/><circle cx="390.8" cy="213.1" r="0.3"/><circle cx="379.2" cy="193.9" r="0.3"/><circle cx="394.4" cy="212.7" r="0.3"/><circle cx="397.0" cy="194.8" r="0.4"/><circle cx="385.2" cy="213.0" r="0.3"/><circle cx="374.4" cy="191.1" r="0.3"/><circle cx="370.0" cy="221.5" r="0.4"/><circle cx="372.9" cy="211.6" r="0.4"/><circle cx="386.6" cy="205.4" r="0.5"/><circle cx="387.3" cy="203.2" r="0.5"/><circle cx="367.0" cy="207.0" r="0.5"/><circle cx="382.8" cy="220.8" r="0.4"/><circle cx="376.7" cy="201.9" r="0.3"/><circle cx="370.7" cy="195.1" r="0.5"/><circle cx="394.3" cy="209.0" r="0.3"/><circle cx="385.2" cy="221.5" r="0.4"/><circle cx="370.8" cy="195.5" r="0.4"/><circle cx="374.2" cy="205.5" r="0.3"/><circle cx="391.8" cy="191.8" r="0.3"/><circle cx="394.0" cy="209.5" r="0.5"/><circle cx="388.0" cy="201.5" r="0.3"/><circle cx="374.6" cy="201.1" r="0.5"/><circle cx="388.9" cy="201.8" r="0.4"/><circle cx="369.5" cy="199.4" r="0.5"/><circle cx="377.5" cy="217.3" r="0.5"/><circle cx="371.4" cy="197.1" r="0.4"/><circle cx="374.5" cy="218.0" r="0.5"/><circle cx="380.9" cy="219.0" r="0.4"/><circle cx="377.6" cy="219.0" r="0.4"/><circle cx="379.5" cy="189.6" r="0.4"/><circle cx="366.4" cy="204.6" r="0.5"/><circle cx="395.8" cy="212.3" r="0.4"/><circle cx="369.3" cy="197.1" r="0.3"/><circle cx="388.8" cy="213.7" r="0.4"/><circle cx="379.3" cy="201.6" r="0.4"/><circle cx="384.2" cy="215.7" r="0.3"/><circle cx="379.3" cy="220.4" r="0.4"/><circle cx="386.6" cy="218.4" r="0.5"/><circle cx="383.5" cy="194.6" r="0.4"/><circle cx="375.5" cy="204.8" r="0.4"/><circle cx="382.9" cy="207.9" r="0.4"/><circle cx="373.8" cy="197.0" r="0.5"/><circle cx="397.2" cy="209.1" r="0.5"/><circle cx="386.8" cy="193.0" r="0.4"/><circle cx="397.0" cy="220.4" r="0.4"/><circle cx="369.5" cy="212.1" r="0.4"/></g><g fill-opacity="0.23"><circle cx="374.9" cy="220.1" r="0.5"/><circle cx="393.3" cy="195.7" r="0.3"/><circle cx="366.3" cy="211.9" r="0.4"/><circle cx="389.5" cy="217.6" r="0.3"/><circle cx="395.1" cy="221.0" r="0.4"/><circle cx="377.2" cy="206.6" r="0.5"/><circle cx="369.0" cy="200.3" r="0.4"/><circle cx="394.8" cy="200.2" r="0.5"/><circle cx="391.9" cy="204.2" r="0.4"/><circle cx="380.3" cy="223.0" r="0.5"/><circle cx="378.8" cy="193.6" r="0.4"/><circle cx="374.7" cy="215.5" r="0.5"/><circle cx="381.3" cy="215.1" r="0.4"/><circle cx="375.3" cy="221.1" r="0.4"/><circle cx="391.6" cy="210.8" r="0.5"/><circle cx="393.3" cy="212.2" r="0.5"/><circle cx="395.9" cy="206.4" r="0.4"/><circle cx="388.9" cy="194.4" r="0.5"/><circle cx="384.3" cy="211.5" r="0.4"/><circle cx="379.9" cy="210.9" r="0.3"/><circle cx="378.8" cy="198.1" r="0.4"/><circle cx="367.3" cy="209.7" r="0.3"/><circle cx="370.6" cy="209.1" r="0.4"/><circle cx="370.6" cy="210.2" r="0.5"/><circle cx="381.5" cy="198.4" r="0.4"/><circle cx="388.2" cy="210.3" r="0.4"/><circle cx="394.6" cy="201.8" r="0.4"/><circle cx="390.5" cy="219.9" r="0.3"/><circle cx="381.1" cy="207.4" r="0.4"/><circle cx="391.4" cy="190.9" r="0.3"/><circle cx="367.0" cy="213.4" r="0.5"/><circle cx="385.6" cy="190.0" r="0.3"/><circle cx="378.0" cy="191.0" r="0.3"/><circle cx="370.4" cy="203.4" r="0.4"/><circle cx="377.8" cy="190.4" r="0.4"/><circle cx="370.9" cy="210.3" r="0.4"/><circle cx="374.4" cy="207.5" r="0.4"/><circle cx="389.5" cy="206.3" r="0.3"/><circle cx="368.9" cy="211.5" r="0.3"/><circle cx="370.1" cy="209.0" r="0.3"/><circle cx="393.5" cy="205.1" r="0.4"/><circle cx="391.0" cy="189.5" r="0.4"/><circle cx="387.4" cy="196.2" r="0.3"/><circle cx="373.5" cy="200.0" r="0.4"/><circle cx="392.0" cy="210.9" r="0.5"/><circle cx="367.2" cy="220.4" r="0.4"/><circle cx="395.4" cy="212.2" r="0.4"/><circle cx="380.9" cy="221.1" r="0.3"/><circle cx="367.0" cy="196.5" r="0.3"/><circle cx="378.7" cy="222.1" r="0.4"/><circle cx="375.9" cy="204.6" r="0.4"/><circle cx="389.0" cy="213.3" r="0.3"/><circle cx="386.3" cy="203.4" r="0.5"/><circle cx="381.5" cy="220.8" r="0.3"/><circle cx="368.1" cy="197.3" r="0.4"/><circle cx="378.7" cy="206.8" r="0.3"/><circle cx="394.9" cy="209.1" r="0.5"/><circle cx="375.8" cy="204.0" r="0.5"/><circle cx="373.8" cy="191.4" r="0.4"/><circle cx="384.1" cy="197.0" r="0.3"/><circle cx="388.0" cy="190.2" r="0.3"/><circle cx="379.3" cy="199.3" r="0.5"/><circle cx="388.8" cy="212.7" r="0.4"/><circle cx="391.5" cy="201.7" r="0.3"/><circle cx="391.5" cy="203.0" r="0.3"/><circle cx="383.7" cy="200.8" r="0.5"/><circle cx="392.1" cy="205.4" r="0.3"/><circle cx="371.5" cy="191.9" r="0.4"/><circle cx="394.2" cy="195.4" r="0.5"/><circle cx="378.3" cy="194.6" r="0.4"/><circle cx="371.4" cy="210.3" r="0.5"/><circle cx="392.0" cy="218.8" r="0.4"/><circle cx="394.3" cy="198.9" r="0.4"/><circle cx="385.0" cy="221.8" r="0.3"/><circle cx="389.1" cy="216.7" r="0.5"/><circle cx="385.6" cy="221.8" r="0.3"/><circle cx="377.8" cy="204.3" r="0.4"/><circle cx="374.6" cy="191.8" r="0.4"/><circle cx="367.9" cy="196.0" r="0.5"/><circle cx="367.3" cy="189.3" r="0.5"/><circle cx="394.7" cy="201.6" r="0.5"/><circle cx="389.7" cy="219.3" r="0.3"/><circle cx="397.1" cy="196.0" r="0.4"/><circle cx="380.4" cy="191.0" r="0.4"/><circle cx="384.8" cy="193.2" r="0.3"/><circle cx="394.8" cy="220.8" r="0.3"/><circle cx="390.2" cy="203.0" r="0.4"/><circle cx="377.7" cy="206.8" r="0.4"/><circle cx="368.6" cy="204.0" r="0.4"/><circle cx="382.6" cy="201.9" r="0.5"/><circle cx="368.1" cy="191.5" r="0.4"/><circle cx="378.3" cy="210.2" r="0.3"/><circle cx="394.1" cy="194.6" r="0.3"/><circle cx="387.5" cy="191.7" r="0.3"/><circle cx="380.5" cy="210.9" r="0.5"/><circle cx="392.4" cy="192.7" r="0.5"/><circle cx="374.2" cy="198.8" r="0.3"/><circle cx="389.8" cy="206.3" r="0.5"/><circle cx="368.9" cy="200.7" r="0.3"/><circle cx="387.6" cy="203.9" r="0.4"/><circle cx="386.1" cy="221.5" r="0.3"/><circle cx="394.1" cy="206.0" r="0.3"/><circle cx="380.7" cy="192.0" r="0.5"/><circle cx="384.2" cy="197.2" r="0.4"/><circle cx="379.1" cy="222.2" r="0.3"/><circle cx="392.3" cy="211.8" r="0.4"/><circle cx="373.6" cy="217.1" r="0.4"/><circle cx="379.7" cy="199.1" r="0.4"/><circle cx="371.4" cy="221.4" r="0.5"/><circle cx="387.6" cy="196.0" r="0.4"/><circle cx="393.0" cy="212.1" r="0.5"/><circle cx="393.7" cy="213.1" r="0.4"/><circle cx="381.1" cy="216.2" r="0.4"/><circle cx="371.5" cy="203.2" r="0.4"/><circle cx="391.8" cy="196.4" r="0.4"/><circle cx="369.1" cy="213.7" r="0.4"/><circle cx="376.2" cy="218.1" r="0.5"/><circle cx="375.2" cy="191.6" r="0.4"/><circle cx="377.0" cy="221.1" r="0.3"/><circle cx="376.9" cy="195.7" r="0.4"/><circle cx="376.4" cy="212.2" r="0.4"/><circle cx="381.8" cy="200.5" r="0.4"/><circle cx="386.6" cy="209.7" r="0.4"/><circle cx="379.5" cy="193.0" r="0.4"/><circle cx="369.6" cy="214.6" r="0.5"/><circle cx="387.8" cy="206.1" r="0.5"/><circle cx="392.4" cy="209.9" r="0.5"/><circle cx="385.6" cy="192.3" r="0.5"/><circle cx="377.7" cy="215.5" r="0.5"/><circle cx="378.7" cy="197.3" r="0.4"/><circle cx="379.8" cy="209.7" r="0.4"/><circle cx="367.6" cy="205.7" r="0.4"/><circle cx="392.7" cy="213.7" r="0.4"/><circle cx="394.6" cy="207.7" r="0.4"/><circle cx="384.0" cy="198.2" r="0.3"/><circle cx="368.7" cy="197.0" r="0.4"/><circle cx="373.3" cy="188.7" r="0.4"/><circle cx="384.4" cy="198.2" r="0.4"/><circle cx="384.6" cy="212.8" r="0.4"/><circle cx="381.4" cy="218.6" r="0.4"/><circle cx="389.3" cy="200.5" r="0.4"/><circle cx="381.7" cy="198.7" r="0.3"/><circle cx="394.5" cy="191.2" r="0.4"/><circle cx="379.9" cy="197.4" r="0.4"/><circle cx="376.5" cy="212.1" r="0.4"/><circle cx="395.4" cy="203.8" r="0.4"/><circle cx="395.9" cy="191.4" r="0.5"/><circle cx="386.5" cy="207.1" r="0.5"/><circle cx="392.9" cy="193.6" r="0.4"/><circle cx="385.3" cy="212.6" r="0.5"/><circle cx="391.2" cy="217.1" r="0.3"/><circle cx="376.1" cy="205.7" r="0.3"/><circle cx="375.5" cy="216.5" r="0.3"/><circle cx="387.0" cy="208.1" r="0.5"/><circle cx="395.5" cy="200.7" r="0.3"/><circle cx="370.7" cy="215.6" r="0.3"/><circle cx="388.5" cy="213.9" r="0.5"/><circle cx="380.3" cy="199.2" r="0.5"/><circle cx="373.6" cy="222.9" r="0.4"/><circle cx="373.5" cy="199.3" r="0.4"/><circle cx="386.9" cy="190.2" r="0.4"/><circle cx="392.2" cy="209.0" r="0.3"/><circle cx="371.8" cy="203.9" r="0.5"/><circle cx="377.0" cy="200.4" r="0.3"/><circle cx="374.5" cy="202.7" r="0.5"/><circle cx="384.8" cy="214.4" r="0.5"/><circle cx="372.3" cy="214.0" r="0.5"/><circle cx="389.1" cy="199.6" r="0.4"/><circle cx="376.5" cy="222.2" r="0.4"/><circle cx="380.9" cy="207.9" r="0.4"/><circle cx="377.8" cy="214.7" r="0.4"/><circle cx="388.9" cy="200.6" r="0.3"/><circle cx="391.6" cy="214.3" r="0.5"/><circle cx="385.7" cy="202.6" r="0.4"/><circle cx="387.5" cy="190.9" r="0.5"/><circle cx="372.2" cy="219.7" r="0.5"/><circle cx="396.6" cy="194.6" r="0.3"/><circle cx="372.5" cy="196.1" r="0.4"/><circle cx="387.8" cy="194.9" r="0.4"/><circle cx="375.2" cy="197.3" r="0.3"/><circle cx="369.8" cy="203.6" r="0.3"/><circle cx="382.5" cy="197.3" r="0.5"/><circle cx="379.2" cy="201.3" r="0.4"/><circle cx="383.4" cy="209.1" r="0.4"/><circle cx="386.9" cy="205.4" r="0.5"/><circle cx="397.3" cy="222.9" r="0.5"/><circle cx="385.8" cy="191.4" r="0.3"/><circle cx="371.2" cy="202.0" r="0.3"/><circle cx="381.7" cy="195.3" r="0.4"/><circle cx="385.9" cy="220.5" r="0.4"/></g><g fill-opacity="0.32"><circle cx="380.8" cy="197.0" r="0.4"/><circle cx="384.0" cy="189.0" r="0.3"/><circle cx="396.1" cy="207.1" r="0.4"/><circle cx="372.6" cy="221.0" r="0.4"/><circle cx="390.7" cy="201.1" r="0.4"/><circle cx="369.6" cy="214.3" r="0.5"/><circle cx="392.9" cy="189.8" r="0.5"/><circle cx="387.6" cy="222.9" r="0.3"/><circle cx="378.8" cy="196.7" r="0.4"/><circle cx="367.9" cy="220.1" r="0.3"/><circle cx="381.5" cy="217.4" r="0.3"/><circle cx="389.0" cy="221.3" r="0.4"/><circle cx="390.7" cy="192.2" r="0.4"/><circle cx="370.8" cy="217.6" r="0.4"/><circle cx="381.7" cy="200.2" r="0.3"/><circle cx="387.8" cy="211.4" r="0.5"/><circle cx="377.5" cy="212.8" r="0.4"/><circle cx="384.3" cy="188.9" r="0.4"/><circle cx="377.0" cy="210.7" r="0.4"/><circle cx="371.4" cy="217.4" r="0.5"/><circle cx="387.5" cy="210.3" r="0.3"/><circle cx="378.0" cy="209.6" r="0.4"/><circle cx="373.6" cy="219.7" r="0.3"/><circle cx="391.5" cy="210.7" r="0.4"/><circle cx="396.0" cy="221.9" r="0.4"/><circle cx="377.9" cy="203.4" r="0.3"/><circle cx="375.3" cy="222.0" r="0.4"/><circle cx="374.5" cy="193.8" r="0.5"/><circle cx="369.9" cy="214.7" r="0.4"/><circle cx="382.8" cy="200.1" r="0.4"/><circle cx="393.8" cy="207.3" r="0.3"/><circle cx="392.0" cy="190.8" r="0.5"/><circle cx="391.7" cy="215.8" r="0.4"/><circle cx="397.2" cy="212.7" r="0.3"/><circle cx="395.8" cy="213.1" r="0.3"/><circle cx="384.1" cy="214.1" r="0.5"/><circle cx="384.9" cy="205.4" r="0.5"/><circle cx="367.9" cy="193.7" r="0.5"/><circle cx="396.5" cy="211.4" r="0.5"/><circle cx="379.7" cy="217.9" r="0.4"/><circle cx="381.2" cy="214.7" r="0.3"/><circle cx="380.8" cy="219.2" r="0.4"/><circle cx="371.0" cy="194.0" r="0.4"/><circle cx="388.9" cy="194.1" r="0.3"/><circle cx="373.7" cy="211.7" r="0.5"/><circle cx="369.1" cy="191.0" r="0.5"/><circle cx="375.7" cy="190.3" r="0.3"/><circle cx="385.6" cy="213.5" r="0.5"/><circle cx="387.2" cy="198.4" r="0.3"/><circle cx="367.8" cy="193.0" r="0.4"/><circle cx="392.9" cy="221.2" r="0.4"/><circle cx="373.4" cy="203.3" r="0.4"/><circle cx="380.1" cy="220.9" r="0.5"/><circle cx="369.9" cy="199.4" r="0.5"/><circle cx="380.5" cy="203.5" r="0.4"/><circle cx="396.6" cy="189.6" r="0.4"/><circle cx="372.9" cy="198.1" r="0.3"/><circle cx="376.3" cy="212.1" r="0.5"/><circle cx="396.8" cy="216.6" r="0.5"/><circle cx="387.7" cy="211.6" r="0.4"/><circle cx="387.3" cy="206.5" r="0.4"/><circle cx="388.5" cy="191.0" r="0.5"/><circle cx="394.1" cy="196.7" r="0.5"/><circle cx="383.1" cy="202.1" r="0.3"/><circle cx="378.2" cy="192.3" r="0.4"/><circle cx="383.4" cy="213.2" r="0.4"/><circle cx="393.8" cy="195.8" r="0.4"/><circle cx="373.2" cy="190.7" r="0.4"/><circle cx="385.0" cy="194.8" r="0.3"/><circle cx="384.7" cy="210.8" r="0.4"/><circle cx="373.3" cy="212.5" r="0.5"/><circle cx="381.0" cy="192.0" r="0.3"/><circle cx="371.1" cy="191.7" r="0.3"/><circle cx="385.3" cy="192.1" r="0.5"/><circle cx="388.4" cy="220.4" r="0.5"/><circle cx="384.8" cy="201.4" r="0.4"/><circle cx="381.6" cy="221.7" r="0.5"/><circle cx="375.4" cy="192.5" r="0.4"/><circle cx="387.9" cy="215.7" r="0.4"/><circle cx="382.3" cy="190.2" r="0.4"/><circle cx="373.6" cy="211.5" r="0.3"/><circle cx="391.4" cy="188.7" r="0.5"/><circle cx="380.0" cy="204.8" r="0.3"/><circle cx="394.3" cy="210.8" r="0.4"/><circle cx="374.6" cy="204.7" r="0.4"/><circle cx="386.9" cy="192.8" r="0.3"/><circle cx="371.9" cy="203.3" r="0.4"/><circle cx="381.1" cy="208.6" r="0.5"/><circle cx="377.0" cy="189.2" r="0.4"/><circle cx="380.2" cy="211.1" r="0.5"/><circle cx="370.7" cy="221.9" r="0.4"/><circle cx="395.7" cy="192.3" r="0.3"/><circle cx="388.6" cy="190.9" r="0.4"/><circle cx="385.9" cy="217.6" r="0.4"/><circle cx="386.0" cy="213.5" r="0.4"/><circle cx="378.9" cy="199.9" r="0.3"/><circle cx="368.2" cy="213.2" r="0.4"/><circle cx="383.8" cy="198.5" r="0.3"/><circle cx="394.8" cy="199.7" r="0.5"/><circle cx="395.4" cy="204.6" r="0.4"/><circle cx="394.7" cy="208.3" r="0.4"/><circle cx="380.8" cy="214.7" r="0.4"/><circle cx="370.4" cy="195.5" r="0.4"/><circle cx="370.3" cy="194.3" r="0.3"/><circle cx="367.8" cy="213.4" r="0.3"/><circle cx="390.0" cy="200.1" r="0.4"/><circle cx="394.8" cy="198.2" r="0.4"/><circle cx="392.7" cy="211.3" r="0.4"/><circle cx="389.0" cy="205.9" r="0.4"/><circle cx="385.3" cy="216.0" r="0.3"/><circle cx="381.6" cy="188.5" r="0.5"/><circle cx="369.5" cy="204.3" r="0.4"/><circle cx="391.2" cy="204.9" r="0.4"/><circle cx="366.8" cy="219.0" r="0.5"/><circle cx="372.5" cy="190.8" r="0.4"/><circle cx="369.3" cy="201.2" r="0.3"/><circle cx="380.2" cy="202.6" r="0.3"/><circle cx="380.4" cy="215.0" r="0.4"/><circle cx="387.4" cy="215.0" r="0.3"/><circle cx="382.8" cy="217.5" r="0.4"/><circle cx="370.8" cy="203.2" r="0.3"/><circle cx="368.0" cy="209.3" r="0.5"/><circle cx="391.6" cy="190.9" r="0.4"/><circle cx="382.2" cy="204.7" r="0.4"/><circle cx="393.3" cy="190.5" r="0.3"/><circle cx="375.1" cy="197.6" r="0.5"/><circle cx="380.1" cy="213.8" r="0.3"/><circle cx="380.4" cy="194.1" r="0.4"/><circle cx="395.4" cy="202.0" r="0.5"/><circle cx="371.6" cy="202.7" r="0.5"/><circle cx="390.4" cy="199.1" r="0.4"/><circle cx="373.9" cy="190.8" r="0.3"/><circle cx="366.5" cy="199.0" r="0.5"/><circle cx="374.3" cy="204.3" r="0.3"/><circle cx="389.4" cy="208.9" r="0.4"/><circle cx="392.8" cy="215.8" r="0.4"/><circle cx="370.9" cy="188.8" r="0.4"/><circle cx="387.7" cy="191.2" r="0.3"/><circle cx="382.4" cy="217.4" r="0.4"/><circle cx="384.9" cy="210.7" r="0.3"/><circle cx="369.4" cy="220.5" r="0.3"/><circle cx="374.6" cy="194.1" r="0.4"/><circle cx="387.8" cy="210.1" r="0.3"/><circle cx="373.3" cy="198.2" r="0.5"/><circle cx="388.6" cy="205.0" r="0.4"/><circle cx="395.0" cy="212.9" r="0.4"/><circle cx="389.7" cy="200.0" r="0.5"/><circle cx="393.1" cy="213.1" r="0.5"/><circle cx="377.5" cy="188.5" r="0.3"/><circle cx="375.3" cy="210.2" r="0.4"/><circle cx="379.9" cy="214.9" r="0.4"/><circle cx="393.4" cy="199.4" r="0.5"/><circle cx="394.5" cy="219.8" r="0.3"/><circle cx="373.8" cy="203.1" r="0.3"/><circle cx="382.5" cy="211.7" r="0.4"/><circle cx="367.1" cy="192.7" r="0.4"/><circle cx="366.5" cy="211.8" r="0.4"/><circle cx="368.3" cy="191.4" r="0.5"/><circle cx="370.4" cy="221.2" r="0.5"/><circle cx="394.5" cy="212.0" r="0.3"/><circle cx="373.2" cy="206.3" r="0.4"/><circle cx="379.5" cy="195.2" r="0.3"/><circle cx="386.1" cy="200.9" r="0.4"/><circle cx="387.6" cy="199.8" r="0.4"/><circle cx="367.0" cy="189.3" r="0.4"/><circle cx="377.3" cy="203.5" r="0.4"/><circle cx="384.3" cy="209.2" r="0.5"/><circle cx="381.6" cy="203.0" r="0.4"/><circle cx="389.5" cy="207.4" r="0.4"/><circle cx="384.1" cy="192.5" r="0.3"/><circle cx="378.2" cy="193.0" r="0.5"/><circle cx="374.7" cy="188.6" r="0.4"/><circle cx="390.8" cy="208.8" r="0.5"/><circle cx="373.3" cy="213.7" r="0.4"/><circle cx="384.2" cy="198.9" r="0.3"/><circle cx="383.3" cy="209.5" r="0.5"/><circle cx="371.5" cy="200.9" r="0.4"/><circle cx="381.7" cy="214.5" r="0.4"/><circle cx="367.7" cy="188.5" r="0.4"/><circle cx="383.6" cy="211.8" r="0.4"/><circle cx="393.1" cy="217.3" r="0.3"/><circle cx="379.5" cy="219.4" r="0.3"/><circle cx="371.4" cy="212.0" r="0.4"/><circle cx="383.0" cy="197.4" r="0.5"/><circle cx="367.6" cy="191.0" r="0.4"/><circle cx="394.6" cy="203.5" r="0.5"/><circle cx="374.9" cy="200.4" r="0.4"/><circle cx="392.2" cy="210.6" r="0.4"/><circle cx="373.6" cy="210.2" r="0.4"/><circle cx="372.3" cy="215.3" r="0.5"/><circle cx="388.1" cy="193.8" r="0.3"/><circle cx="368.2" cy="212.7" r="0.5"/><circle cx="390.5" cy="213.2" r="0.4"/><circle cx="368.5" cy="193.5" r="0.5"/><circle cx="388.3" cy="220.8" r="0.3"/></g><g fill-opacity="0.41"><circle cx="385.6" cy="214.1" r="0.5"/><circle cx="367.1" cy="204.6" r="0.5"/><circle cx="386.4" cy="219.6" r="0.3"/><circle cx="371.2" cy="216.0" r="0.3"/><circle cx="377.4" cy="194.2" r="0.3"/><circle cx="368.2" cy="198.9" r="0.4"/><circle cx="375.8" cy="216.7" r="0.4"/><circle cx="368.0" cy="222.1" r="0.3"/><circle cx="366.5" cy="190.1" r="0.3"/><circle cx="395.9" cy="195.3" r="0.5"/><circle cx="383.2" cy="199.3" r="0.4"/><circle cx="367.7" cy="222.5" r="0.4"/><circle cx="388.9" cy="205.0" r="0.4"/><circle cx="396.9" cy="221.6" r="0.4"/><circle cx="374.0" cy="211.7" r="0.4"/><circle cx="392.0" cy="200.6" r="0.5"/><circle cx="381.0" cy="212.4" r="0.4"/><circle cx="385.6" cy="215.2" r="0.4"/><circle cx="380.9" cy="196.3" r="0.3"/><circle cx="369.8" cy="217.2" r="0.4"/><circle cx="396.0" cy="216.7" r="0.4"/><circle cx="377.1" cy="219.3" r="0.3"/><circle cx="396.1" cy="220.0" r="0.4"/><circle cx="375.3" cy="209.5" r="0.4"/><circle cx="386.3" cy="209.3" r="0.4"/><circle cx="382.7" cy="204.5" r="0.4"/><circle cx="389.4" cy="208.9" r="0.3"/><circle cx="392.7" cy="195.3" r="0.4"/><circle cx="392.4" cy="196.1" r="0.4"/><circle cx="385.2" cy="202.8" r="0.3"/><circle cx="394.5" cy="207.6" r="0.4"/><circle cx="373.5" cy="201.3" r="0.4"/><circle cx="371.8" cy="213.1" r="0.4"/><circle cx="370.5" cy="210.1" r="0.4"/><circle cx="384.6" cy="208.3" r="0.4"/><circle cx="378.5" cy="191.8" r="0.3"/><circle cx="379.5" cy="204.6" r="0.3"/><circle cx="387.0" cy="198.5" r="0.4"/><circle cx="366.4" cy="190.6" r="0.5"/><circle cx="379.0" cy="190.1" r="0.4"/><circle cx="396.4" cy="194.7" r="0.4"/><circle cx="376.0" cy="192.2" r="0.4"/><circle cx="381.3" cy="208.2" r="0.4"/><circle cx="373.2" cy="192.5" r="0.4"/><circle cx="375.1" cy="201.4" r="0.3"/><circle cx="383.5" cy="219.4" r="0.4"/><circle cx="389.8" cy="208.3" r="0.4"/><circle cx="391.6" cy="211.1" r="0.5"/><circle cx="368.3" cy="194.3" r="0.4"/><circle cx="376.5" cy="188.9" r="0.4"/><circle cx="381.2" cy="218.9" r="0.4"/><circle cx="385.4" cy="202.3" r="0.3"/><circle cx="391.0" cy="201.0" r="0.4"/><circle cx="375.7" cy="220.6" r="0.4"/><circle cx="394.2" cy="219.9" r="0.4"/><circle cx="379.2" cy="203.2" r="0.4"/><circle cx="367.1" cy="192.5" r="0.4"/><circle cx="388.9" cy="190.6" r="0.4"/><circle cx="392.2" cy="221.5" r="0.4"/><circle cx="392.6" cy="210.8" r="0.5"/><circle cx="369.4" cy="190.7" r="0.3"/><circle cx="389.3" cy="191.4" r="0.4"/><circle cx="368.4" cy="214.7" r="0.4"/><circle cx="377.2" cy="213.9" r="0.5"/><circle cx="378.1" cy="198.5" r="0.4"/><circle cx="375.4" cy="200.1" r="0.5"/><circle cx="396.8" cy="207.2" r="0.4"/><circle cx="395.2" cy="191.7" r="0.4"/><circle cx="374.9" cy="221.4" r="0.4"/><circle cx="382.0" cy="190.3" r="0.4"/><circle cx="390.5" cy="203.1" r="0.5"/><circle cx="394.1" cy="219.0" r="0.3"/><circle cx="366.8" cy="217.1" r="0.5"/><circle cx="388.0" cy="191.6" r="0.3"/><circle cx="386.2" cy="201.4" r="0.4"/><circle cx="383.2" cy="213.7" r="0.3"/><circle cx="385.2" cy="215.9" r="0.3"/><circle cx="375.6" cy="194.2" r="0.5"/><circle cx="375.5" cy="207.5" r="0.5"/><circle cx="383.8" cy="195.7" r="0.4"/><circle cx="367.8" cy="214.0" r="0.4"/><circle cx="381.6" cy="218.6" r="0.3"/><circle cx="384.5" cy="192.6" r="0.4"/><circle cx="380.7" cy="193.9" r="0.3"/><circle cx="374.4" cy="221.2" r="0.3"/><circle cx="379.4" cy="209.9" r="0.4"/><circle cx="371.6" cy="193.3" r="0.4"/><circle cx="381.6" cy="207.0" r="0.5"/><circle cx="390.6" cy="217.3" r="0.4"/><circle cx="369.6" cy="197.4" r="0.4"/><circle cx="390.1" cy="200.1" r="0.3"/><circle cx="367.8" cy="222.0" r="0.4"/><circle cx="393.2" cy="190.7" r="0.4"/><circle cx="379.5" cy="195.7" r="0.4"/><circle cx="388.9" cy="192.0" r="0.5"/><circle cx="380.1" cy="209.9" r="0.5"/><circle cx="386.1" cy="205.4" r="0.5"/><circle cx="386.6" cy="214.6" r="0.4"/><circle cx="390.2" cy="217.4" r="0.3"/><circle cx="372.5" cy="222.1" r="0.5"/><circle cx="378.2" cy="210.7" r="0.3"/><circle cx="384.3" cy="214.1" r="0.4"/><circle cx="380.0" cy="212.2" r="0.3"/><circle cx="374.3" cy="217.5" r="0.3"/><circle cx="373.0" cy="188.6" r="0.4"/><circle cx="379.1" cy="211.3" r="0.4"/><circle cx="373.0" cy="211.4" r="0.4"/><circle cx="394.7" cy="210.5" r="0.3"/><circle cx="368.4" cy="211.8" r="0.3"/><circle cx="392.5" cy="208.2" r="0.4"/><circle cx="393.5" cy="199.1" r="0.4"/><circle cx="385.0" cy="208.9" r="0.3"/><circle cx="368.3" cy="191.3" r="0.4"/><circle cx="375.0" cy="211.1" r="0.3"/><circle cx="386.7" cy="196.9" r="0.4"/><circle cx="397.0" cy="215.7" r="0.3"/><circle cx="372.2" cy="222.5" r="0.4"/><circle cx="371.5" cy="197.8" r="0.3"/><circle cx="396.0" cy="205.3" r="0.5"/><circle cx="378.4" cy="199.4" r="0.4"/><circle cx="373.3" cy="195.6" r="0.4"/><circle cx="372.6" cy="220.3" r="0.3"/><circle cx="380.1" cy="207.8" r="0.3"/><circle cx="367.6" cy="205.9" r="0.4"/><circle cx="388.1" cy="196.5" r="0.4"/><circle cx="385.5" cy="190.6" r="0.5"/><circle cx="373.3" cy="205.5" r="0.4"/><circle cx="388.7" cy="214.9" r="0.4"/><circle cx="397.0" cy="199.7" r="0.4"/><circle cx="379.5" cy="220.0" r="0.5"/><circle cx="383.7" cy="190.2" r="0.5"/><circle cx="381.0" cy="199.1" r="0.5"/><circle cx="372.7" cy="217.9" r="0.4"/><circle cx="367.6" cy="219.2" r="0.5"/><circle cx="394.2" cy="205.5" r="0.5"/><circle cx="381.2" cy="219.1" r="0.4"/><circle cx="396.7" cy="199.6" r="0.5"/><circle cx="392.2" cy="220.7" r="0.4"/><circle cx="368.5" cy="198.1" r="0.4"/><circle cx="367.2" cy="218.9" r="0.3"/><circle cx="385.3" cy="204.9" r="0.4"/><circle cx="371.5" cy="219.0" r="0.5"/><circle cx="381.4" cy="212.0" r="0.4"/><circle cx="395.6" cy="203.6" r="0.5"/><circle cx="386.2" cy="198.4" r="0.5"/><circle cx="392.1" cy="198.4" r="0.4"/><circle cx="385.5" cy="217.9" r="0.5"/><circle cx="385.0" cy="205.7" r="0.4"/><circle cx="387.4" cy="201.8" r="0.3"/><circle cx="376.4" cy="200.6" r="0.5"/><circle cx="393.5" cy="195.2" r="0.5"/><circle cx="386.9" cy="210.6" r="0.5"/><circle cx="373.7" cy="201.2" r="0.5"/><circle cx="387.4" cy="197.7" r="0.4"/><circle cx="384.3" cy="206.7" r="0.5"/><circle cx="384.1" cy="210.5" r="0.4"/><circle cx="390.0" cy="213.0" r="0.4"/><circle cx="380.6" cy="195.7" r="0.5"/><circle cx="387.5" cy="197.9" r="0.4"/><circle cx="394.7" cy="197.5" r="0.4"/><circle cx="395.1" cy="196.4" r="0.5"/><circle cx="384.9" cy="223.0" r="0.5"/><circle cx="380.5" cy="205.6" r="0.5"/><circle cx="391.9" cy="207.8" r="0.4"/><circle cx="370.7" cy="214.2" r="0.3"/><circle cx="371.4" cy="209.9" r="0.3"/><circle cx="392.1" cy="210.9" r="0.5"/><circle cx="374.0" cy="201.5" r="0.4"/><circle cx="384.8" cy="201.8" r="0.4"/><circle cx="385.7" cy="218.8" r="0.4"/><circle cx="370.7" cy="212.0" r="0.4"/><circle cx="381.5" cy="204.1" r="0.3"/><circle cx="371.7" cy="221.5" r="0.3"/><circle cx="370.6" cy="214.0" r="0.4"/><circle cx="372.7" cy="212.9" r="0.4"/><circle cx="380.6" cy="196.5" r="0.5"/><circle cx="390.5" cy="213.5" r="0.4"/></g></g>
<g fill="#2a9a2a" filter="url(#bl03)"><g fill-opacity="0.14"><circle cx="374.4" cy="242.2" r="0.5"/><circle cx="379.3" cy="227.5" r="0.5"/><circle cx="368.8" cy="244.3" r="0.3"/><circle cx="387.1" cy="244.6" r="0.5"/><circle cx="374.2" cy="253.6" r="0.4"/><circle cx="380.1" cy="231.7" r="0.3"/><circle cx="395.8" cy="238.1" r="0.3"/><circle cx="369.6" cy="243.3" r="0.5"/><circle cx="384.3" cy="235.1" r="0.4"/><circle cx="367.6" cy="240.4" r="0.4"/><circle cx="368.2" cy="232.5" r="0.5"/><circle cx="392.4" cy="252.1" r="0.4"/><circle cx="378.5" cy="233.7" r="0.4"/><circle cx="379.9" cy="232.1" r="0.4"/><circle cx="385.7" cy="233.0" r="0.5"/><circle cx="378.0" cy="245.8" r="0.4"/><circle cx="384.1" cy="241.6" r="0.4"/><circle cx="394.7" cy="247.0" r="0.3"/><circle cx="368.2" cy="242.7" r="0.3"/><circle cx="389.0" cy="251.2" r="0.4"/><circle cx="388.3" cy="225.8" r="0.5"/><circle cx="378.6" cy="256.9" r="0.4"/><circle cx="372.2" cy="253.3" r="0.4"/><circle cx="373.9" cy="232.2" r="0.5"/><circle cx="370.9" cy="253.6" r="0.4"/><circle cx="369.5" cy="237.1" r="0.4"/><circle cx="375.7" cy="256.0" r="0.5"/><circle cx="386.1" cy="236.4" r="0.4"/><circle cx="376.3" cy="231.1" r="0.3"/><circle cx="371.0" cy="245.0" r="0.3"/><circle cx="386.6" cy="254.2" r="0.5"/><circle cx="390.7" cy="243.5" r="0.3"/><circle cx="373.4" cy="245.9" r="0.4"/><circle cx="394.3" cy="242.9" r="0.5"/><circle cx="375.4" cy="249.2" r="0.4"/><circle cx="379.4" cy="231.2" r="0.5"/><circle cx="387.3" cy="246.4" r="0.3"/><circle cx="385.2" cy="241.2" r="0.4"/><circle cx="373.5" cy="229.4" r="0.5"/><circle cx="392.7" cy="236.2" r="0.4"/><circle cx="393.1" cy="250.5" r="0.3"/><circle cx="368.3" cy="241.6" r="0.3"/><circle cx="384.7" cy="236.1" r="0.3"/><circle cx="385.1" cy="237.9" r="0.4"/><circle cx="378.1" cy="228.8" r="0.4"/><circle cx="375.2" cy="247.5" r="0.3"/><circle cx="369.3" cy="231.9" r="0.4"/><circle cx="394.0" cy="235.6" r="0.5"/><circle cx="381.1" cy="243.8" r="0.4"/><circle cx="376.0" cy="235.5" r="0.4"/><circle cx="374.9" cy="242.1" r="0.4"/><circle cx="381.6" cy="234.2" r="0.4"/><circle cx="393.4" cy="241.8" r="0.3"/><circle cx="389.2" cy="254.0" r="0.5"/><circle cx="370.1" cy="244.5" r="0.4"/><circle cx="388.0" cy="232.8" r="0.3"/><circle cx="382.2" cy="228.4" r="0.4"/><circle cx="395.7" cy="229.7" r="0.5"/><circle cx="393.3" cy="235.7" r="0.4"/><circle cx="386.1" cy="244.3" r="0.5"/><circle cx="371.9" cy="245.8" r="0.5"/><circle cx="396.3" cy="233.5" r="0.4"/><circle cx="374.8" cy="227.8" r="0.5"/><circle cx="385.7" cy="246.2" r="0.3"/><circle cx="390.6" cy="235.9" r="0.4"/><circle cx="391.3" cy="241.1" r="0.4"/><circle cx="394.9" cy="235.7" r="0.4"/><circle cx="388.1" cy="248.6" r="0.4"/><circle cx="387.0" cy="245.5" r="0.4"/><circle cx="393.2" cy="238.6" r="0.5"/><circle cx="394.7" cy="239.1" r="0.3"/><circle cx="396.1" cy="234.1" r="0.5"/><circle cx="391.0" cy="231.7" r="0.4"/><circle cx="374.5" cy="249.9" r="0.5"/><circle cx="382.2" cy="241.8" r="0.4"/><circle cx="388.8" cy="243.4" r="0.4"/><circle cx="381.4" cy="242.1" r="0.3"/><circle cx="380.2" cy="252.4" r="0.4"/><circle cx="371.2" cy="226.6" r="0.4"/><circle cx="372.2" cy="243.2" r="0.4"/><circle cx="393.1" cy="244.9" r="0.5"/><circle cx="379.3" cy="253.4" r="0.4"/><circle cx="372.9" cy="253.7" r="0.5"/><circle cx="397.2" cy="238.7" r="0.4"/><circle cx="382.8" cy="243.9" r="0.4"/><circle cx="374.0" cy="234.8" r="0.5"/></g><g fill-opacity="0.23"><circle cx="390.5" cy="254.3" r="0.5"/><circle cx="391.1" cy="257.0" r="0.3"/><circle cx="371.3" cy="241.4" r="0.4"/><circle cx="375.4" cy="246.2" r="0.4"/><circle cx="383.0" cy="227.8" r="0.4"/><circle cx="377.8" cy="233.1" r="0.4"/><circle cx="366.7" cy="250.9" r="0.4"/><circle cx="369.9" cy="238.8" r="0.5"/><circle cx="388.5" cy="234.5" r="0.5"/><circle cx="369.7" cy="247.4" r="0.4"/><circle cx="392.8" cy="245.9" r="0.3"/><circle cx="396.3" cy="249.2" r="0.4"/><circle cx="393.4" cy="249.0" r="0.4"/><circle cx="377.5" cy="229.3" r="0.5"/><circle cx="378.8" cy="249.2" r="0.5"/><circle cx="394.9" cy="237.1" r="0.3"/><circle cx="382.7" cy="235.5" r="0.5"/><circle cx="382.4" cy="229.2" r="0.3"/><circle cx="385.5" cy="236.9" r="0.4"/><circle cx="395.6" cy="255.4" r="0.3"/><circle cx="389.4" cy="238.7" r="0.3"/><circle cx="381.7" cy="242.5" r="0.4"/><circle cx="367.4" cy="229.1" r="0.3"/><circle cx="383.8" cy="236.5" r="0.5"/><circle cx="367.7" cy="252.0" r="0.5"/><circle cx="368.7" cy="229.4" r="0.5"/><circle cx="389.3" cy="239.0" r="0.3"/><circle cx="369.5" cy="250.0" r="0.3"/><circle cx="368.5" cy="237.4" r="0.4"/><circle cx="373.1" cy="233.6" r="0.5"/><circle cx="388.0" cy="249.7" r="0.5"/><circle cx="375.1" cy="231.1" r="0.3"/><circle cx="385.3" cy="239.7" r="0.3"/><circle cx="369.3" cy="246.4" r="0.4"/><circle cx="375.9" cy="243.7" r="0.4"/><circle cx="393.5" cy="250.5" r="0.4"/><circle cx="387.4" cy="241.3" r="0.5"/><circle cx="381.4" cy="239.1" r="0.3"/><circle cx="367.5" cy="239.3" r="0.3"/><circle cx="385.6" cy="226.8" r="0.5"/><circle cx="383.3" cy="247.8" r="0.4"/><circle cx="383.6" cy="253.1" r="0.4"/><circle cx="368.8" cy="243.7" r="0.5"/><circle cx="370.0" cy="244.8" r="0.3"/><circle cx="394.6" cy="244.5" r="0.3"/><circle cx="366.6" cy="249.2" r="0.4"/><circle cx="377.3" cy="235.9" r="0.4"/><circle cx="372.5" cy="236.9" r="0.4"/><circle cx="374.3" cy="249.7" r="0.3"/><circle cx="396.3" cy="226.1" r="0.4"/><circle cx="396.4" cy="243.5" r="0.4"/><circle cx="390.3" cy="228.3" r="0.4"/><circle cx="370.3" cy="235.6" r="0.3"/><circle cx="387.9" cy="235.1" r="0.4"/><circle cx="376.3" cy="240.1" r="0.3"/><circle cx="366.2" cy="228.5" r="0.3"/><circle cx="393.8" cy="251.9" r="0.3"/><circle cx="369.7" cy="245.1" r="0.5"/><circle cx="378.6" cy="236.5" r="0.4"/><circle cx="370.9" cy="231.0" r="0.4"/><circle cx="388.2" cy="253.4" r="0.4"/><circle cx="382.4" cy="226.2" r="0.4"/><circle cx="395.3" cy="248.1" r="0.5"/><circle cx="383.1" cy="253.5" r="0.4"/><circle cx="378.3" cy="251.5" r="0.4"/><circle cx="383.4" cy="243.2" r="0.4"/><circle cx="394.4" cy="234.0" r="0.4"/><circle cx="366.4" cy="231.1" r="0.5"/><circle cx="370.5" cy="241.0" r="0.3"/><circle cx="383.9" cy="245.4" r="0.4"/><circle cx="368.3" cy="227.6" r="0.3"/><circle cx="390.1" cy="235.8" r="0.4"/><circle cx="391.4" cy="249.6" r="0.5"/></g><g fill-opacity="0.32"><circle cx="392.4" cy="235.6" r="0.3"/><circle cx="388.3" cy="250.7" r="0.4"/><circle cx="388.0" cy="235.3" r="0.5"/><circle cx="374.4" cy="236.6" r="0.4"/><circle cx="375.8" cy="232.0" r="0.5"/><circle cx="386.7" cy="254.7" r="0.4"/><circle cx="383.8" cy="247.1" r="0.3"/><circle cx="391.4" cy="234.1" r="0.4"/><circle cx="384.3" cy="248.4" r="0.3"/><circle cx="367.0" cy="238.7" r="0.4"/><circle cx="378.3" cy="226.6" r="0.4"/><circle cx="392.5" cy="234.6" r="0.4"/><circle cx="393.3" cy="242.3" r="0.4"/><circle cx="387.5" cy="232.6" r="0.4"/><circle cx="394.1" cy="247.8" r="0.3"/><circle cx="380.0" cy="252.0" r="0.5"/><circle cx="383.1" cy="232.7" r="0.4"/><circle cx="383.9" cy="248.9" r="0.3"/><circle cx="379.7" cy="247.9" r="0.3"/><circle cx="378.6" cy="226.7" r="0.4"/><circle cx="377.5" cy="250.9" r="0.3"/><circle cx="389.2" cy="253.3" r="0.5"/><circle cx="386.9" cy="249.2" r="0.3"/><circle cx="389.3" cy="230.3" r="0.5"/><circle cx="371.7" cy="243.4" r="0.3"/><circle cx="392.5" cy="254.7" r="0.4"/><circle cx="394.5" cy="248.8" r="0.4"/><circle cx="382.1" cy="248.5" r="0.4"/><circle cx="384.2" cy="244.8" r="0.3"/><circle cx="371.8" cy="237.6" r="0.3"/><circle cx="382.5" cy="226.0" r="0.5"/><circle cx="392.6" cy="226.3" r="0.4"/><circle cx="381.2" cy="227.5" r="0.4"/><circle cx="391.4" cy="238.7" r="0.4"/><circle cx="386.2" cy="247.3" r="0.3"/><circle cx="395.4" cy="238.1" r="0.4"/><circle cx="386.3" cy="227.0" r="0.5"/><circle cx="388.5" cy="253.7" r="0.3"/><circle cx="387.3" cy="234.1" r="0.5"/><circle cx="371.5" cy="251.0" r="0.5"/><circle cx="372.7" cy="248.4" r="0.5"/><circle cx="368.2" cy="246.5" r="0.3"/><circle cx="394.3" cy="229.1" r="0.4"/><circle cx="382.2" cy="230.5" r="0.4"/><circle cx="395.2" cy="245.4" r="0.4"/><circle cx="379.8" cy="246.1" r="0.4"/><circle cx="392.7" cy="241.0" r="0.3"/><circle cx="389.9" cy="249.0" r="0.4"/><circle cx="369.1" cy="250.1" r="0.4"/><circle cx="372.0" cy="240.0" r="0.4"/><circle cx="383.1" cy="254.4" r="0.4"/><circle cx="396.6" cy="256.4" r="0.4"/><circle cx="387.4" cy="251.5" r="0.4"/><circle cx="395.5" cy="225.8" r="0.4"/><circle cx="379.0" cy="231.0" r="0.4"/><circle cx="372.2" cy="256.1" r="0.3"/><circle cx="383.5" cy="247.3" r="0.5"/><circle cx="388.1" cy="235.9" r="0.3"/><circle cx="394.8" cy="235.8" r="0.3"/><circle cx="383.0" cy="228.6" r="0.4"/><circle cx="391.5" cy="240.3" r="0.4"/><circle cx="384.2" cy="253.8" r="0.3"/><circle cx="372.3" cy="243.6" r="0.3"/><circle cx="386.0" cy="233.4" r="0.4"/><circle cx="375.7" cy="235.0" r="0.4"/><circle cx="379.7" cy="226.5" r="0.4"/><circle cx="394.3" cy="236.8" r="0.3"/><circle cx="375.4" cy="228.6" r="0.5"/></g><g fill-opacity="0.41"><circle cx="371.8" cy="251.3" r="0.4"/><circle cx="380.7" cy="248.9" r="0.4"/><circle cx="391.7" cy="254.2" r="0.5"/><circle cx="393.0" cy="236.7" r="0.3"/><circle cx="382.2" cy="251.1" r="0.4"/><circle cx="371.2" cy="229.0" r="0.3"/><circle cx="393.4" cy="246.6" r="0.5"/><circle cx="395.7" cy="229.3" r="0.3"/><circle cx="371.0" cy="239.7" r="0.3"/><circle cx="390.4" cy="226.8" r="0.4"/><circle cx="367.5" cy="252.8" r="0.5"/><circle cx="390.8" cy="235.0" r="0.4"/><circle cx="379.7" cy="232.1" r="0.3"/><circle cx="374.9" cy="237.7" r="0.4"/><circle cx="380.9" cy="238.2" r="0.5"/><circle cx="385.7" cy="250.9" r="0.4"/><circle cx="393.9" cy="225.8" r="0.4"/><circle cx="373.6" cy="248.9" r="0.4"/><circle cx="396.7" cy="230.4" r="0.4"/><circle cx="378.5" cy="226.4" r="0.4"/><circle cx="369.9" cy="245.2" r="0.5"/><circle cx="396.8" cy="251.6" r="0.4"/><circle cx="394.4" cy="245.4" r="0.4"/><circle cx="389.6" cy="229.5" r="0.3"/><circle cx="369.7" cy="239.3" r="0.5"/><circle cx="371.7" cy="236.6" r="0.4"/><circle cx="374.2" cy="245.8" r="0.5"/><circle cx="368.7" cy="228.7" r="0.3"/><circle cx="366.4" cy="227.5" r="0.4"/><circle cx="375.6" cy="228.9" r="0.5"/><circle cx="371.6" cy="233.7" r="0.4"/><circle cx="371.3" cy="246.8" r="0.4"/><circle cx="380.8" cy="228.0" r="0.5"/><circle cx="373.7" cy="232.1" r="0.3"/><circle cx="392.2" cy="246.6" r="0.4"/><circle cx="385.3" cy="242.8" r="0.4"/><circle cx="390.4" cy="234.3" r="0.5"/><circle cx="395.9" cy="244.6" r="0.4"/><circle cx="370.4" cy="255.2" r="0.3"/><circle cx="367.1" cy="229.0" r="0.3"/><circle cx="395.3" cy="226.6" r="0.5"/><circle cx="397.2" cy="229.4" r="0.5"/><circle cx="372.2" cy="249.2" r="0.3"/><circle cx="369.5" cy="251.0" r="0.3"/><circle cx="386.2" cy="246.0" r="0.4"/><circle cx="373.4" cy="239.1" r="0.5"/><circle cx="384.5" cy="250.6" r="0.5"/><circle cx="394.4" cy="227.0" r="0.5"/><circle cx="380.2" cy="230.3" r="0.4"/><circle cx="366.4" cy="253.5" r="0.4"/><circle cx="388.5" cy="231.0" r="0.3"/><circle cx="387.3" cy="226.3" r="0.5"/><circle cx="378.2" cy="246.4" r="0.4"/><circle cx="383.6" cy="252.2" r="0.3"/><circle cx="379.8" cy="239.3" r="0.4"/><circle cx="367.9" cy="242.1" r="0.3"/><circle cx="391.0" cy="227.4" r="0.5"/><circle cx="392.3" cy="248.6" r="0.4"/><circle cx="372.6" cy="239.5" r="0.4"/><circle cx="368.9" cy="251.8" r="0.3"/><circle cx="373.2" cy="239.6" r="0.4"/><circle cx="395.7" cy="236.0" r="0.3"/><circle cx="379.4" cy="229.1" r="0.4"/><circle cx="384.8" cy="241.2" r="0.4"/><circle cx="368.9" cy="250.8" r="0.4"/><circle cx="366.6" cy="243.0" r="0.5"/><circle cx="370.4" cy="231.4" r="0.4"/><circle cx="389.7" cy="247.5" r="0.4"/><circle cx="380.6" cy="248.9" r="0.3"/><circle cx="387.8" cy="231.6" r="0.5"/><circle cx="375.0" cy="239.8" r="0.5"/><circle cx="391.2" cy="245.0" r="0.4"/><circle cx="370.1" cy="246.3" r="0.4"/></g></g>
<g fill="#2a9a2a" filter="url(#bl03)"><g fill-opacity="0.14"><circle cx="379.4" cy="260.5" r="0.4"/><circle cx="375.0" cy="286.9" r="0.4"/><circle cx="372.9" cy="288.0" r="0.4"/><circle cx="397.2" cy="282.4" r="0.3"/><circle cx="376.7" cy="278.0" r="0.5"/><circle cx="393.3" cy="266.6" r="0.4"/><circle cx="370.6" cy="269.2" r="0.4"/><circle cx="378.7" cy="291.1" r="0.4"/><circle cx="394.2" cy="260.8" r="0.3"/><circle cx="390.3" cy="259.4" r="0.3"/><circle cx="380.1" cy="272.4" r="0.3"/><circle cx="378.3" cy="271.7" r="0.3"/><circle cx="396.9" cy="284.9" r="0.5"/><circle cx="373.9" cy="281.8" r="0.4"/><circle cx="373.4" cy="259.5" r="0.3"/><circle cx="369.4" cy="280.8" r="0.4"/><circle cx="385.4" cy="269.8" r="0.3"/><circle cx="385.9" cy="279.2" r="0.4"/><circle cx="383.8" cy="281.4" r="0.4"/><circle cx="378.0" cy="268.0" r="0.5"/><circle cx="372.6" cy="292.0" r="0.4"/><circle cx="389.9" cy="280.4" r="0.4"/><circle cx="375.6" cy="282.5" r="0.3"/><circle cx="389.2" cy="287.0" r="0.4"/><circle cx="388.4" cy="290.8" r="0.3"/><circle cx="394.1" cy="283.6" r="0.3"/><circle cx="382.0" cy="279.1" r="0.3"/><circle cx="387.2" cy="288.2" r="0.4"/><circle cx="387.7" cy="266.4" r="0.3"/><circle cx="388.9" cy="275.7" r="0.4"/><circle cx="374.1" cy="280.9" r="0.4"/><circle cx="393.3" cy="266.8" r="0.4"/><circle cx="377.9" cy="269.2" r="0.4"/><circle cx="379.9" cy="273.1" r="0.3"/><circle cx="373.4" cy="270.5" r="0.5"/><circle cx="395.0" cy="284.0" r="0.3"/><circle cx="377.8" cy="277.4" r="0.4"/><circle cx="374.7" cy="281.6" r="0.5"/><circle cx="375.8" cy="270.7" r="0.3"/><circle cx="372.3" cy="276.9" r="0.4"/><circle cx="394.0" cy="266.5" r="0.5"/><circle cx="368.0" cy="291.9" r="0.4"/><circle cx="382.2" cy="280.0" r="0.4"/><circle cx="390.3" cy="274.1" r="0.5"/><circle cx="385.3" cy="268.3" r="0.3"/><circle cx="387.6" cy="269.9" r="0.3"/><circle cx="389.3" cy="276.3" r="0.3"/><circle cx="378.8" cy="261.0" r="0.4"/><circle cx="396.9" cy="290.4" r="0.5"/><circle cx="375.6" cy="279.7" r="0.4"/><circle cx="381.2" cy="288.0" r="0.3"/><circle cx="391.2" cy="274.0" r="0.4"/><circle cx="391.2" cy="274.9" r="0.5"/><circle cx="367.9" cy="291.2" r="0.5"/><circle cx="370.2" cy="289.3" r="0.4"/><circle cx="367.6" cy="263.5" r="0.4"/><circle cx="391.0" cy="291.6" r="0.3"/><circle cx="386.5" cy="279.6" r="0.4"/><circle cx="396.9" cy="275.7" r="0.4"/><circle cx="384.7" cy="291.4" r="0.5"/><circle cx="376.9" cy="291.0" r="0.4"/><circle cx="384.9" cy="262.0" r="0.4"/><circle cx="385.9" cy="285.1" r="0.5"/><circle cx="393.2" cy="265.6" r="0.4"/><circle cx="373.4" cy="264.7" r="0.4"/><circle cx="368.8" cy="288.6" r="0.5"/><circle cx="374.4" cy="271.7" r="0.4"/><circle cx="384.1" cy="278.9" r="0.5"/><circle cx="390.1" cy="274.8" r="0.5"/><circle cx="387.8" cy="262.9" r="0.4"/><circle cx="381.4" cy="278.7" r="0.4"/><circle cx="389.6" cy="284.0" r="0.5"/><circle cx="369.3" cy="288.0" r="0.3"/><circle cx="374.9" cy="284.0" r="0.3"/><circle cx="373.1" cy="261.9" r="0.4"/><circle cx="369.3" cy="265.2" r="0.5"/><circle cx="379.9" cy="291.4" r="0.4"/><circle cx="391.2" cy="286.5" r="0.3"/><circle cx="396.8" cy="288.4" r="0.3"/><circle cx="384.3" cy="269.7" r="0.3"/><circle cx="386.2" cy="261.8" r="0.3"/><circle cx="387.0" cy="285.6" r="0.5"/><circle cx="379.5" cy="280.0" r="0.3"/><circle cx="373.7" cy="280.4" r="0.5"/><circle cx="384.3" cy="276.1" r="0.4"/><circle cx="376.3" cy="262.5" r="0.4"/><circle cx="376.1" cy="269.5" r="0.3"/><circle cx="366.9" cy="265.5" r="0.4"/><circle cx="390.3" cy="289.2" r="0.5"/><circle cx="393.2" cy="273.0" r="0.3"/><circle cx="379.6" cy="275.4" r="0.4"/><circle cx="386.8" cy="268.3" r="0.4"/><circle cx="370.9" cy="292.3" r="0.4"/><circle cx="378.4" cy="273.2" r="0.3"/><circle cx="393.1" cy="274.5" r="0.3"/><circle cx="370.0" cy="277.3" r="0.4"/><circle cx="388.3" cy="269.2" r="0.5"/><circle cx="387.8" cy="266.8" r="0.4"/><circle cx="381.2" cy="278.7" r="0.4"/><circle cx="380.9" cy="273.3" r="0.4"/><circle cx="386.5" cy="271.1" r="0.5"/><circle cx="391.3" cy="287.2" r="0.3"/><circle cx="373.0" cy="279.7" r="0.5"/><circle cx="380.2" cy="286.2" r="0.4"/><circle cx="378.0" cy="286.1" r="0.3"/><circle cx="392.7" cy="263.6" r="0.3"/><circle cx="387.3" cy="266.7" r="0.4"/><circle cx="377.2" cy="264.9" r="0.4"/><circle cx="395.5" cy="282.2" r="0.4"/><circle cx="369.5" cy="282.1" r="0.4"/><circle cx="377.8" cy="277.3" r="0.4"/><circle cx="395.5" cy="273.1" r="0.4"/><circle cx="392.2" cy="282.5" r="0.4"/><circle cx="393.2" cy="265.0" r="0.5"/><circle cx="367.1" cy="291.5" r="0.3"/><circle cx="396.7" cy="285.5" r="0.4"/><circle cx="388.4" cy="277.1" r="0.4"/><circle cx="383.6" cy="279.6" r="0.4"/><circle cx="375.2" cy="265.7" r="0.5"/><circle cx="373.0" cy="288.6" r="0.5"/><circle cx="377.2" cy="281.8" r="0.4"/><circle cx="368.6" cy="265.6" r="0.4"/><circle cx="391.8" cy="271.1" r="0.4"/><circle cx="370.9" cy="282.2" r="0.4"/><circle cx="376.0" cy="260.0" r="0.4"/><circle cx="374.1" cy="280.9" r="0.4"/><circle cx="377.1" cy="260.2" r="0.5"/><circle cx="375.4" cy="274.5" r="0.4"/><circle cx="393.0" cy="289.3" r="0.5"/><circle cx="382.5" cy="289.4" r="0.3"/><circle cx="377.8" cy="265.4" r="0.4"/><circle cx="386.8" cy="289.8" r="0.4"/><circle cx="396.0" cy="282.6" r="0.4"/><circle cx="389.7" cy="271.5" r="0.3"/><circle cx="386.2" cy="291.7" r="0.5"/><circle cx="391.1" cy="261.8" r="0.5"/><circle cx="372.7" cy="285.3" r="0.4"/><circle cx="380.7" cy="288.0" r="0.3"/><circle cx="385.5" cy="281.3" r="0.5"/><circle cx="377.1" cy="276.2" r="0.5"/><circle cx="388.9" cy="271.0" r="0.4"/><circle cx="391.3" cy="264.8" r="0.5"/><circle cx="393.3" cy="262.1" r="0.4"/><circle cx="380.8" cy="274.1" r="0.4"/><circle cx="376.1" cy="262.8" r="0.3"/><circle cx="388.3" cy="273.9" r="0.5"/><circle cx="380.3" cy="260.2" r="0.4"/><circle cx="389.4" cy="289.2" r="0.5"/><circle cx="370.0" cy="259.9" r="0.3"/><circle cx="396.1" cy="291.5" r="0.5"/><circle cx="394.4" cy="266.9" r="0.5"/><circle cx="394.8" cy="285.8" r="0.4"/><circle cx="374.4" cy="275.1" r="0.5"/><circle cx="380.4" cy="262.4" r="0.4"/><circle cx="389.3" cy="284.9" r="0.5"/><circle cx="397.0" cy="272.8" r="0.4"/><circle cx="366.9" cy="286.3" r="0.4"/><circle cx="384.1" cy="274.0" r="0.5"/><circle cx="390.8" cy="286.7" r="0.5"/><circle cx="382.0" cy="268.6" r="0.5"/><circle cx="378.2" cy="262.3" r="0.3"/><circle cx="381.5" cy="272.8" r="0.3"/><circle cx="368.4" cy="271.8" r="0.4"/><circle cx="395.1" cy="276.9" r="0.4"/><circle cx="374.8" cy="272.2" r="0.5"/><circle cx="392.5" cy="276.1" r="0.5"/><circle cx="391.9" cy="278.3" r="0.3"/><circle cx="389.1" cy="274.3" r="0.4"/><circle cx="384.1" cy="266.9" r="0.3"/><circle cx="379.1" cy="281.5" r="0.5"/><circle cx="378.0" cy="274.2" r="0.4"/></g><g fill-opacity="0.23"><circle cx="369.4" cy="276.1" r="0.5"/><circle cx="394.7" cy="275.0" r="0.4"/><circle cx="377.1" cy="284.1" r="0.4"/><circle cx="387.6" cy="271.2" r="0.4"/><circle cx="391.2" cy="268.7" r="0.4"/><circle cx="374.4" cy="280.2" r="0.3"/><circle cx="384.4" cy="265.1" r="0.4"/><circle cx="385.2" cy="279.0" r="0.4"/><circle cx="377.1" cy="279.9" r="0.3"/><circle cx="390.8" cy="289.6" r="0.4"/><circle cx="371.3" cy="268.7" r="0.4"/><circle cx="394.0" cy="264.7" r="0.3"/><circle cx="388.2" cy="283.3" r="0.5"/><circle cx="376.9" cy="270.7" r="0.4"/><circle cx="381.1" cy="271.2" r="0.4"/><circle cx="379.0" cy="269.8" r="0.5"/><circle cx="381.7" cy="285.1" r="0.5"/><circle cx="380.4" cy="280.4" r="0.3"/><circle cx="374.9" cy="267.5" r="0.4"/><circle cx="376.0" cy="269.2" r="0.5"/><circle cx="387.9" cy="265.1" r="0.3"/><circle cx="376.4" cy="282.3" r="0.5"/><circle cx="385.6" cy="266.3" r="0.4"/><circle cx="393.7" cy="288.7" r="0.4"/><circle cx="377.4" cy="279.0" r="0.5"/><circle cx="387.0" cy="282.6" r="0.3"/><circle cx="395.6" cy="273.4" r="0.5"/><circle cx="378.4" cy="274.4" r="0.4"/><circle cx="391.8" cy="291.5" r="0.4"/><circle cx="390.7" cy="272.7" r="0.3"/><circle cx="370.9" cy="292.2" r="0.5"/><circle cx="396.9" cy="265.1" r="0.4"/><circle cx="385.0" cy="277.2" r="0.5"/><circle cx="370.3" cy="280.1" r="0.3"/><circle cx="376.7" cy="272.6" r="0.5"/><circle cx="368.6" cy="280.9" r="0.4"/><circle cx="370.2" cy="283.0" r="0.4"/><circle cx="369.6" cy="280.4" r="0.4"/><circle cx="395.5" cy="289.4" r="0.3"/><circle cx="394.3" cy="261.2" r="0.3"/><circle cx="368.2" cy="268.5" r="0.5"/><circle cx="388.5" cy="271.3" r="0.4"/><circle cx="379.9" cy="275.4" r="0.4"/><circle cx="385.2" cy="290.2" r="0.4"/><circle cx="370.2" cy="261.1" r="0.4"/><circle cx="380.8" cy="286.8" r="0.5"/><circle cx="380.4" cy="287.6" r="0.4"/><circle cx="376.1" cy="268.5" r="0.5"/><circle cx="393.3" cy="282.5" r="0.4"/><circle cx="394.9" cy="262.3" r="0.3"/><circle cx="388.5" cy="272.7" r="0.4"/><circle cx="396.5" cy="276.1" r="0.4"/><circle cx="371.2" cy="259.9" r="0.4"/><circle cx="389.5" cy="285.4" r="0.5"/><circle cx="375.6" cy="279.5" r="0.4"/><circle cx="383.1" cy="268.4" r="0.3"/><circle cx="383.0" cy="261.0" r="0.4"/><circle cx="378.8" cy="277.0" r="0.5"/><circle cx="392.1" cy="267.2" r="0.3"/><circle cx="367.5" cy="276.1" r="0.4"/><circle cx="389.5" cy="289.8" r="0.4"/><circle cx="383.6" cy="287.4" r="0.3"/><circle cx="396.3" cy="266.5" r="0.4"/><circle cx="391.7" cy="269.6" r="0.4"/><circle cx="393.1" cy="262.9" r="0.4"/><circle cx="370.2" cy="265.9" r="0.3"/><circle cx="375.0" cy="277.6" r="0.4"/><circle cx="384.5" cy="286.9" r="0.4"/><circle cx="381.7" cy="274.6" r="0.3"/><circle cx="392.7" cy="284.3" r="0.4"/><circle cx="373.7" cy="286.6" r="0.4"/><circle cx="385.3" cy="288.5" r="0.3"/><circle cx="377.0" cy="270.5" r="0.4"/><circle cx="390.4" cy="271.2" r="0.4"/><circle cx="386.0" cy="282.8" r="0.5"/><circle cx="369.7" cy="266.5" r="0.4"/><circle cx="370.7" cy="270.6" r="0.4"/><circle cx="368.8" cy="280.9" r="0.4"/><circle cx="375.0" cy="285.9" r="0.5"/><circle cx="390.3" cy="276.0" r="0.3"/><circle cx="397.2" cy="292.0" r="0.5"/><circle cx="385.2" cy="261.1" r="0.4"/><circle cx="396.6" cy="262.2" r="0.3"/><circle cx="384.2" cy="262.9" r="0.3"/><circle cx="379.7" cy="288.9" r="0.5"/><circle cx="390.6" cy="278.7" r="0.4"/><circle cx="370.7" cy="273.9" r="0.4"/><circle cx="382.8" cy="280.4" r="0.5"/><circle cx="385.1" cy="270.3" r="0.3"/><circle cx="386.0" cy="290.9" r="0.5"/><circle cx="372.7" cy="286.7" r="0.4"/><circle cx="386.9" cy="289.5" r="0.3"/><circle cx="393.0" cy="285.2" r="0.3"/><circle cx="391.4" cy="272.2" r="0.4"/><circle cx="367.1" cy="273.5" r="0.3"/><circle cx="369.0" cy="263.7" r="0.3"/><circle cx="381.9" cy="261.3" r="0.4"/><circle cx="368.1" cy="281.3" r="0.4"/><circle cx="380.3" cy="277.0" r="0.4"/><circle cx="370.4" cy="267.4" r="0.4"/><circle cx="372.7" cy="277.5" r="0.4"/><circle cx="377.5" cy="285.5" r="0.3"/><circle cx="394.1" cy="281.8" r="0.5"/><circle cx="374.6" cy="263.5" r="0.4"/><circle cx="393.4" cy="271.1" r="0.3"/><circle cx="367.7" cy="282.4" r="0.5"/><circle cx="395.7" cy="282.6" r="0.4"/><circle cx="373.0" cy="283.9" r="0.5"/><circle cx="373.8" cy="278.6" r="0.3"/><circle cx="389.0" cy="278.8" r="0.5"/><circle cx="376.1" cy="272.8" r="0.5"/><circle cx="369.0" cy="273.4" r="0.4"/><circle cx="394.2" cy="291.5" r="0.3"/><circle cx="390.4" cy="269.5" r="0.5"/><circle cx="392.1" cy="282.8" r="0.3"/><circle cx="381.5" cy="277.6" r="0.4"/><circle cx="387.2" cy="273.1" r="0.5"/><circle cx="371.4" cy="271.4" r="0.5"/><circle cx="395.4" cy="263.7" r="0.3"/><circle cx="371.5" cy="284.9" r="0.3"/><circle cx="376.6" cy="287.7" r="0.4"/><circle cx="379.7" cy="287.0" r="0.3"/><circle cx="376.5" cy="291.0" r="0.4"/><circle cx="367.1" cy="262.1" r="0.3"/><circle cx="371.1" cy="290.2" r="0.4"/><circle cx="368.7" cy="287.9" r="0.5"/><circle cx="388.1" cy="266.5" r="0.5"/><circle cx="394.0" cy="265.6" r="0.3"/><circle cx="372.3" cy="287.0" r="0.4"/><circle cx="368.4" cy="281.2" r="0.4"/><circle cx="394.6" cy="269.0" r="0.4"/><circle cx="394.7" cy="281.6" r="0.3"/><circle cx="382.0" cy="267.6" r="0.4"/><circle cx="367.1" cy="269.1" r="0.3"/><circle cx="395.8" cy="282.1" r="0.4"/><circle cx="392.8" cy="266.3" r="0.3"/><circle cx="385.5" cy="267.7" r="0.5"/><circle cx="397.0" cy="276.4" r="0.4"/><circle cx="397.0" cy="270.8" r="0.4"/><circle cx="394.5" cy="280.0" r="0.3"/><circle cx="380.9" cy="288.9" r="0.4"/><circle cx="396.9" cy="261.0" r="0.3"/><circle cx="369.7" cy="269.2" r="0.4"/><circle cx="395.0" cy="266.6" r="0.3"/><circle cx="376.6" cy="265.0" r="0.5"/><circle cx="377.3" cy="263.2" r="0.5"/><circle cx="396.4" cy="281.1" r="0.3"/><circle cx="379.7" cy="271.6" r="0.4"/><circle cx="396.6" cy="290.2" r="0.4"/><circle cx="394.0" cy="288.2" r="0.3"/><circle cx="371.0" cy="272.8" r="0.5"/><circle cx="380.6" cy="288.1" r="0.3"/><circle cx="396.5" cy="281.4" r="0.3"/><circle cx="371.2" cy="277.9" r="0.4"/><circle cx="378.2" cy="288.1" r="0.4"/><circle cx="384.0" cy="279.5" r="0.4"/><circle cx="366.2" cy="261.4" r="0.4"/><circle cx="392.8" cy="281.9" r="0.5"/><circle cx="366.9" cy="270.6" r="0.5"/><circle cx="394.5" cy="276.8" r="0.4"/><circle cx="392.3" cy="265.0" r="0.5"/><circle cx="371.0" cy="280.0" r="0.4"/><circle cx="379.7" cy="286.5" r="0.5"/><circle cx="388.5" cy="266.0" r="0.4"/><circle cx="367.4" cy="264.6" r="0.3"/><circle cx="377.5" cy="274.0" r="0.3"/><circle cx="396.6" cy="273.1" r="0.4"/><circle cx="392.8" cy="285.7" r="0.3"/><circle cx="392.3" cy="267.8" r="0.4"/><circle cx="370.5" cy="291.4" r="0.5"/><circle cx="387.1" cy="286.0" r="0.4"/><circle cx="395.0" cy="260.5" r="0.5"/><circle cx="380.9" cy="290.5" r="0.4"/><circle cx="368.8" cy="274.0" r="0.5"/><circle cx="385.8" cy="280.2" r="0.4"/><circle cx="379.2" cy="260.7" r="0.5"/><circle cx="390.1" cy="287.5" r="0.4"/><circle cx="367.2" cy="291.0" r="0.3"/><circle cx="370.7" cy="275.7" r="0.4"/><circle cx="373.2" cy="278.1" r="0.5"/><circle cx="367.3" cy="266.5" r="0.4"/><circle cx="372.6" cy="283.2" r="0.4"/><circle cx="378.1" cy="280.0" r="0.4"/></g><g fill-opacity="0.32"><circle cx="386.0" cy="283.6" r="0.4"/><circle cx="396.7" cy="283.3" r="0.5"/><circle cx="375.0" cy="269.5" r="0.5"/><circle cx="375.2" cy="277.3" r="0.3"/><circle cx="387.6" cy="288.8" r="0.3"/><circle cx="384.8" cy="285.2" r="0.3"/><circle cx="389.3" cy="280.9" r="0.5"/><circle cx="383.2" cy="266.0" r="0.3"/><circle cx="367.5" cy="267.6" r="0.4"/><circle cx="390.1" cy="292.0" r="0.3"/><circle cx="389.3" cy="283.8" r="0.4"/><circle cx="384.6" cy="277.3" r="0.4"/><circle cx="385.3" cy="282.5" r="0.3"/><circle cx="387.5" cy="284.3" r="0.3"/><circle cx="370.2" cy="283.3" r="0.4"/><circle cx="388.4" cy="273.4" r="0.5"/><circle cx="387.0" cy="275.3" r="0.5"/><circle cx="384.2" cy="264.6" r="0.4"/><circle cx="370.8" cy="276.2" r="0.4"/><circle cx="373.5" cy="276.7" r="0.5"/><circle cx="373.5" cy="275.9" r="0.4"/><circle cx="367.6" cy="279.3" r="0.5"/><circle cx="372.0" cy="278.9" r="0.5"/><circle cx="373.3" cy="268.5" r="0.4"/><circle cx="395.0" cy="264.0" r="0.4"/><circle cx="375.6" cy="267.1" r="0.4"/><circle cx="369.8" cy="285.2" r="0.4"/><circle cx="378.6" cy="263.2" r="0.4"/><circle cx="379.0" cy="273.9" r="0.3"/><circle cx="374.0" cy="266.0" r="0.4"/><circle cx="381.6" cy="267.3" r="0.5"/><circle cx="368.0" cy="270.9" r="0.4"/><circle cx="372.3" cy="281.3" r="0.4"/><circle cx="395.3" cy="271.4" r="0.4"/><circle cx="369.5" cy="261.1" r="0.4"/><circle cx="395.5" cy="288.4" r="0.3"/><circle cx="368.3" cy="290.4" r="0.4"/><circle cx="383.1" cy="263.4" r="0.4"/><circle cx="379.9" cy="261.7" r="0.5"/><circle cx="367.5" cy="266.7" r="0.4"/><circle cx="392.1" cy="291.2" r="0.4"/><circle cx="387.5" cy="279.3" r="0.3"/><circle cx="381.1" cy="275.3" r="0.3"/><circle cx="384.9" cy="284.0" r="0.5"/><circle cx="383.2" cy="282.8" r="0.4"/><circle cx="392.7" cy="279.7" r="0.4"/><circle cx="397.0" cy="278.0" r="0.4"/><circle cx="381.7" cy="283.2" r="0.4"/><circle cx="370.9" cy="277.2" r="0.4"/><circle cx="367.3" cy="283.5" r="0.5"/><circle cx="384.9" cy="288.5" r="0.4"/><circle cx="371.5" cy="284.0" r="0.5"/><circle cx="376.7" cy="270.1" r="0.4"/><circle cx="367.6" cy="283.4" r="0.4"/><circle cx="390.5" cy="259.8" r="0.5"/><circle cx="366.7" cy="284.3" r="0.3"/><circle cx="391.8" cy="263.8" r="0.5"/><circle cx="385.2" cy="283.2" r="0.3"/><circle cx="383.7" cy="287.4" r="0.5"/><circle cx="382.0" cy="275.0" r="0.4"/><circle cx="391.7" cy="265.5" r="0.4"/><circle cx="369.4" cy="271.2" r="0.4"/><circle cx="369.1" cy="261.4" r="0.4"/><circle cx="378.4" cy="275.9" r="0.4"/><circle cx="388.7" cy="292.1" r="0.5"/><circle cx="370.1" cy="290.1" r="0.5"/><circle cx="396.8" cy="275.3" r="0.4"/><circle cx="378.8" cy="278.6" r="0.4"/><circle cx="378.0" cy="291.4" r="0.5"/><circle cx="392.5" cy="261.6" r="0.3"/><circle cx="393.2" cy="290.0" r="0.4"/><circle cx="390.4" cy="278.8" r="0.4"/><circle cx="366.7" cy="279.7" r="0.4"/><circle cx="385.9" cy="280.2" r="0.3"/><circle cx="372.1" cy="290.4" r="0.4"/><circle cx="396.1" cy="265.7" r="0.3"/><circle cx="391.3" cy="266.8" r="0.4"/><circle cx="381.2" cy="270.4" r="0.5"/><circle cx="373.7" cy="261.6" r="0.5"/><circle cx="366.3" cy="272.9" r="0.4"/><circle cx="385.2" cy="284.5" r="0.4"/><circle cx="375.5" cy="262.3" r="0.4"/><circle cx="366.2" cy="289.1" r="0.4"/><circle cx="374.4" cy="288.3" r="0.5"/><circle cx="377.9" cy="278.2" r="0.3"/><circle cx="394.8" cy="263.2" r="0.4"/><circle cx="390.1" cy="287.5" r="0.3"/><circle cx="390.3" cy="276.2" r="0.4"/><circle cx="371.3" cy="263.2" r="0.4"/><circle cx="386.0" cy="272.6" r="0.4"/><circle cx="392.6" cy="264.9" r="0.5"/><circle cx="390.3" cy="279.5" r="0.4"/><circle cx="382.2" cy="284.1" r="0.3"/><circle cx="390.6" cy="274.8" r="0.5"/><circle cx="371.9" cy="287.7" r="0.4"/><circle cx="377.2" cy="259.9" r="0.3"/><circle cx="392.5" cy="259.7" r="0.4"/><circle cx="395.1" cy="265.9" r="0.3"/><circle cx="391.7" cy="285.8" r="0.5"/><circle cx="371.0" cy="286.7" r="0.3"/><circle cx="389.6" cy="292.0" r="0.4"/><circle cx="394.5" cy="269.2" r="0.3"/><circle cx="384.9" cy="268.5" r="0.3"/><circle cx="367.0" cy="277.1" r="0.4"/><circle cx="375.3" cy="270.5" r="0.4"/><circle cx="380.8" cy="280.4" r="0.4"/><circle cx="366.3" cy="291.4" r="0.5"/><circle cx="383.9" cy="283.3" r="0.3"/><circle cx="381.8" cy="283.6" r="0.4"/><circle cx="370.4" cy="271.4" r="0.5"/><circle cx="385.4" cy="291.1" r="0.4"/><circle cx="383.0" cy="262.6" r="0.5"/><circle cx="395.2" cy="270.9" r="0.5"/><circle cx="387.0" cy="264.4" r="0.5"/><circle cx="390.6" cy="263.4" r="0.4"/><circle cx="396.9" cy="270.6" r="0.4"/><circle cx="373.7" cy="289.7" r="0.3"/><circle cx="392.2" cy="276.1" r="0.5"/><circle cx="387.9" cy="266.5" r="0.4"/><circle cx="369.6" cy="281.2" r="0.5"/><circle cx="386.1" cy="277.9" r="0.4"/><circle cx="394.0" cy="276.7" r="0.4"/><circle cx="382.1" cy="285.3" r="0.5"/><circle cx="391.0" cy="273.6" r="0.3"/><circle cx="379.9" cy="284.7" r="0.4"/><circle cx="394.7" cy="272.4" r="0.3"/><circle cx="385.6" cy="286.4" r="0.4"/><circle cx="367.3" cy="291.9" r="0.3"/><circle cx="378.7" cy="282.1" r="0.4"/><circle cx="381.2" cy="291.8" r="0.4"/><circle cx="371.4" cy="265.6" r="0.4"/><circle cx="381.3" cy="274.0" r="0.5"/><circle cx="372.3" cy="259.6" r="0.3"/><circle cx="374.7" cy="272.0" r="0.5"/><circle cx="388.3" cy="267.0" r="0.5"/><circle cx="380.6" cy="281.0" r="0.5"/><circle cx="369.8" cy="264.1" r="0.4"/><circle cx="373.2" cy="260.0" r="0.5"/><circle cx="373.9" cy="282.4" r="0.4"/><circle cx="375.1" cy="259.8" r="0.3"/><circle cx="384.1" cy="286.4" r="0.5"/><circle cx="389.8" cy="281.8" r="0.3"/><circle cx="383.3" cy="270.1" r="0.5"/><circle cx="368.9" cy="276.8" r="0.3"/><circle cx="391.8" cy="278.2" r="0.4"/><circle cx="367.7" cy="261.6" r="0.4"/><circle cx="393.8" cy="290.1" r="0.3"/><circle cx="367.7" cy="291.8" r="0.3"/><circle cx="372.8" cy="264.4" r="0.3"/><circle cx="392.4" cy="266.9" r="0.5"/><circle cx="388.4" cy="266.0" r="0.5"/><circle cx="383.1" cy="269.1" r="0.3"/><circle cx="396.4" cy="264.0" r="0.3"/><circle cx="394.7" cy="283.1" r="0.5"/><circle cx="392.9" cy="278.3" r="0.4"/><circle cx="393.2" cy="266.8" r="0.4"/><circle cx="386.8" cy="269.3" r="0.4"/><circle cx="374.5" cy="291.5" r="0.5"/><circle cx="374.0" cy="263.8" r="0.4"/><circle cx="389.7" cy="280.8" r="0.4"/><circle cx="380.3" cy="273.5" r="0.3"/><circle cx="372.0" cy="291.8" r="0.3"/><circle cx="392.2" cy="262.8" r="0.5"/><circle cx="391.0" cy="271.4" r="0.5"/><circle cx="393.2" cy="287.6" r="0.4"/><circle cx="395.8" cy="260.8" r="0.5"/><circle cx="369.3" cy="273.9" r="0.4"/><circle cx="377.8" cy="275.1" r="0.3"/><circle cx="390.7" cy="282.1" r="0.5"/><circle cx="385.7" cy="271.0" r="0.4"/><circle cx="381.5" cy="288.8" r="0.4"/><circle cx="394.2" cy="264.3" r="0.5"/><circle cx="384.8" cy="282.6" r="0.4"/><circle cx="380.7" cy="265.1" r="0.4"/><circle cx="367.7" cy="259.9" r="0.3"/><circle cx="376.3" cy="272.5" r="0.4"/></g><g fill-opacity="0.41"><circle cx="374.1" cy="289.7" r="0.4"/><circle cx="389.8" cy="283.9" r="0.3"/><circle cx="386.7" cy="267.5" r="0.3"/><circle cx="388.0" cy="261.5" r="0.4"/><circle cx="379.2" cy="266.1" r="0.5"/><circle cx="373.8" cy="260.0" r="0.3"/><circle cx="384.5" cy="291.4" r="0.4"/><circle cx="377.1" cy="287.5" r="0.5"/><circle cx="380.4" cy="271.0" r="0.4"/><circle cx="383.8" cy="274.5" r="0.5"/><circle cx="380.7" cy="291.0" r="0.3"/><circle cx="375.7" cy="277.3" r="0.4"/><circle cx="368.9" cy="288.4" r="0.5"/><circle cx="392.3" cy="274.8" r="0.3"/><circle cx="373.9" cy="279.0" r="0.4"/><circle cx="374.4" cy="270.0" r="0.4"/><circle cx="379.2" cy="266.2" r="0.3"/><circle cx="397.0" cy="271.1" r="0.5"/><circle cx="382.6" cy="280.6" r="0.4"/><circle cx="396.7" cy="265.7" r="0.4"/><circle cx="377.6" cy="273.2" r="0.4"/><circle cx="389.3" cy="277.2" r="0.4"/><circle cx="375.3" cy="291.4" r="0.3"/><circle cx="383.8" cy="269.5" r="0.5"/><circle cx="396.3" cy="278.6" r="0.4"/><circle cx="393.3" cy="260.3" r="0.4"/><circle cx="375.1" cy="272.2" r="0.3"/><circle cx="380.0" cy="289.8" r="0.4"/><circle cx="390.0" cy="275.3" r="0.4"/><circle cx="376.7" cy="260.2" r="0.4"/><circle cx="374.9" cy="287.4" r="0.5"/><circle cx="387.9" cy="279.4" r="0.3"/><circle cx="389.4" cy="272.7" r="0.5"/><circle cx="396.4" cy="281.0" r="0.4"/><circle cx="395.3" cy="278.6" r="0.4"/><circle cx="379.7" cy="279.4" r="0.4"/><circle cx="384.0" cy="276.4" r="0.3"/><circle cx="385.3" cy="261.8" r="0.5"/><circle cx="377.3" cy="266.3" r="0.3"/><circle cx="374.1" cy="274.6" r="0.5"/><circle cx="370.0" cy="263.3" r="0.5"/><circle cx="381.0" cy="263.7" r="0.4"/><circle cx="370.5" cy="259.9" r="0.3"/><circle cx="380.1" cy="268.9" r="0.5"/><circle cx="369.2" cy="279.9" r="0.4"/><circle cx="371.9" cy="286.1" r="0.5"/><circle cx="391.7" cy="285.9" r="0.3"/><circle cx="385.3" cy="282.9" r="0.4"/><circle cx="367.5" cy="268.8" r="0.4"/><circle cx="378.8" cy="262.8" r="0.4"/><circle cx="386.7" cy="266.9" r="0.4"/><circle cx="373.8" cy="276.7" r="0.4"/><circle cx="391.0" cy="284.4" r="0.4"/><circle cx="381.0" cy="263.6" r="0.3"/><circle cx="390.9" cy="280.7" r="0.4"/><circle cx="389.6" cy="260.2" r="0.4"/><circle cx="366.9" cy="281.9" r="0.5"/><circle cx="378.1" cy="289.6" r="0.3"/><circle cx="373.9" cy="260.7" r="0.5"/><circle cx="375.7" cy="274.9" r="0.4"/><circle cx="392.6" cy="282.3" r="0.5"/><circle cx="386.7" cy="279.8" r="0.4"/><circle cx="369.6" cy="266.8" r="0.3"/><circle cx="379.6" cy="269.3" r="0.5"/><circle cx="368.2" cy="261.0" r="0.4"/><circle cx="380.3" cy="272.0" r="0.3"/><circle cx="371.2" cy="262.2" r="0.4"/><circle cx="397.3" cy="280.4" r="0.3"/><circle cx="386.5" cy="270.7" r="0.4"/><circle cx="375.9" cy="284.7" r="0.4"/><circle cx="367.9" cy="265.8" r="0.4"/><circle cx="375.3" cy="279.6" r="0.4"/><circle cx="383.3" cy="280.4" r="0.4"/><circle cx="367.5" cy="273.9" r="0.3"/><circle cx="366.9" cy="261.4" r="0.5"/><circle cx="371.5" cy="278.2" r="0.3"/><circle cx="373.8" cy="278.8" r="0.4"/><circle cx="383.0" cy="276.7" r="0.5"/><circle cx="389.6" cy="278.5" r="0.4"/><circle cx="372.2" cy="275.5" r="0.5"/><circle cx="371.6" cy="285.6" r="0.4"/><circle cx="392.2" cy="276.1" r="0.4"/><circle cx="392.0" cy="271.6" r="0.5"/><circle cx="367.7" cy="275.2" r="0.4"/><circle cx="376.0" cy="281.8" r="0.4"/><circle cx="387.1" cy="277.7" r="0.4"/><circle cx="378.0" cy="279.3" r="0.3"/><circle cx="374.4" cy="273.6" r="0.3"/><circle cx="376.8" cy="260.7" r="0.4"/><circle cx="368.6" cy="279.2" r="0.5"/><circle cx="376.4" cy="287.6" r="0.4"/><circle cx="384.3" cy="270.9" r="0.5"/><circle cx="383.1" cy="276.2" r="0.4"/><circle cx="386.7" cy="260.1" r="0.4"/><circle cx="394.7" cy="291.5" r="0.5"/><circle cx="367.5" cy="283.3" r="0.5"/><circle cx="367.7" cy="267.8" r="0.5"/><circle cx="371.7" cy="286.2" r="0.5"/><circle cx="394.9" cy="285.9" r="0.4"/><circle cx="397.3" cy="259.6" r="0.4"/><circle cx="387.6" cy="290.3" r="0.3"/><circle cx="379.9" cy="289.6" r="0.5"/><circle cx="391.3" cy="268.0" r="0.3"/><circle cx="387.6" cy="278.3" r="0.4"/><circle cx="378.5" cy="288.9" r="0.5"/><circle cx="386.3" cy="261.1" r="0.4"/><circle cx="379.2" cy="290.1" r="0.4"/><circle cx="386.7" cy="281.8" r="0.4"/><circle cx="392.3" cy="274.0" r="0.3"/><circle cx="380.9" cy="278.9" r="0.4"/><circle cx="388.3" cy="277.0" r="0.4"/><circle cx="373.5" cy="273.9" r="0.4"/><circle cx="378.9" cy="289.5" r="0.4"/><circle cx="380.1" cy="260.9" r="0.4"/><circle cx="374.0" cy="272.3" r="0.3"/><circle cx="386.3" cy="280.5" r="0.4"/><circle cx="371.6" cy="276.3" r="0.4"/><circle cx="397.3" cy="269.6" r="0.3"/><circle cx="381.0" cy="290.8" r="0.4"/><circle cx="391.4" cy="286.2" r="0.4"/><circle cx="392.8" cy="278.2" r="0.4"/><circle cx="389.2" cy="275.7" r="0.4"/><circle cx="391.3" cy="261.1" r="0.3"/><circle cx="377.2" cy="282.5" r="0.5"/><circle cx="383.3" cy="286.4" r="0.4"/><circle cx="390.2" cy="281.1" r="0.3"/><circle cx="387.7" cy="264.6" r="0.5"/><circle cx="371.3" cy="263.1" r="0.3"/><circle cx="383.5" cy="275.6" r="0.4"/><circle cx="386.1" cy="281.0" r="0.4"/><circle cx="381.5" cy="282.5" r="0.3"/><circle cx="379.5" cy="280.8" r="0.4"/><circle cx="367.7" cy="276.9" r="0.4"/><circle cx="387.2" cy="274.9" r="0.3"/><circle cx="373.1" cy="261.8" r="0.5"/><circle cx="394.4" cy="271.2" r="0.4"/><circle cx="373.2" cy="289.5" r="0.4"/><circle cx="377.0" cy="264.4" r="0.5"/><circle cx="387.2" cy="287.1" r="0.3"/><circle cx="371.7" cy="267.4" r="0.4"/><circle cx="392.0" cy="288.1" r="0.5"/><circle cx="371.4" cy="284.6" r="0.4"/><circle cx="394.9" cy="291.0" r="0.3"/><circle cx="396.1" cy="261.8" r="0.5"/><circle cx="378.8" cy="277.0" r="0.3"/><circle cx="394.9" cy="260.3" r="0.4"/><circle cx="395.4" cy="284.6" r="0.4"/><circle cx="385.9" cy="264.4" r="0.3"/><circle cx="375.5" cy="287.8" r="0.3"/><circle cx="395.8" cy="260.5" r="0.5"/><circle cx="380.5" cy="280.9" r="0.5"/><circle cx="369.9" cy="288.8" r="0.3"/><circle cx="371.3" cy="263.8" r="0.4"/><circle cx="372.4" cy="281.2" r="0.4"/><circle cx="395.9" cy="267.7" r="0.4"/><circle cx="393.3" cy="274.3" r="0.4"/><circle cx="376.1" cy="283.1" r="0.5"/><circle cx="396.2" cy="289.4" r="0.5"/><circle cx="392.9" cy="275.1" r="0.4"/><circle cx="386.0" cy="289.9" r="0.4"/><circle cx="382.4" cy="270.6" r="0.5"/><circle cx="379.0" cy="265.7" r="0.3"/><circle cx="372.0" cy="272.3" r="0.3"/><circle cx="375.9" cy="287.2" r="0.4"/><circle cx="369.8" cy="284.7" r="0.3"/><circle cx="388.7" cy="267.5" r="0.3"/><circle cx="397.2" cy="262.3" r="0.4"/><circle cx="388.2" cy="279.4" r="0.4"/><circle cx="374.0" cy="260.7" r="0.4"/><circle cx="384.5" cy="290.4" r="0.5"/></g></g>
<g fill="#a0a020" filter="url(#bl03)"><g fill-opacity="0.25"><circle cx="358.8" cy="253.1" r="0.6"/><circle cx="352.1" cy="251.4" r="0.5"/><circle cx="345.6" cy="253.2" r="0.7"/><circle cx="364.8" cy="252.1" r="0.7"/><circle cx="353.7" cy="253.4" r="0.6"/><circle cx="349.4" cy="254.1" r="0.6"/><circle cx="334.9" cy="256.7" r="0.7"/><circle cx="352.6" cy="253.9" r="0.5"/><circle cx="335.0" cy="252.8" r="0.6"/><circle cx="343.3" cy="254.4" r="0.6"/><circle cx="344.4" cy="255.1" r="0.5"/><circle cx="351.9" cy="256.5" r="0.7"/><circle cx="347.2" cy="252.0" r="0.5"/><circle cx="340.6" cy="251.2" r="0.6"/><circle cx="350.7" cy="256.0" r="0.5"/></g><g fill-opacity="0.35"><circle cx="360.3" cy="251.7" r="0.6"/><circle cx="335.6" cy="250.2" r="0.6"/><circle cx="361.4" cy="255.9" r="0.6"/><circle cx="344.4" cy="250.6" r="0.5"/><circle cx="365.1" cy="251.0" r="0.7"/><circle cx="355.8" cy="253.8" r="0.5"/><circle cx="358.3" cy="253.1" r="0.5"/><circle cx="340.0" cy="251.0" r="0.6"/><circle cx="343.4" cy="254.6" r="0.5"/><circle cx="347.9" cy="255.9" r="0.5"/><circle cx="353.2" cy="253.7" r="0.5"/><circle cx="349.6" cy="250.3" r="0.7"/></g><g fill-opacity="0.45"><circle cx="337.9" cy="250.5" r="0.5"/><circle cx="340.2" cy="253.0" r="0.5"/><circle cx="348.3" cy="252.1" r="0.7"/><circle cx="337.8" cy="252.4" r="0.6"/><circle cx="353.6" cy="252.4" r="0.7"/><circle cx="349.0" cy="256.5" r="0.7"/><circle cx="361.8" cy="251.6" r="0.7"/><circle cx="347.4" cy="253.4" r="0.5"/><circle cx="335.4" cy="252.2" r="0.5"/><circle cx="362.2" cy="254.9" r="0.5"/><circle cx="355.7" cy="256.5" r="0.7"/></g><g fill-opacity="0.55"><circle cx="351.7" cy="253.7" r="0.7"/><circle cx="349.8" cy="254.7" r="0.5"/><circle cx="343.9" cy="255.2" r="0.6"/><circle cx="356.8" cy="252.1" r="0.6"/><circle cx="336.3" cy="253.6" r="0.7"/><circle cx="358.0" cy="255.7" r="0.5"/><circle cx="359.8" cy="250.8" r="0.6"/></g></g>
<path d="M343.5 204 C342 197 345 191.5 350.5 191.5 C356 191.5 359.5 196 359.5 202 C359.5 208 357 213 351 213.5 C346 213.5 344 209 343.5 204 Z" fill="url(#gW)" filter="url(#texW)"/>
<ellipse cx="348.4" cy="240.8" rx="7.6" ry="8.2" fill="url(#gW)" filter="url(#texW)"/>
<ellipse cx="350.8" cy="276.4" rx="7.0" ry="6.8" fill="url(#gW)" filter="url(#texW)"/>
<g fill="#9a9426" filter="url(#bl04)"><g fill-opacity="0.09"><circle cx="347.6" cy="201.7" r="1.2"/><circle cx="351.1" cy="193.8" r="1.2"/><circle cx="351.5" cy="195.6" r="1.1"/><circle cx="352.5" cy="195.0" r="1.2"/><circle cx="352.0" cy="194.3" r="1.0"/><circle cx="357.7" cy="197.2" r="1.0"/><circle cx="347.5" cy="204.2" r="1.0"/><circle cx="357.5" cy="202.4" r="1.2"/><circle cx="357.2" cy="204.1" r="1.0"/><circle cx="352.2" cy="194.8" r="0.6"/><circle cx="350.0" cy="193.6" r="1.3"/><circle cx="356.6" cy="201.6" r="0.7"/><circle cx="347.8" cy="204.3" r="1.2"/><circle cx="357.5" cy="201.4" r="0.7"/><circle cx="349.8" cy="199.5" r="0.9"/><circle cx="344.6" cy="205.4" r="1.1"/><circle cx="349.0" cy="203.1" r="1.0"/><circle cx="345.3" cy="201.2" r="0.7"/><circle cx="357.1" cy="195.8" r="1.0"/><circle cx="352.8" cy="204.6" r="0.8"/><circle cx="347.2" cy="207.4" r="0.7"/><circle cx="346.2" cy="203.4" r="1.1"/><circle cx="345.3" cy="195.5" r="0.9"/><circle cx="349.0" cy="207.0" r="1.3"/><circle cx="346.3" cy="197.9" r="1.0"/></g><g fill-opacity="0.14"><circle cx="355.2" cy="196.4" r="0.9"/><circle cx="354.1" cy="199.5" r="1.2"/><circle cx="355.2" cy="207.3" r="0.8"/><circle cx="357.1" cy="209.1" r="0.8"/><circle cx="344.0" cy="202.4" r="0.9"/><circle cx="358.8" cy="202.4" r="0.9"/><circle cx="355.2" cy="200.7" r="0.6"/><circle cx="349.0" cy="206.7" r="1.2"/><circle cx="353.2" cy="195.2" r="1.2"/><circle cx="353.1" cy="209.3" r="1.1"/><circle cx="347.3" cy="199.0" r="1.2"/><circle cx="355.2" cy="202.4" r="0.6"/><circle cx="356.9" cy="203.5" r="0.6"/><circle cx="346.7" cy="210.0" r="1.2"/><circle cx="346.1" cy="197.0" r="0.8"/><circle cx="348.8" cy="197.6" r="0.7"/><circle cx="346.3" cy="194.4" r="1.0"/><circle cx="345.1" cy="207.6" r="0.8"/><circle cx="345.4" cy="206.1" r="0.7"/><circle cx="347.0" cy="195.3" r="1.2"/><circle cx="351.4" cy="212.6" r="0.9"/><circle cx="350.0" cy="202.4" r="0.8"/><circle cx="346.6" cy="205.0" r="0.8"/><circle cx="349.0" cy="202.9" r="0.8"/><circle cx="356.1" cy="198.2" r="1.1"/><circle cx="350.5" cy="205.4" r="0.8"/><circle cx="353.7" cy="199.3" r="0.8"/><circle cx="352.6" cy="198.4" r="0.6"/><circle cx="352.7" cy="210.2" r="1.3"/><circle cx="351.4" cy="195.0" r="1.0"/><circle cx="350.0" cy="203.8" r="1.1"/><circle cx="358.3" cy="201.1" r="1.3"/><circle cx="346.6" cy="199.2" r="1.1"/><circle cx="346.9" cy="209.2" r="0.7"/><circle cx="344.2" cy="198.2" r="1.2"/><circle cx="353.1" cy="193.2" r="1.0"/><circle cx="353.2" cy="194.8" r="0.8"/><circle cx="349.1" cy="206.0" r="0.7"/><circle cx="351.1" cy="212.6" r="0.7"/><circle cx="351.2" cy="212.9" r="0.7"/><circle cx="351.6" cy="195.5" r="0.8"/><circle cx="351.7" cy="195.7" r="0.8"/><circle cx="352.9" cy="212.4" r="1.1"/></g><g fill-opacity="0.20"><circle cx="345.3" cy="202.9" r="0.7"/><circle cx="358.7" cy="202.6" r="1.1"/><circle cx="347.1" cy="206.5" r="1.3"/><circle cx="344.6" cy="206.6" r="1.1"/><circle cx="352.6" cy="201.7" r="0.9"/><circle cx="351.6" cy="200.5" r="0.7"/><circle cx="352.4" cy="207.3" r="1.0"/><circle cx="350.3" cy="207.9" r="1.0"/><circle cx="351.6" cy="208.6" r="0.6"/><circle cx="355.9" cy="195.4" r="1.2"/><circle cx="354.1" cy="209.8" r="1.3"/><circle cx="348.1" cy="207.3" r="1.1"/><circle cx="348.2" cy="207.5" r="1.2"/><circle cx="355.6" cy="206.0" r="1.0"/><circle cx="349.9" cy="206.7" r="0.7"/><circle cx="355.5" cy="208.3" r="0.9"/><circle cx="348.6" cy="209.7" r="1.2"/><circle cx="351.2" cy="193.5" r="0.6"/><circle cx="347.4" cy="210.0" r="1.2"/><circle cx="355.8" cy="206.3" r="0.7"/><circle cx="354.9" cy="206.0" r="1.2"/><circle cx="347.5" cy="193.8" r="1.2"/><circle cx="351.7" cy="199.5" r="1.0"/><circle cx="344.8" cy="197.5" r="1.2"/><circle cx="350.2" cy="203.4" r="0.8"/><circle cx="352.7" cy="195.9" r="0.9"/><circle cx="351.1" cy="203.3" r="1.3"/><circle cx="353.7" cy="198.6" r="0.6"/><circle cx="357.9" cy="200.3" r="1.2"/><circle cx="346.1" cy="201.8" r="1.1"/><circle cx="351.3" cy="197.9" r="1.2"/><circle cx="349.1" cy="195.2" r="1.2"/><circle cx="348.9" cy="203.2" r="1.0"/><circle cx="353.1" cy="200.3" r="0.9"/><circle cx="345.0" cy="205.9" r="1.2"/><circle cx="356.5" cy="206.4" r="0.8"/><circle cx="358.1" cy="198.5" r="1.0"/><circle cx="356.6" cy="200.0" r="0.8"/><circle cx="348.8" cy="202.1" r="1.0"/></g><g fill-opacity="0.25"><circle cx="348.5" cy="197.7" r="0.8"/><circle cx="355.5" cy="199.6" r="0.9"/><circle cx="356.1" cy="202.9" r="1.2"/><circle cx="355.5" cy="202.6" r="1.1"/><circle cx="348.5" cy="206.7" r="1.1"/><circle cx="345.1" cy="209.0" r="0.7"/><circle cx="351.8" cy="196.1" r="0.8"/><circle cx="351.6" cy="197.1" r="0.8"/><circle cx="355.9" cy="208.8" r="1.1"/><circle cx="350.4" cy="207.6" r="1.2"/><circle cx="350.2" cy="202.8" r="1.3"/><circle cx="351.2" cy="198.5" r="1.2"/><circle cx="352.0" cy="204.7" r="0.9"/><circle cx="349.4" cy="210.3" r="1.2"/><circle cx="345.2" cy="204.7" r="1.3"/><circle cx="348.2" cy="200.8" r="0.9"/><circle cx="350.2" cy="192.7" r="1.2"/><circle cx="345.0" cy="205.3" r="0.6"/><circle cx="358.3" cy="198.0" r="0.9"/><circle cx="349.4" cy="202.6" r="0.8"/><circle cx="355.2" cy="210.4" r="1.1"/><circle cx="344.9" cy="199.7" r="1.3"/><circle cx="356.4" cy="205.3" r="0.7"/><circle cx="344.8" cy="196.5" r="1.1"/><circle cx="347.3" cy="201.2" r="0.8"/><circle cx="351.9" cy="202.3" r="0.9"/><circle cx="348.5" cy="204.4" r="0.7"/><circle cx="348.1" cy="201.1" r="0.6"/><circle cx="343.7" cy="199.6" r="1.0"/><circle cx="358.5" cy="198.6" r="1.0"/><circle cx="356.3" cy="198.8" r="0.7"/><circle cx="352.4" cy="206.5" r="0.6"/><circle cx="352.5" cy="200.3" r="1.1"/><circle cx="346.4" cy="206.8" r="0.6"/><circle cx="351.9" cy="204.3" r="0.8"/><circle cx="356.2" cy="202.7" r="0.7"/><circle cx="353.8" cy="202.8" r="0.8"/><circle cx="346.8" cy="209.9" r="1.2"/><circle cx="356.1" cy="197.2" r="1.1"/><circle cx="355.1" cy="196.4" r="0.9"/><circle cx="355.8" cy="200.5" r="0.7"/><circle cx="349.2" cy="198.0" r="1.2"/><circle cx="352.4" cy="192.5" r="0.8"/></g></g>
<g fill="#a09a28" filter="url(#bl04)"><g fill-opacity="0.09"><circle cx="342.0" cy="239.4" r="0.8"/><circle cx="345.0" cy="235.1" r="1.2"/><circle cx="351.2" cy="236.0" r="1.2"/><circle cx="349.8" cy="233.4" r="0.7"/><circle cx="352.7" cy="237.2" r="0.7"/><circle cx="354.0" cy="236.5" r="0.8"/><circle cx="349.1" cy="233.2" r="1.1"/><circle cx="346.2" cy="234.9" r="1.2"/><circle cx="354.6" cy="242.3" r="0.8"/><circle cx="347.5" cy="234.2" r="1.3"/><circle cx="349.0" cy="246.8" r="0.8"/><circle cx="351.5" cy="247.8" r="0.8"/><circle cx="342.8" cy="236.3" r="0.9"/><circle cx="350.4" cy="233.3" r="1.1"/><circle cx="350.4" cy="233.8" r="0.8"/><circle cx="354.8" cy="243.5" r="1.3"/><circle cx="342.8" cy="239.4" r="0.9"/><circle cx="354.5" cy="236.8" r="1.2"/><circle cx="346.7" cy="247.7" r="0.9"/><circle cx="350.5" cy="235.6" r="1.2"/><circle cx="343.8" cy="242.4" r="1.2"/><circle cx="350.7" cy="236.5" r="0.6"/><circle cx="341.5" cy="243.0" r="1.2"/><circle cx="341.9" cy="239.2" r="1.0"/><circle cx="353.9" cy="237.8" r="1.0"/><circle cx="352.3" cy="238.8" r="1.0"/></g><g fill-opacity="0.16"><circle cx="347.0" cy="239.3" r="0.7"/><circle cx="345.3" cy="240.1" r="1.2"/><circle cx="346.8" cy="246.0" r="0.9"/><circle cx="344.2" cy="244.8" r="1.3"/><circle cx="347.0" cy="243.8" r="1.2"/><circle cx="347.8" cy="237.5" r="0.6"/><circle cx="346.1" cy="243.2" r="0.7"/><circle cx="344.7" cy="244.2" r="0.7"/><circle cx="342.9" cy="238.1" r="0.6"/><circle cx="344.5" cy="239.0" r="0.9"/><circle cx="348.1" cy="243.0" r="0.7"/><circle cx="345.2" cy="243.5" r="1.2"/><circle cx="346.9" cy="240.9" r="0.7"/><circle cx="344.1" cy="239.5" r="1.2"/><circle cx="345.2" cy="234.7" r="1.0"/><circle cx="354.8" cy="242.1" r="0.8"/><circle cx="347.9" cy="244.7" r="0.6"/><circle cx="353.9" cy="238.1" r="0.9"/><circle cx="353.0" cy="237.5" r="0.6"/><circle cx="343.4" cy="245.9" r="1.2"/><circle cx="346.6" cy="240.4" r="0.9"/><circle cx="342.8" cy="241.0" r="0.6"/><circle cx="350.3" cy="240.0" r="1.0"/><circle cx="341.7" cy="242.6" r="1.2"/><circle cx="344.3" cy="245.9" r="1.1"/><circle cx="352.0" cy="242.6" r="0.9"/><circle cx="345.0" cy="236.8" r="1.0"/><circle cx="350.6" cy="236.9" r="1.1"/><circle cx="353.8" cy="241.6" r="1.3"/><circle cx="352.6" cy="235.1" r="1.2"/><circle cx="352.6" cy="240.9" r="0.9"/><circle cx="348.0" cy="247.0" r="1.2"/><circle cx="344.8" cy="239.6" r="1.1"/><circle cx="350.4" cy="233.4" r="1.2"/><circle cx="351.8" cy="234.2" r="0.8"/><circle cx="349.7" cy="241.3" r="1.2"/><circle cx="349.8" cy="237.3" r="1.2"/><circle cx="354.7" cy="237.4" r="0.8"/><circle cx="345.8" cy="238.9" r="0.8"/><circle cx="346.1" cy="241.9" r="1.2"/><circle cx="350.3" cy="235.8" r="0.8"/></g><g fill-opacity="0.22"><circle cx="345.8" cy="237.5" r="1.0"/><circle cx="347.3" cy="238.0" r="1.2"/><circle cx="349.1" cy="238.2" r="0.8"/><circle cx="352.5" cy="236.2" r="0.7"/><circle cx="342.7" cy="244.1" r="0.8"/><circle cx="349.8" cy="233.5" r="0.9"/><circle cx="345.3" cy="245.8" r="1.0"/><circle cx="344.2" cy="244.5" r="0.8"/><circle cx="342.0" cy="244.1" r="1.2"/><circle cx="347.9" cy="245.4" r="0.9"/><circle cx="343.7" cy="241.7" r="1.3"/><circle cx="342.5" cy="242.1" r="1.0"/><circle cx="346.4" cy="235.1" r="0.7"/><circle cx="346.2" cy="235.1" r="1.3"/><circle cx="351.3" cy="238.0" r="1.3"/><circle cx="346.7" cy="237.5" r="1.1"/><circle cx="345.8" cy="236.9" r="0.9"/><circle cx="354.4" cy="240.2" r="0.7"/><circle cx="345.7" cy="247.2" r="1.0"/><circle cx="353.2" cy="239.3" r="0.9"/><circle cx="348.7" cy="240.1" r="0.9"/><circle cx="349.0" cy="235.8" r="1.1"/><circle cx="342.3" cy="240.3" r="1.0"/><circle cx="346.1" cy="244.4" r="0.8"/><circle cx="343.0" cy="246.1" r="0.9"/><circle cx="354.2" cy="236.7" r="0.8"/><circle cx="353.3" cy="238.0" r="0.6"/></g><g fill-opacity="0.29"><circle cx="354.5" cy="239.8" r="0.9"/><circle cx="347.8" cy="238.3" r="1.0"/><circle cx="346.9" cy="237.0" r="1.0"/><circle cx="352.4" cy="243.2" r="0.6"/><circle cx="346.2" cy="245.2" r="0.7"/><circle cx="355.2" cy="243.3" r="1.3"/><circle cx="349.6" cy="233.3" r="0.7"/><circle cx="346.6" cy="235.2" r="0.9"/><circle cx="344.9" cy="233.8" r="0.9"/><circle cx="344.3" cy="236.1" r="1.2"/><circle cx="341.7" cy="239.7" r="1.0"/><circle cx="354.4" cy="236.9" r="1.1"/><circle cx="349.6" cy="234.4" r="0.7"/><circle cx="354.3" cy="241.7" r="0.8"/><circle cx="352.3" cy="240.1" r="0.8"/><circle cx="354.5" cy="241.0" r="0.7"/><circle cx="349.1" cy="245.9" r="0.6"/><circle cx="352.8" cy="246.6" r="1.1"/><circle cx="347.4" cy="238.5" r="0.8"/><circle cx="344.7" cy="241.3" r="0.8"/><circle cx="349.9" cy="234.5" r="1.0"/><circle cx="351.0" cy="245.3" r="1.1"/><circle cx="351.4" cy="244.2" r="0.6"/><circle cx="352.8" cy="237.1" r="0.9"/><circle cx="341.1" cy="241.9" r="0.9"/><circle cx="343.9" cy="239.5" r="0.8"/></g></g>
<g fill="#948e24" filter="url(#bl04)"><g fill-opacity="0.08"><circle cx="354.7" cy="273.8" r="0.9"/><circle cx="350.3" cy="272.7" r="0.8"/><circle cx="354.7" cy="278.4" r="1.0"/><circle cx="348.7" cy="271.9" r="0.9"/><circle cx="347.9" cy="274.8" r="0.7"/><circle cx="354.1" cy="280.4" r="0.6"/><circle cx="346.4" cy="274.1" r="1.1"/><circle cx="355.2" cy="271.9" r="0.7"/><circle cx="354.7" cy="280.3" r="0.7"/><circle cx="353.4" cy="279.4" r="1.0"/><circle cx="350.0" cy="279.9" r="1.1"/><circle cx="351.1" cy="280.4" r="1.0"/><circle cx="352.0" cy="279.9" r="1.0"/><circle cx="352.1" cy="280.1" r="1.1"/><circle cx="347.9" cy="272.5" r="1.1"/><circle cx="346.2" cy="276.9" r="0.9"/><circle cx="347.0" cy="279.0" r="0.7"/><circle cx="350.5" cy="280.4" r="0.8"/></g><g fill-opacity="0.13"><circle cx="350.3" cy="281.9" r="1.2"/><circle cx="353.5" cy="270.8" r="0.7"/><circle cx="347.9" cy="281.6" r="1.2"/><circle cx="349.6" cy="270.2" r="1.1"/><circle cx="352.5" cy="274.9" r="1.0"/><circle cx="348.4" cy="278.8" r="0.8"/><circle cx="345.9" cy="279.2" r="0.8"/><circle cx="348.2" cy="273.7" r="1.2"/><circle cx="352.3" cy="278.4" r="1.0"/><circle cx="355.7" cy="278.3" r="1.1"/><circle cx="349.4" cy="271.5" r="1.0"/><circle cx="356.2" cy="273.7" r="1.3"/><circle cx="353.9" cy="278.5" r="0.9"/><circle cx="352.4" cy="271.3" r="0.9"/><circle cx="355.7" cy="278.1" r="1.1"/><circle cx="345.5" cy="276.5" r="1.2"/><circle cx="346.7" cy="281.1" r="1.3"/><circle cx="355.0" cy="278.3" r="0.8"/><circle cx="352.4" cy="279.6" r="0.7"/><circle cx="352.6" cy="277.2" r="0.8"/><circle cx="346.5" cy="279.5" r="1.1"/><circle cx="347.0" cy="274.4" r="1.1"/></g><g fill-opacity="0.18"><circle cx="357.6" cy="276.5" r="1.0"/><circle cx="345.4" cy="273.5" r="1.0"/><circle cx="353.9" cy="277.0" r="1.0"/><circle cx="347.9" cy="272.9" r="1.0"/><circle cx="350.3" cy="278.9" r="0.9"/><circle cx="347.0" cy="277.2" r="0.8"/><circle cx="351.3" cy="281.9" r="0.7"/><circle cx="347.4" cy="277.2" r="0.9"/><circle cx="353.9" cy="270.9" r="0.8"/><circle cx="348.6" cy="279.0" r="0.7"/><circle cx="346.2" cy="275.6" r="1.2"/><circle cx="348.0" cy="273.4" r="1.0"/><circle cx="354.4" cy="274.4" r="0.8"/><circle cx="348.3" cy="272.1" r="1.2"/><circle cx="355.8" cy="274.8" r="1.1"/><circle cx="347.0" cy="279.9" r="0.6"/><circle cx="354.4" cy="273.8" r="1.3"/><circle cx="349.7" cy="273.6" r="0.9"/><circle cx="351.3" cy="278.3" r="0.9"/><circle cx="349.4" cy="282.5" r="0.8"/><circle cx="348.8" cy="272.5" r="1.0"/><circle cx="356.2" cy="278.2" r="0.7"/><circle cx="354.7" cy="275.6" r="1.0"/><circle cx="352.1" cy="282.5" r="1.2"/><circle cx="347.2" cy="275.9" r="1.3"/><circle cx="346.6" cy="278.4" r="0.9"/></g><g fill-opacity="0.23"><circle cx="347.8" cy="277.1" r="1.2"/><circle cx="356.8" cy="273.7" r="1.0"/><circle cx="348.3" cy="279.4" r="1.0"/><circle cx="353.1" cy="275.6" r="0.9"/><circle cx="348.0" cy="277.4" r="1.3"/><circle cx="344.7" cy="278.8" r="0.6"/><circle cx="355.4" cy="279.3" r="1.2"/><circle cx="350.1" cy="274.5" r="0.6"/><circle cx="353.9" cy="278.2" r="0.8"/><circle cx="351.9" cy="271.1" r="1.0"/><circle cx="349.3" cy="276.2" r="1.0"/><circle cx="354.5" cy="273.7" r="0.9"/><circle cx="347.1" cy="272.9" r="1.0"/><circle cx="352.8" cy="272.4" r="0.9"/><circle cx="356.8" cy="277.8" r="0.8"/><circle cx="347.0" cy="278.2" r="1.0"/><circle cx="349.7" cy="278.1" r="1.3"/><circle cx="357.0" cy="278.1" r="1.0"/><circle cx="351.7" cy="270.5" r="1.1"/><circle cx="356.3" cy="278.6" r="0.8"/><circle cx="349.5" cy="281.0" r="1.1"/><circle cx="352.6" cy="276.0" r="1.1"/><circle cx="349.0" cy="270.9" r="0.7"/><circle cx="351.4" cy="274.1" r="0.7"/></g></g>
<g fill="#000" filter="url(#bl04)"><g fill-opacity="0.24"><circle cx="354.5" cy="200.4" r="0.7"/><circle cx="354.5" cy="194.2" r="0.6"/><circle cx="358.3" cy="206.2" r="1.0"/><circle cx="350.5" cy="212.9" r="1.0"/><circle cx="350.9" cy="202.6" r="1.0"/><circle cx="355.6" cy="199.4" r="1.0"/><circle cx="344.8" cy="198.4" r="0.8"/><circle cx="348.9" cy="203.2" r="0.8"/></g><g fill-opacity="0.31"><circle cx="352.6" cy="201.2" r="0.7"/><circle cx="351.0" cy="205.6" r="0.6"/><circle cx="357.0" cy="202.9" r="0.7"/><circle cx="352.0" cy="210.3" r="0.9"/><circle cx="357.6" cy="209.3" r="0.8"/><circle cx="346.0" cy="196.6" r="0.8"/><circle cx="353.1" cy="199.4" r="0.8"/><circle cx="355.7" cy="195.7" r="0.7"/><circle cx="352.1" cy="213.4" r="0.8"/><circle cx="346.5" cy="200.8" r="0.6"/><circle cx="347.5" cy="193.9" r="0.9"/><circle cx="344.6" cy="209.2" r="0.8"/></g><g fill-opacity="0.39"><circle cx="355.2" cy="201.1" r="0.8"/><circle cx="358.0" cy="199.2" r="0.6"/><circle cx="343.9" cy="203.0" r="1.0"/><circle cx="350.0" cy="200.6" r="1.2"/><circle cx="346.4" cy="209.5" r="0.6"/><circle cx="353.0" cy="198.1" r="1.0"/><circle cx="353.0" cy="208.5" r="0.8"/><circle cx="355.6" cy="209.7" r="0.9"/><circle cx="357.6" cy="198.7" r="1.0"/></g><g fill-opacity="0.46"><circle cx="343.3" cy="205.1" r="0.8"/><circle cx="355.3" cy="194.5" r="0.8"/><circle cx="355.3" cy="211.1" r="1.1"/><circle cx="348.4" cy="211.2" r="0.9"/><circle cx="352.4" cy="198.4" r="0.6"/><circle cx="351.2" cy="203.2" r="0.9"/><circle cx="353.6" cy="210.8" r="0.8"/><circle cx="352.3" cy="206.8" r="0.7"/><circle cx="356.7" cy="196.8" r="1.1"/><circle cx="355.5" cy="197.7" r="1.0"/><circle cx="345.4" cy="195.4" r="1.0"/></g></g>
<g fill="#000" filter="url(#bl04)"><g fill-opacity="0.18"><circle cx="348.6" cy="275.3" r="1.0"/><circle cx="352.8" cy="271.2" r="0.7"/><circle cx="349.9" cy="275.7" r="0.7"/><circle cx="350.6" cy="279.7" r="1.2"/><circle cx="351.5" cy="272.9" r="1.0"/><circle cx="355.7" cy="276.3" r="0.6"/><circle cx="354.0" cy="275.6" r="0.7"/></g><g fill-opacity="0.24"><circle cx="355.1" cy="275.5" r="0.7"/><circle cx="352.3" cy="274.5" r="1.1"/><circle cx="353.8" cy="278.5" r="0.7"/><circle cx="348.4" cy="277.2" r="1.0"/><circle cx="356.3" cy="274.1" r="1.2"/></g><g fill-opacity="0.31"><circle cx="355.1" cy="275.1" r="0.6"/><circle cx="351.2" cy="273.8" r="0.9"/><circle cx="352.6" cy="279.8" r="1.0"/><circle cx="354.0" cy="271.4" r="1.1"/><circle cx="347.6" cy="273.9" r="1.1"/><circle cx="352.0" cy="278.5" r="0.6"/></g><g fill-opacity="0.37"><circle cx="354.0" cy="280.0" r="0.8"/><circle cx="351.5" cy="278.4" r="0.8"/></g></g>
<path d="M343 244 Q345 249 351 249.5 Q355 248 356 245" stroke="#c8c030" stroke-width="2.2" fill="none" filter="url(#bl08)" opacity="0.8"/>
<circle cx="350.60" cy="208.80" r="1.3" fill="#d8d040" stroke="none" stroke-width="0" filter="url(#bl05)" opacity="0.75"/>
<g fill="#8a8420" filter="url(#bl03)"><g fill-opacity="0.25"><circle cx="344.1" cy="201.2" r="0.4"/><circle cx="351.4" cy="191.5" r="0.5"/><circle cx="347.8" cy="210.4" r="0.8"/><circle cx="346.8" cy="210.0" r="0.8"/><circle cx="352.2" cy="191.6" r="0.9"/><circle cx="342.0" cy="200.3" r="0.4"/><circle cx="347.0" cy="193.9" r="0.4"/><circle cx="353.7" cy="211.3" r="0.6"/><circle cx="356.1" cy="195.8" r="0.7"/><circle cx="355.6" cy="213.1" r="0.8"/><circle cx="346.3" cy="211.1" r="0.8"/><circle cx="343.8" cy="196.4" r="0.7"/><circle cx="358.5" cy="207.2" r="0.4"/><circle cx="346.7" cy="210.0" r="0.6"/></g><g fill-opacity="0.35"><circle cx="342.8" cy="201.2" r="0.9"/><circle cx="348.9" cy="212.2" r="0.5"/><circle cx="341.8" cy="200.1" r="0.9"/><circle cx="346.1" cy="195.1" r="0.7"/><circle cx="343.1" cy="207.8" r="0.8"/><circle cx="357.9" cy="208.2" r="0.7"/><circle cx="354.4" cy="191.9" r="0.7"/><circle cx="344.4" cy="206.8" r="0.5"/><circle cx="343.9" cy="205.9" r="0.5"/><circle cx="354.9" cy="193.1" r="0.7"/><circle cx="343.9" cy="203.7" r="0.6"/><circle cx="344.1" cy="208.8" r="0.4"/><circle cx="342.8" cy="204.0" r="0.7"/><circle cx="356.4" cy="195.4" r="0.5"/><circle cx="354.8" cy="194.9" r="0.8"/><circle cx="356.9" cy="197.3" r="0.5"/></g><g fill-opacity="0.45"><circle cx="356.8" cy="193.7" r="0.7"/><circle cx="356.9" cy="194.8" r="0.5"/><circle cx="341.9" cy="201.2" r="0.5"/><circle cx="342.9" cy="196.3" r="0.5"/><circle cx="355.9" cy="194.1" r="0.5"/><circle cx="357.8" cy="205.1" r="0.8"/><circle cx="359.7" cy="200.0" r="0.5"/><circle cx="348.8" cy="214.0" r="0.8"/><circle cx="343.8" cy="199.0" r="0.5"/><circle cx="351.6" cy="192.7" r="0.6"/><circle cx="356.2" cy="192.5" r="0.5"/><circle cx="344.1" cy="196.8" r="0.7"/><circle cx="343.4" cy="202.3" r="0.8"/><circle cx="345.6" cy="210.6" r="0.4"/><circle cx="351.2" cy="191.7" r="0.6"/><circle cx="349.5" cy="212.1" r="0.4"/><circle cx="359.6" cy="206.0" r="0.4"/><circle cx="350.7" cy="193.2" r="0.6"/><circle cx="358.9" cy="198.3" r="0.8"/><circle cx="353.9" cy="192.9" r="0.8"/><circle cx="358.2" cy="195.2" r="0.4"/><circle cx="353.0" cy="192.9" r="0.8"/><circle cx="359.0" cy="196.8" r="0.6"/><circle cx="347.3" cy="213.3" r="0.5"/><circle cx="344.8" cy="210.0" r="0.8"/><circle cx="357.6" cy="211.0" r="0.5"/></g><g fill-opacity="0.55"><circle cx="357.6" cy="194.6" r="0.8"/><circle cx="354.3" cy="194.7" r="0.9"/><circle cx="342.5" cy="197.8" r="0.7"/><circle cx="342.9" cy="201.2" r="0.8"/><circle cx="355.8" cy="194.2" r="0.7"/><circle cx="346.9" cy="213.2" r="0.5"/><circle cx="359.2" cy="205.1" r="0.9"/><circle cx="357.6" cy="208.6" r="0.9"/><circle cx="348.3" cy="212.1" r="0.7"/><circle cx="357.0" cy="194.0" r="0.8"/><circle cx="343.9" cy="204.1" r="0.4"/><circle cx="350.1" cy="190.9" r="0.4"/><circle cx="359.7" cy="204.0" r="0.7"/><circle cx="348.3" cy="211.5" r="0.4"/></g></g>
<g fill="#8a8420" filter="url(#bl03)"><g fill-opacity="0.19"><circle cx="344.5" cy="234.2" r="0.8"/><circle cx="351.9" cy="233.8" r="0.5"/><circle cx="355.9" cy="243.7" r="0.8"/><circle cx="354.5" cy="243.5" r="0.8"/><circle cx="353.6" cy="236.3" r="0.5"/><circle cx="342.1" cy="245.6" r="0.7"/><circle cx="349.8" cy="233.1" r="0.8"/><circle cx="345.3" cy="248.2" r="0.5"/><circle cx="348.6" cy="249.0" r="0.5"/></g><g fill-opacity="0.28"><circle cx="353.8" cy="234.6" r="0.6"/><circle cx="342.2" cy="238.5" r="0.9"/><circle cx="354.9" cy="242.6" r="0.9"/><circle cx="347.8" cy="233.8" r="0.7"/><circle cx="349.8" cy="233.1" r="0.9"/><circle cx="346.9" cy="247.9" r="0.6"/><circle cx="353.8" cy="247.2" r="0.7"/><circle cx="342.6" cy="237.1" r="0.9"/><circle cx="352.4" cy="233.1" r="0.6"/><circle cx="345.7" cy="233.6" r="0.6"/><circle cx="354.1" cy="246.8" r="0.7"/><circle cx="348.6" cy="247.8" r="0.6"/><circle cx="354.5" cy="237.3" r="0.5"/><circle cx="349.3" cy="248.8" r="0.6"/><circle cx="350.9" cy="249.3" r="0.9"/><circle cx="356.4" cy="243.9" r="0.6"/><circle cx="351.9" cy="249.0" r="0.9"/><circle cx="348.2" cy="249.6" r="0.8"/></g><g fill-opacity="0.37"><circle cx="354.0" cy="233.9" r="0.8"/><circle cx="340.2" cy="238.4" r="0.8"/><circle cx="343.7" cy="248.2" r="0.5"/><circle cx="353.5" cy="233.8" r="0.9"/><circle cx="349.0" cy="249.3" r="0.4"/><circle cx="341.4" cy="235.8" r="0.8"/><circle cx="353.9" cy="247.1" r="0.8"/><circle cx="345.2" cy="248.1" r="0.5"/><circle cx="341.1" cy="242.6" r="0.5"/><circle cx="353.7" cy="245.1" r="0.5"/><circle cx="347.2" cy="249.3" r="0.6"/><circle cx="356.0" cy="243.5" r="0.9"/></g><g fill-opacity="0.46"><circle cx="354.7" cy="245.6" r="0.5"/><circle cx="350.1" cy="249.3" r="0.5"/><circle cx="342.0" cy="238.0" r="0.4"/><circle cx="351.6" cy="249.2" r="0.6"/><circle cx="345.7" cy="233.0" r="0.7"/><circle cx="348.3" cy="231.6" r="0.7"/><circle cx="353.8" cy="236.3" r="0.7"/><circle cx="355.2" cy="241.4" r="0.6"/><circle cx="352.7" cy="234.4" r="0.5"/><circle cx="349.0" cy="233.7" r="0.4"/><circle cx="356.1" cy="236.9" r="0.5"/></g></g>
<g fill="#7a7418" filter="url(#bl03)"><g fill-opacity="0.19"><circle cx="356.0" cy="281.1" r="0.6"/><circle cx="353.9" cy="270.3" r="0.8"/><circle cx="357.7" cy="272.9" r="0.5"/><circle cx="357.8" cy="275.8" r="0.8"/><circle cx="351.7" cy="283.9" r="0.8"/><circle cx="353.4" cy="283.5" r="0.9"/><circle cx="348.0" cy="282.4" r="0.9"/></g><g fill-opacity="0.26"><circle cx="344.5" cy="279.2" r="0.5"/><circle cx="350.8" cy="269.0" r="0.9"/><circle cx="348.9" cy="282.7" r="0.8"/><circle cx="355.3" cy="270.7" r="0.6"/><circle cx="347.4" cy="271.4" r="0.7"/><circle cx="353.9" cy="271.3" r="0.6"/><circle cx="348.2" cy="270.5" r="0.7"/><circle cx="344.9" cy="280.5" r="0.8"/><circle cx="353.1" cy="283.0" r="0.7"/><circle cx="344.9" cy="271.9" r="0.8"/><circle cx="347.9" cy="283.3" r="0.5"/><circle cx="350.9" cy="283.7" r="0.5"/><circle cx="354.5" cy="281.1" r="0.5"/><circle cx="347.2" cy="281.2" r="0.8"/><circle cx="350.5" cy="269.8" r="0.7"/></g><g fill-opacity="0.34"><circle cx="345.3" cy="281.3" r="0.5"/><circle cx="356.7" cy="276.9" r="0.7"/><circle cx="345.7" cy="281.9" r="0.7"/><circle cx="355.5" cy="281.7" r="0.6"/><circle cx="351.5" cy="283.0" r="0.7"/><circle cx="356.6" cy="278.1" r="0.6"/><circle cx="353.1" cy="270.8" r="0.9"/><circle cx="356.5" cy="275.1" r="0.5"/><circle cx="351.3" cy="270.3" r="0.7"/><circle cx="344.4" cy="277.5" r="0.9"/><circle cx="346.6" cy="280.7" r="0.9"/></g><g fill-opacity="0.41"><circle cx="356.8" cy="275.7" r="0.8"/><circle cx="355.5" cy="270.8" r="0.8"/><circle cx="345.3" cy="279.3" r="0.4"/><circle cx="350.7" cy="268.9" r="0.6"/><circle cx="353.6" cy="270.9" r="0.7"/><circle cx="355.4" cy="270.7" r="0.6"/><circle cx="355.7" cy="271.8" r="0.8"/></g></g>
<circle cx="350.90" cy="198.00" r="2.2" fill="#141400" stroke="none" stroke-width="0" filter="url(#bl08)"/>
<circle cx="383.40" cy="206.50" r="3.6" fill="url(#gG)" stroke="none" stroke-width="0" opacity="0.6"/>
<g fill="#30a830" filter="url(#bl03)"><g fill-opacity="0.36"><circle cx="381.9" cy="209.8" r="0.7"/><circle cx="380.6" cy="205.7" r="0.8"/><circle cx="384.2" cy="209.2" r="0.6"/><circle cx="380.4" cy="208.3" r="0.6"/><circle cx="384.6" cy="205.8" r="0.7"/><circle cx="382.4" cy="208.4" r="0.5"/><circle cx="380.4" cy="208.9" r="0.5"/><circle cx="386.3" cy="206.9" r="0.6"/><circle cx="381.2" cy="208.8" r="0.5"/><circle cx="387.1" cy="206.0" r="0.6"/><circle cx="383.3" cy="203.0" r="0.7"/><circle cx="381.6" cy="208.0" r="0.6"/></g><g fill-opacity="0.49"><circle cx="380.2" cy="207.6" r="0.5"/><circle cx="385.6" cy="203.6" r="0.6"/><circle cx="386.2" cy="204.7" r="0.5"/><circle cx="386.1" cy="209.0" r="0.6"/><circle cx="384.5" cy="203.9" r="0.6"/><circle cx="382.9" cy="203.0" r="0.5"/><circle cx="383.4" cy="210.2" r="0.6"/><circle cx="380.8" cy="203.9" r="0.7"/><circle cx="387.1" cy="207.2" r="0.7"/></g><g fill-opacity="0.61"><circle cx="384.6" cy="208.9" r="0.7"/><circle cx="384.9" cy="206.0" r="0.5"/><circle cx="387.5" cy="207.3" r="0.7"/><circle cx="382.9" cy="207.3" r="0.8"/><circle cx="382.7" cy="204.4" r="0.6"/><circle cx="384.7" cy="202.6" r="0.4"/><circle cx="386.4" cy="204.9" r="0.6"/><circle cx="382.1" cy="206.1" r="0.7"/><circle cx="386.0" cy="205.4" r="0.7"/><circle cx="380.1" cy="206.4" r="0.7"/><circle cx="386.5" cy="209.1" r="0.8"/><circle cx="384.2" cy="205.7" r="0.6"/><circle cx="383.8" cy="203.2" r="0.4"/></g><g fill-opacity="0.74"><circle cx="383.0" cy="210.5" r="0.8"/><circle cx="382.5" cy="206.9" r="0.4"/><circle cx="385.9" cy="203.8" r="0.6"/><circle cx="382.7" cy="207.4" r="0.8"/><circle cx="381.3" cy="203.7" r="0.7"/><circle cx="384.7" cy="203.7" r="0.5"/><circle cx="382.0" cy="203.9" r="0.5"/><circle cx="385.6" cy="205.9" r="0.5"/><circle cx="385.9" cy="207.1" r="0.7"/><circle cx="382.3" cy="206.4" r="0.7"/><circle cx="385.8" cy="206.8" r="0.5"/></g></g>
<circle cx="378.70" cy="240.00" r="1.5" fill="#34b034" stroke="none" stroke-width="0" filter="url(#bl05)"/>
<g fill="#40c040" filter="url(#bl03)"><g fill-opacity="0.46"><circle cx="379.4" cy="239.5" r="0.4"/><circle cx="379.6" cy="240.1" r="0.7"/></g><g fill-opacity="0.59"><circle cx="378.8" cy="239.4" r="0.5"/><circle cx="379.1" cy="240.8" r="0.6"/><circle cx="378.3" cy="239.2" r="0.4"/><circle cx="378.6" cy="238.9" r="0.6"/><circle cx="377.8" cy="241.6" r="0.5"/></g><g fill-opacity="0.71"><circle cx="378.4" cy="239.9" r="0.5"/></g><g fill-opacity="0.84"><circle cx="378.0" cy="240.8" r="0.5"/><circle cx="377.7" cy="241.6" r="0.5"/><circle cx="378.0" cy="241.1" r="0.6"/><circle cx="379.0" cy="241.1" r="0.4"/></g></g>
<circle cx="382.00" cy="275.00" r="2.4" fill="url(#gG)" stroke="none" stroke-width="0" opacity="0.5"/>
<g fill="#2a9a2a" filter="url(#bl03)"><g fill-opacity="0.35"><circle cx="383.6" cy="276.8" r="0.5"/><circle cx="379.3" cy="275.0" r="0.6"/><circle cx="381.7" cy="276.3" r="0.5"/><circle cx="379.8" cy="274.0" r="0.4"/><circle cx="382.6" cy="274.4" r="0.4"/></g><g fill-opacity="0.45"><circle cx="383.4" cy="277.2" r="0.7"/><circle cx="383.7" cy="275.8" r="0.5"/><circle cx="381.5" cy="277.1" r="0.6"/><circle cx="382.5" cy="276.2" r="0.6"/></g><g fill-opacity="0.55"><circle cx="383.4" cy="272.8" r="0.5"/><circle cx="384.0" cy="275.2" r="0.4"/><circle cx="379.5" cy="275.4" r="0.6"/></g><g fill-opacity="0.65"><circle cx="381.6" cy="273.2" r="0.7"/><circle cx="384.2" cy="274.2" r="0.5"/><circle cx="382.5" cy="274.0" r="0.6"/><circle cx="381.3" cy="276.3" r="0.6"/><circle cx="383.1" cy="273.1" r="0.7"/><circle cx="381.8" cy="277.7" r="0.6"/></g></g>
<g fill="#3a28a0" filter="url(#bl05)"><g fill-opacity="0.20"><circle cx="413.4" cy="211.3" r="1.2"/><circle cx="413.8" cy="201.1" r="0.9"/><circle cx="419.4" cy="207.3" r="0.9"/><circle cx="407.4" cy="206.2" r="1.1"/><circle cx="410.5" cy="200.9" r="0.7"/><circle cx="414.5" cy="212.5" r="0.8"/><circle cx="417.3" cy="200.1" r="1.0"/><circle cx="423.2" cy="208.6" r="0.7"/><circle cx="408.3" cy="204.6" r="0.7"/><circle cx="420.8" cy="212.7" r="0.7"/><circle cx="418.8" cy="205.5" r="0.8"/><circle cx="421.8" cy="209.1" r="0.6"/><circle cx="414.7" cy="208.4" r="1.1"/><circle cx="417.5" cy="207.4" r="0.8"/><circle cx="414.2" cy="203.6" r="1.0"/><circle cx="421.0" cy="201.8" r="0.7"/><circle cx="415.3" cy="213.0" r="0.6"/><circle cx="414.5" cy="209.4" r="0.9"/><circle cx="420.3" cy="207.9" r="0.9"/><circle cx="417.2" cy="204.3" r="1.3"/><circle cx="422.2" cy="212.4" r="0.8"/><circle cx="414.4" cy="214.4" r="1.2"/><circle cx="408.8" cy="206.6" r="0.8"/><circle cx="411.4" cy="210.3" r="0.7"/><circle cx="422.5" cy="210.2" r="0.9"/><circle cx="422.3" cy="210.3" r="0.8"/><circle cx="420.2" cy="204.5" r="0.8"/><circle cx="416.3" cy="200.2" r="0.8"/><circle cx="421.8" cy="203.5" r="0.9"/><circle cx="419.6" cy="203.9" r="1.2"/><circle cx="417.4" cy="209.4" r="0.8"/><circle cx="411.3" cy="213.1" r="0.8"/><circle cx="416.8" cy="210.6" r="0.8"/><circle cx="416.4" cy="204.1" r="0.7"/><circle cx="414.7" cy="212.3" r="0.7"/><circle cx="416.0" cy="215.6" r="0.8"/><circle cx="408.6" cy="209.5" r="1.2"/><circle cx="416.3" cy="199.6" r="0.6"/><circle cx="416.3" cy="209.3" r="0.8"/><circle cx="413.7" cy="207.3" r="1.2"/><circle cx="420.0" cy="209.2" r="1.0"/><circle cx="419.3" cy="209.5" r="1.2"/><circle cx="408.8" cy="207.4" r="0.8"/><circle cx="421.0" cy="202.9" r="1.2"/><circle cx="416.0" cy="208.6" r="1.0"/><circle cx="413.8" cy="205.4" r="1.2"/></g><g fill-opacity="0.30"><circle cx="417.1" cy="202.5" r="1.1"/><circle cx="421.5" cy="211.7" r="1.2"/><circle cx="411.7" cy="200.8" r="1.3"/><circle cx="416.8" cy="203.8" r="1.1"/><circle cx="414.6" cy="201.1" r="1.3"/><circle cx="415.7" cy="215.5" r="0.6"/><circle cx="412.7" cy="215.1" r="1.2"/><circle cx="417.0" cy="213.2" r="1.3"/><circle cx="422.9" cy="207.0" r="0.6"/><circle cx="410.6" cy="201.2" r="0.6"/><circle cx="416.0" cy="209.0" r="1.2"/><circle cx="412.6" cy="211.9" r="1.3"/><circle cx="417.8" cy="215.4" r="1.3"/><circle cx="416.5" cy="202.3" r="1.3"/><circle cx="417.9" cy="213.8" r="0.6"/><circle cx="415.2" cy="211.3" r="1.3"/><circle cx="417.9" cy="212.2" r="0.6"/><circle cx="416.4" cy="203.2" r="1.2"/><circle cx="408.4" cy="204.5" r="1.2"/><circle cx="413.5" cy="213.3" r="1.2"/><circle cx="415.9" cy="200.5" r="0.8"/><circle cx="412.0" cy="212.3" r="0.7"/><circle cx="411.2" cy="207.6" r="0.7"/><circle cx="414.7" cy="215.3" r="0.9"/><circle cx="420.3" cy="213.5" r="0.9"/><circle cx="420.9" cy="208.7" r="0.6"/><circle cx="418.3" cy="209.8" r="0.9"/><circle cx="420.0" cy="201.0" r="1.2"/><circle cx="417.7" cy="207.3" r="1.2"/></g><g fill-opacity="0.40"><circle cx="415.4" cy="208.3" r="1.0"/><circle cx="412.9" cy="212.3" r="1.2"/><circle cx="417.5" cy="212.0" r="0.6"/><circle cx="421.6" cy="205.9" r="1.2"/><circle cx="418.2" cy="201.1" r="0.8"/><circle cx="415.1" cy="214.0" r="1.2"/><circle cx="413.2" cy="211.0" r="0.8"/><circle cx="410.3" cy="205.4" r="1.0"/><circle cx="409.3" cy="204.4" r="0.6"/><circle cx="418.7" cy="213.6" r="0.7"/><circle cx="416.7" cy="201.9" r="0.9"/><circle cx="415.8" cy="214.6" r="0.7"/><circle cx="414.4" cy="207.9" r="1.1"/><circle cx="412.8" cy="207.4" r="0.6"/><circle cx="415.5" cy="212.5" r="0.8"/><circle cx="411.3" cy="203.6" r="0.9"/><circle cx="420.5" cy="210.3" r="1.2"/><circle cx="419.5" cy="211.0" r="1.0"/><circle cx="411.5" cy="204.6" r="0.9"/><circle cx="413.9" cy="208.0" r="0.9"/><circle cx="412.5" cy="202.3" r="1.3"/><circle cx="418.4" cy="200.0" r="1.1"/><circle cx="419.2" cy="203.2" r="1.0"/><circle cx="423.9" cy="208.0" r="1.1"/><circle cx="418.4" cy="207.8" r="0.8"/><circle cx="416.0" cy="213.4" r="0.7"/></g><g fill-opacity="0.50"><circle cx="415.9" cy="215.0" r="1.1"/><circle cx="410.0" cy="208.0" r="0.9"/><circle cx="412.3" cy="207.5" r="0.6"/><circle cx="420.7" cy="207.4" r="0.7"/><circle cx="415.9" cy="206.1" r="1.2"/><circle cx="420.2" cy="201.2" r="0.8"/><circle cx="407.6" cy="209.2" r="1.1"/><circle cx="409.2" cy="205.0" r="1.3"/><circle cx="417.5" cy="211.0" r="1.2"/><circle cx="413.4" cy="205.0" r="1.1"/><circle cx="414.7" cy="204.0" r="1.0"/><circle cx="414.6" cy="201.1" r="1.1"/><circle cx="418.0" cy="199.7" r="0.8"/><circle cx="411.5" cy="210.3" r="0.7"/><circle cx="416.9" cy="214.0" r="1.0"/><circle cx="418.1" cy="208.6" r="1.3"/><circle cx="416.6" cy="200.8" r="1.0"/><circle cx="410.6" cy="211.8" r="0.7"/><circle cx="410.1" cy="213.4" r="0.9"/><circle cx="421.6" cy="210.5" r="1.0"/><circle cx="413.1" cy="210.2" r="0.9"/><circle cx="411.6" cy="201.1" r="0.8"/><circle cx="414.0" cy="205.9" r="1.1"/><circle cx="418.3" cy="206.3" r="1.0"/><circle cx="411.0" cy="206.6" r="1.2"/><circle cx="408.6" cy="204.7" r="1.3"/><circle cx="412.5" cy="201.8" r="1.2"/><circle cx="416.4" cy="203.1" r="1.3"/><circle cx="419.3" cy="214.2" r="1.3"/><circle cx="418.6" cy="206.4" r="1.2"/><circle cx="415.2" cy="214.9" r="1.2"/><circle cx="410.5" cy="211.9" r="0.8"/></g></g>
<g fill="#9028a8" filter="url(#bl04)"><g fill-opacity="0.36"><circle cx="412.5" cy="206.0" r="0.9"/><circle cx="417.9" cy="207.7" r="0.7"/><circle cx="412.8" cy="209.3" r="1.0"/><circle cx="413.2" cy="203.9" r="1.0"/><circle cx="413.4" cy="204.3" r="0.9"/><circle cx="412.7" cy="206.7" r="1.1"/><circle cx="412.5" cy="209.5" r="0.7"/><circle cx="414.5" cy="207.8" r="0.9"/><circle cx="414.3" cy="205.5" r="1.0"/><circle cx="413.9" cy="209.1" r="0.8"/><circle cx="414.7" cy="209.8" r="0.7"/><circle cx="414.7" cy="209.7" r="0.9"/></g><g fill-opacity="0.49"><circle cx="417.3" cy="206.4" r="0.6"/><circle cx="414.6" cy="209.3" r="1.0"/><circle cx="413.1" cy="207.9" r="1.1"/><circle cx="411.2" cy="206.2" r="1.2"/><circle cx="414.6" cy="207.6" r="0.8"/><circle cx="416.2" cy="203.4" r="0.9"/><circle cx="414.3" cy="205.0" r="0.6"/><circle cx="416.1" cy="205.5" r="1.2"/><circle cx="416.2" cy="203.4" r="0.9"/><circle cx="412.2" cy="207.7" r="0.8"/><circle cx="411.6" cy="205.1" r="0.8"/><circle cx="412.0" cy="206.7" r="1.1"/></g><g fill-opacity="0.61"><circle cx="415.2" cy="206.2" r="0.7"/><circle cx="418.7" cy="207.1" r="0.8"/><circle cx="417.6" cy="208.1" r="0.6"/><circle cx="417.7" cy="207.0" r="0.6"/><circle cx="411.2" cy="206.3" r="0.9"/><circle cx="414.3" cy="206.0" r="0.8"/><circle cx="416.9" cy="206.4" r="0.9"/><circle cx="413.7" cy="208.1" r="1.0"/><circle cx="417.8" cy="209.2" r="0.7"/></g><g fill-opacity="0.74"><circle cx="413.9" cy="208.4" r="1.1"/><circle cx="413.8" cy="206.1" r="0.9"/><circle cx="416.2" cy="210.4" r="0.6"/><circle cx="413.9" cy="205.9" r="0.8"/><circle cx="414.7" cy="208.9" r="0.9"/><circle cx="413.9" cy="203.7" r="0.8"/><circle cx="416.4" cy="207.3" r="0.7"/><circle cx="412.7" cy="209.9" r="1.0"/></g></g>
<g fill="#e0306a" filter="url(#bl04)"><g fill-opacity="0.55"><circle cx="414.0" cy="206.6" r="0.9"/><circle cx="413.2" cy="207.2" r="0.8"/><circle cx="415.6" cy="208.9" r="0.8"/><circle cx="416.4" cy="208.7" r="1.0"/></g><g fill-opacity="0.65"><circle cx="413.8" cy="208.8" r="1.1"/><circle cx="415.8" cy="204.5" r="1.0"/><circle cx="415.4" cy="206.6" r="0.7"/><circle cx="415.1" cy="205.6" r="0.9"/><circle cx="414.2" cy="208.6" r="0.7"/><circle cx="415.2" cy="208.5" r="0.7"/><circle cx="417.1" cy="207.4" r="1.0"/><circle cx="413.7" cy="207.5" r="0.8"/><circle cx="414.4" cy="206.2" r="0.8"/></g><g fill-opacity="0.75"><circle cx="412.8" cy="206.6" r="0.8"/><circle cx="415.5" cy="209.1" r="0.8"/><circle cx="412.9" cy="206.0" r="1.1"/><circle cx="414.3" cy="204.9" r="0.6"/><circle cx="416.1" cy="208.6" r="1.0"/><circle cx="414.1" cy="207.5" r="0.8"/><circle cx="415.2" cy="205.0" r="1.0"/></g><g fill-opacity="0.85"><circle cx="415.0" cy="206.9" r="1.0"/><circle cx="414.7" cy="206.7" r="0.6"/><circle cx="415.0" cy="209.2" r="1.1"/><circle cx="417.3" cy="206.7" r="1.0"/><circle cx="415.8" cy="205.2" r="1.0"/><circle cx="415.9" cy="209.0" r="1.0"/><circle cx="415.0" cy="206.4" r="1.1"/></g></g>
<circle cx="414.90" cy="203.70" r="1.2" fill="#ffb040" stroke="none" stroke-width="0" filter="url(#bl05)"/>
<circle cx="414.30" cy="209.30" r="1.1" fill="#ff8a30" stroke="none" stroke-width="0" filter="url(#bl05)"/>
<circle cx="416.00" cy="206.20" r="1.0" fill="#ff6a40" stroke="none" stroke-width="0" filter="url(#bl05)"/>
<g fill="#3a28a0" filter="url(#bl05)"><g fill-opacity="0.20"><circle cx="414.2" cy="241.7" r="1.2"/><circle cx="410.2" cy="240.3" r="0.9"/><circle cx="413.4" cy="238.7" r="1.1"/><circle cx="411.1" cy="243.9" r="0.9"/><circle cx="413.7" cy="241.0" r="1.2"/><circle cx="412.3" cy="238.1" r="0.8"/><circle cx="411.8" cy="237.6" r="0.6"/><circle cx="408.0" cy="242.1" r="0.7"/><circle cx="411.7" cy="244.3" r="0.7"/><circle cx="413.8" cy="238.8" r="1.1"/><circle cx="413.7" cy="238.5" r="1.1"/><circle cx="409.2" cy="243.1" r="1.1"/><circle cx="409.3" cy="238.8" r="1.0"/><circle cx="408.5" cy="241.0" r="1.3"/><circle cx="414.5" cy="242.0" r="1.2"/></g><g fill-opacity="0.30"><circle cx="413.8" cy="239.8" r="0.7"/><circle cx="409.7" cy="238.4" r="1.0"/><circle cx="407.9" cy="239.1" r="0.6"/><circle cx="411.1" cy="240.7" r="1.0"/><circle cx="413.2" cy="240.8" r="0.6"/><circle cx="407.7" cy="239.7" r="1.1"/><circle cx="411.0" cy="240.6" r="0.8"/><circle cx="413.7" cy="239.3" r="0.9"/><circle cx="413.3" cy="239.5" r="1.1"/><circle cx="410.6" cy="239.8" r="1.1"/><circle cx="412.2" cy="238.3" r="1.0"/><circle cx="410.9" cy="241.4" r="0.7"/><circle cx="414.2" cy="240.2" r="1.0"/><circle cx="414.5" cy="239.8" r="0.7"/></g><g fill-opacity="0.40"><circle cx="409.9" cy="240.9" r="0.9"/><circle cx="410.4" cy="237.7" r="0.9"/><circle cx="412.7" cy="239.8" r="0.9"/><circle cx="410.2" cy="237.8" r="0.7"/><circle cx="410.5" cy="241.3" r="1.0"/><circle cx="412.8" cy="242.7" r="1.1"/><circle cx="412.8" cy="243.2" r="1.3"/><circle cx="409.5" cy="239.1" r="1.3"/><circle cx="409.6" cy="241.8" r="0.7"/><circle cx="409.0" cy="240.4" r="0.8"/><circle cx="409.5" cy="242.3" r="0.9"/><circle cx="413.0" cy="240.1" r="0.7"/><circle cx="409.5" cy="239.9" r="1.3"/><circle cx="408.5" cy="241.8" r="0.6"/><circle cx="410.4" cy="239.5" r="0.6"/><circle cx="414.5" cy="240.4" r="1.1"/></g><g fill-opacity="0.50"><circle cx="408.4" cy="240.0" r="0.8"/><circle cx="408.2" cy="242.8" r="1.1"/><circle cx="412.3" cy="241.4" r="0.9"/><circle cx="412.2" cy="237.6" r="1.1"/><circle cx="413.7" cy="239.1" r="0.7"/><circle cx="412.4" cy="242.9" r="0.8"/><circle cx="408.1" cy="241.1" r="1.2"/><circle cx="413.8" cy="239.7" r="1.2"/><circle cx="407.6" cy="240.6" r="1.1"/><circle cx="411.4" cy="239.9" r="1.0"/><circle cx="411.3" cy="243.8" r="1.2"/><circle cx="408.8" cy="243.6" r="1.0"/><circle cx="409.9" cy="237.6" r="0.6"/><circle cx="414.5" cy="239.9" r="0.7"/></g></g>
<g fill="#9028a8" filter="url(#bl04)"><g fill-opacity="0.36"><circle cx="408.9" cy="239.6" r="0.9"/><circle cx="409.5" cy="241.4" r="0.8"/><circle cx="409.3" cy="238.7" r="0.9"/><circle cx="409.4" cy="239.5" r="1.0"/></g><g fill-opacity="0.49"><circle cx="410.3" cy="240.1" r="1.0"/><circle cx="411.1" cy="239.3" r="1.2"/><circle cx="410.6" cy="239.0" r="0.9"/><circle cx="412.1" cy="240.9" r="0.9"/></g><g fill-opacity="0.61"><circle cx="411.6" cy="240.9" r="0.6"/><circle cx="411.3" cy="238.5" r="0.8"/><circle cx="412.1" cy="239.9" r="0.8"/><circle cx="409.8" cy="238.9" r="0.7"/><circle cx="409.0" cy="239.9" r="0.6"/><circle cx="410.2" cy="242.0" r="0.8"/><circle cx="410.8" cy="240.8" r="0.8"/><circle cx="411.5" cy="241.5" r="0.9"/></g><g fill-opacity="0.74"><circle cx="412.1" cy="239.6" r="0.8"/><circle cx="408.7" cy="240.1" r="0.9"/><circle cx="410.6" cy="241.7" r="0.6"/><circle cx="410.0" cy="240.1" r="0.8"/></g></g>
<g fill="#e0306a" filter="url(#bl04)"><g fill-opacity="0.55"><circle cx="410.8" cy="241.2" r="0.7"/><circle cx="410.2" cy="241.1" r="0.7"/><circle cx="410.2" cy="241.3" r="0.8"/></g><g fill-opacity="0.65"><circle cx="409.5" cy="240.5" r="0.9"/><circle cx="409.8" cy="239.4" r="0.6"/><circle cx="410.0" cy="239.1" r="0.7"/><circle cx="410.8" cy="239.5" r="1.0"/></g><g fill-opacity="0.75"><circle cx="410.5" cy="240.8" r="1.0"/><circle cx="410.8" cy="239.0" r="1.1"/><circle cx="410.8" cy="239.3" r="0.9"/></g><g fill-opacity="0.85"><circle cx="410.0" cy="239.5" r="0.8"/><circle cx="410.8" cy="241.0" r="0.8"/><circle cx="411.1" cy="240.4" r="0.8"/></g></g>
<circle cx="410.40" cy="239.00" r="0.9" fill="#ffa040" stroke="none" stroke-width="0" filter="url(#bl05)"/>
<circle cx="410.60" cy="241.40" r="0.8" fill="#ff7050" stroke="none" stroke-width="0" filter="url(#bl05)"/>
<g fill="#3a28a0" filter="url(#bl05)"><g fill-opacity="0.20"><circle cx="411.8" cy="275.6" r="1.2"/><circle cx="417.5" cy="272.0" r="1.1"/><circle cx="416.0" cy="272.8" r="1.3"/><circle cx="411.5" cy="274.6" r="0.9"/><circle cx="415.0" cy="275.4" r="0.7"/><circle cx="413.9" cy="277.0" r="1.2"/><circle cx="416.0" cy="271.1" r="1.3"/><circle cx="416.1" cy="280.9" r="1.0"/><circle cx="411.8" cy="272.0" r="0.8"/><circle cx="417.3" cy="277.7" r="1.3"/><circle cx="412.1" cy="279.8" r="0.8"/><circle cx="416.2" cy="277.1" r="0.7"/><circle cx="418.3" cy="271.6" r="0.9"/><circle cx="409.9" cy="277.5" r="0.6"/><circle cx="415.6" cy="273.7" r="1.3"/><circle cx="415.2" cy="271.0" r="0.8"/><circle cx="414.5" cy="279.3" r="0.8"/><circle cx="414.8" cy="272.0" r="1.3"/><circle cx="410.2" cy="277.8" r="0.8"/><circle cx="420.7" cy="278.4" r="0.6"/><circle cx="415.1" cy="272.9" r="0.7"/><circle cx="415.5" cy="270.9" r="1.0"/></g><g fill-opacity="0.30"><circle cx="415.5" cy="273.3" r="1.0"/><circle cx="417.0" cy="272.9" r="0.6"/><circle cx="414.3" cy="280.2" r="1.3"/><circle cx="416.2" cy="277.7" r="1.1"/><circle cx="414.0" cy="279.4" r="1.0"/><circle cx="412.2" cy="271.0" r="0.9"/><circle cx="411.4" cy="276.8" r="0.9"/><circle cx="410.3" cy="277.2" r="0.9"/><circle cx="412.8" cy="276.1" r="0.8"/><circle cx="416.0" cy="280.8" r="1.2"/><circle cx="415.9" cy="281.3" r="1.3"/><circle cx="416.1" cy="271.0" r="0.7"/><circle cx="417.5" cy="272.6" r="0.7"/><circle cx="410.4" cy="274.6" r="1.1"/><circle cx="416.3" cy="272.3" r="1.2"/><circle cx="412.5" cy="274.7" r="0.9"/><circle cx="412.3" cy="280.2" r="0.6"/><circle cx="415.2" cy="277.0" r="0.8"/><circle cx="416.7" cy="270.5" r="1.3"/><circle cx="416.3" cy="274.1" r="0.8"/><circle cx="419.1" cy="279.0" r="1.3"/><circle cx="418.3" cy="270.5" r="1.1"/><circle cx="418.6" cy="276.8" r="0.8"/><circle cx="414.1" cy="277.2" r="1.2"/><circle cx="418.4" cy="275.2" r="1.3"/><circle cx="412.4" cy="279.9" r="1.0"/></g><g fill-opacity="0.40"><circle cx="417.2" cy="276.3" r="0.8"/><circle cx="409.9" cy="277.9" r="0.7"/><circle cx="412.6" cy="273.7" r="1.1"/><circle cx="417.7" cy="275.9" r="1.2"/><circle cx="411.8" cy="278.2" r="0.9"/><circle cx="414.7" cy="270.1" r="1.0"/><circle cx="411.7" cy="275.7" r="1.1"/><circle cx="412.7" cy="275.3" r="1.1"/><circle cx="414.7" cy="276.9" r="0.6"/><circle cx="410.2" cy="274.6" r="0.8"/><circle cx="412.4" cy="272.5" r="0.8"/><circle cx="417.2" cy="271.5" r="0.8"/><circle cx="416.0" cy="281.5" r="0.7"/><circle cx="416.4" cy="273.1" r="1.1"/><circle cx="412.8" cy="272.7" r="1.0"/><circle cx="416.5" cy="272.9" r="0.6"/><circle cx="413.0" cy="272.6" r="0.8"/><circle cx="417.3" cy="270.7" r="0.9"/><circle cx="419.0" cy="275.8" r="1.1"/><circle cx="420.4" cy="275.2" r="1.0"/><circle cx="419.0" cy="274.2" r="1.3"/><circle cx="419.5" cy="277.4" r="1.2"/><circle cx="418.1" cy="279.8" r="0.6"/></g><g fill-opacity="0.50"><circle cx="415.6" cy="278.5" r="0.9"/><circle cx="417.5" cy="271.1" r="1.1"/><circle cx="414.1" cy="271.7" r="1.2"/><circle cx="411.4" cy="272.9" r="0.9"/><circle cx="412.7" cy="274.4" r="0.9"/><circle cx="415.1" cy="272.2" r="0.7"/><circle cx="419.2" cy="275.0" r="1.0"/><circle cx="419.3" cy="279.3" r="1.1"/><circle cx="413.3" cy="279.5" r="0.9"/><circle cx="416.9" cy="280.3" r="0.8"/><circle cx="417.0" cy="275.3" r="1.2"/><circle cx="414.0" cy="273.3" r="0.9"/><circle cx="410.9" cy="275.5" r="0.7"/><circle cx="419.9" cy="278.6" r="1.0"/><circle cx="414.4" cy="279.1" r="1.1"/><circle cx="411.0" cy="272.5" r="1.0"/><circle cx="412.9" cy="271.1" r="1.0"/><circle cx="417.1" cy="274.8" r="1.0"/><circle cx="413.0" cy="274.8" r="0.7"/><circle cx="419.2" cy="273.1" r="0.8"/><circle cx="411.4" cy="275.4" r="1.1"/><circle cx="418.7" cy="277.9" r="0.8"/><circle cx="411.6" cy="279.7" r="1.0"/><circle cx="412.2" cy="274.0" r="1.0"/><circle cx="414.1" cy="277.7" r="1.1"/></g></g>
<g fill="#9028a8" filter="url(#bl04)"><g fill-opacity="0.36"><circle cx="414.4" cy="275.9" r="0.7"/><circle cx="416.8" cy="276.2" r="0.7"/><circle cx="413.3" cy="273.8" r="0.9"/><circle cx="412.7" cy="276.4" r="1.0"/><circle cx="416.1" cy="276.0" r="0.9"/></g><g fill-opacity="0.49"><circle cx="412.9" cy="273.2" r="1.1"/><circle cx="414.8" cy="272.5" r="1.1"/><circle cx="415.0" cy="273.1" r="0.9"/><circle cx="412.4" cy="274.3" r="0.7"/><circle cx="412.2" cy="275.4" r="1.2"/><circle cx="416.7" cy="275.5" r="0.6"/></g><g fill-opacity="0.61"><circle cx="414.3" cy="276.7" r="1.0"/><circle cx="416.7" cy="274.2" r="1.1"/><circle cx="414.3" cy="274.3" r="0.8"/><circle cx="417.4" cy="274.3" r="1.2"/><circle cx="412.9" cy="274.2" r="1.1"/><circle cx="413.3" cy="277.0" r="1.1"/></g><g fill-opacity="0.74"><circle cx="416.8" cy="276.0" r="1.0"/><circle cx="414.1" cy="273.7" r="0.7"/><circle cx="415.5" cy="276.2" r="0.8"/><circle cx="413.4" cy="274.3" r="1.1"/><circle cx="416.9" cy="274.4" r="0.7"/><circle cx="412.8" cy="275.4" r="0.7"/><circle cx="413.8" cy="276.1" r="0.7"/><circle cx="415.5" cy="273.4" r="0.6"/><circle cx="415.2" cy="274.3" r="1.1"/><circle cx="416.5" cy="274.2" r="0.8"/><circle cx="413.2" cy="274.6" r="1.1"/></g></g>
<g fill="#e0306a" filter="url(#bl04)"><g fill-opacity="0.55"><circle cx="415.2" cy="274.5" r="1.0"/><circle cx="415.1" cy="273.4" r="0.7"/><circle cx="415.8" cy="273.8" r="0.9"/><circle cx="414.7" cy="276.3" r="1.0"/><circle cx="413.9" cy="273.7" r="0.9"/><circle cx="414.3" cy="273.6" r="1.1"/><circle cx="415.1" cy="273.4" r="0.9"/><circle cx="416.2" cy="274.4" r="1.0"/></g><g fill-opacity="0.65"><circle cx="415.7" cy="275.3" r="0.7"/><circle cx="415.4" cy="274.5" r="1.0"/><circle cx="415.5" cy="274.0" r="1.0"/><circle cx="415.4" cy="275.0" r="0.8"/></g><g fill-opacity="0.75"><circle cx="415.6" cy="276.0" r="0.9"/><circle cx="414.0" cy="275.7" r="1.1"/><circle cx="414.6" cy="273.3" r="0.7"/></g><g fill-opacity="0.85"><circle cx="415.0" cy="273.8" r="0.7"/><circle cx="416.0" cy="275.6" r="0.8"/><circle cx="415.4" cy="276.4" r="0.8"/><circle cx="413.5" cy="274.3" r="1.0"/></g></g>
<circle cx="414.20" cy="274.40" r="1.2" fill="#ff3a60" stroke="none" stroke-width="0" filter="url(#bl05)"/>
<circle cx="415.40" cy="275.80" r="0.9" fill="#ff6a40" stroke="none" stroke-width="0" filter="url(#bl05)"/>
<circle cx="406.80" cy="275.50" r="0.7" fill="#5a40c0" stroke="none" stroke-width="0" filter="url(#bl03)"/>
<path d="M448.66 209.93L447.69 210.25L446.69 210.39L445.68 210.35L444.69 210.13L443.74 209.74L442.85 209.18L442.05 208.46L441.34 207.61L440.76 206.65L440.30 205.58L439.99 204.45L439.83 203.28L439.81 202.09L439.96 200.91L440.25 199.77L440.68 198.70L441.25 197.72L441.94 196.85L442.73 196.11L443.61 195.53L444.55 195.11L445.54 194.87L446.54 194.80L447.55 194.92L448.52 195.21L449.45 195.68L450.30 196.31L451.07 197.08L451.72 197.99L452.25 199.00L452.65 200.09L452.90 201.25L453.00 202.43L452.94 203.62L452.74 204.78L452.38 205.90" stroke="#36bcbe" stroke-width="5.0" fill="none" stroke-linecap="round" stroke-linejoin="round" filter="url(#texC)" opacity="1"/>
<circle cx="445.20" cy="211.20" r="2.2" fill="#36bcbe" stroke="none" stroke-width="0" filter="url(#bl08)"/>
<circle cx="449.00" cy="194.50" r="2.0" fill="#5ad8d8" stroke="none" stroke-width="0" filter="url(#bl1)" opacity="0.7"/>
<path d="M446.40 235.47L447.04 235.91L447.60 236.44L448.08 237.05L448.45 237.73L448.72 238.46L448.87 239.22L448.90 239.99L448.81 240.76L448.60 241.51L448.28 242.22L447.85 242.86L447.33 243.44L446.73 243.92L446.06 244.31L445.33 244.59L444.58 244.75L443.80 244.80L443.03 244.72L442.28 244.53L441.57 244.22L440.91 243.81L440.33 243.30L439.83 242.71L439.43 242.04L439.14 241.33L438.96 240.57L438.90 239.80L438.96 239.03L439.14 238.27L439.43 237.56L439.83 236.89L440.33 236.30L440.91 235.79L441.57 235.38L442.28 235.07L443.03 234.88" stroke="#36bcbe" stroke-width="6.0" fill="none" stroke-linecap="round" stroke-linejoin="round" filter="url(#texC)" opacity="1"/>
<circle cx="440.20" cy="233.40" r="2.8" fill="#45cfd0" stroke="none" stroke-width="0" filter="url(#bl08)"/>
<path d="M452.10 275.10L452.02 276.06L451.77 276.98L451.36 277.85L450.81 278.64L450.14 279.31L449.35 279.86L448.48 280.27L447.56 280.52L446.60 280.60L445.64 280.52L444.72 280.27L443.85 279.86L443.06 279.31L442.39 278.64L441.84 277.85L441.43 276.98L441.18 276.06L441.10 275.10L441.18 274.14L441.43 273.22L441.84 272.35L442.39 271.56L443.06 270.89L443.85 270.34L444.72 269.93L445.64 269.68L446.60 269.60L447.56 269.68L448.48 269.93L449.35 270.34L450.14 270.89L450.81 271.56L451.36 272.35L451.77 273.22L452.02 274.14L452.10 275.10" stroke="#3cc2c4" stroke-width="4.6" fill="none" stroke-linecap="round" stroke-linejoin="round" filter="url(#texC)" opacity="1"/>
<g fill="#7ae8e8" filter="url(#bl04)"><g fill-opacity="0.20"><circle cx="445.2" cy="211.2" r="0.6"/><circle cx="438.6" cy="208.4" r="0.6"/><circle cx="452.3" cy="203.3" r="0.8"/><circle cx="453.0" cy="196.9" r="0.6"/><circle cx="450.9" cy="208.9" r="0.8"/><circle cx="446.9" cy="196.4" r="0.9"/><circle cx="438.9" cy="205.2" r="1.0"/><circle cx="443.1" cy="197.1" r="0.5"/><circle cx="441.0" cy="196.5" r="0.9"/><circle cx="445.4" cy="208.9" r="0.9"/><circle cx="440.6" cy="206.0" r="1.0"/><circle cx="442.0" cy="202.3" r="1.0"/><circle cx="438.4" cy="206.3" r="0.5"/><circle cx="452.7" cy="202.7" r="0.8"/><circle cx="440.1" cy="196.0" r="0.8"/><circle cx="441.9" cy="197.4" r="0.6"/><circle cx="441.9" cy="204.9" r="1.0"/><circle cx="450.5" cy="196.3" r="0.5"/><circle cx="445.1" cy="212.9" r="1.0"/><circle cx="440.1" cy="195.3" r="1.1"/><circle cx="438.6" cy="200.5" r="1.1"/><circle cx="442.5" cy="199.5" r="0.8"/></g><g fill-opacity="0.30"><circle cx="445.1" cy="207.9" r="0.8"/><circle cx="441.1" cy="194.2" r="0.9"/><circle cx="454.0" cy="207.6" r="0.7"/><circle cx="454.4" cy="199.0" r="1.0"/><circle cx="441.4" cy="201.1" r="1.0"/><circle cx="454.3" cy="207.4" r="0.6"/><circle cx="439.7" cy="203.5" r="0.5"/><circle cx="439.7" cy="208.4" r="1.1"/><circle cx="442.3" cy="211.2" r="0.7"/><circle cx="447.3" cy="192.2" r="0.8"/><circle cx="440.3" cy="202.1" r="0.5"/></g><g fill-opacity="0.40"><circle cx="448.9" cy="206.5" r="1.0"/><circle cx="445.2" cy="211.0" r="1.1"/><circle cx="442.5" cy="196.4" r="0.8"/><circle cx="440.6" cy="195.5" r="0.8"/><circle cx="449.6" cy="198.7" r="0.9"/><circle cx="443.3" cy="207.1" r="0.9"/><circle cx="444.7" cy="197.6" r="1.0"/><circle cx="442.6" cy="197.7" r="1.0"/><circle cx="449.8" cy="207.8" r="0.7"/><circle cx="440.3" cy="198.6" r="1.0"/><circle cx="441.7" cy="204.8" r="0.7"/><circle cx="454.9" cy="206.2" r="0.9"/><circle cx="445.0" cy="192.7" r="0.8"/><circle cx="442.1" cy="193.6" r="0.7"/><circle cx="446.7" cy="212.0" r="0.7"/><circle cx="447.0" cy="193.1" r="0.8"/><circle cx="450.5" cy="204.1" r="0.7"/></g><g fill-opacity="0.50"><circle cx="441.8" cy="196.5" r="1.0"/><circle cx="452.0" cy="202.8" r="0.9"/><circle cx="437.6" cy="203.6" r="0.6"/><circle cx="450.4" cy="210.2" r="0.6"/><circle cx="443.6" cy="212.1" r="0.7"/><circle cx="448.2" cy="212.4" r="0.6"/><circle cx="439.7" cy="201.2" r="0.8"/><circle cx="451.9" cy="198.7" r="0.8"/><circle cx="455.4" cy="205.5" r="0.9"/><circle cx="442.4" cy="200.6" r="0.5"/><circle cx="441.1" cy="204.8" r="1.0"/><circle cx="441.5" cy="195.5" r="0.9"/><circle cx="451.3" cy="198.0" r="0.7"/><circle cx="438.7" cy="204.4" r="0.8"/><circle cx="438.8" cy="203.0" r="0.9"/><circle cx="452.5" cy="199.3" r="0.9"/><circle cx="453.7" cy="209.2" r="1.0"/><circle cx="438.5" cy="198.4" r="0.9"/><circle cx="445.9" cy="211.8" r="0.7"/><circle cx="455.0" cy="204.3" r="1.1"/></g></g>
<g fill="#0a3a3a" filter="url(#bl04)"><g fill-opacity="0.24"><circle cx="449.0" cy="208.0" r="0.7"/><circle cx="445.4" cy="207.7" r="1.0"/><circle cx="451.7" cy="200.2" r="0.9"/></g><g fill-opacity="0.31"><circle cx="440.1" cy="206.9" r="0.6"/><circle cx="444.2" cy="210.5" r="0.7"/><circle cx="452.8" cy="199.5" r="1.0"/><circle cx="455.3" cy="203.2" r="0.6"/><circle cx="445.4" cy="196.1" r="0.9"/><circle cx="442.9" cy="197.4" r="0.8"/><circle cx="454.5" cy="201.8" r="0.8"/><circle cx="443.7" cy="206.6" r="0.7"/><circle cx="451.8" cy="198.1" r="0.6"/><circle cx="442.9" cy="208.9" r="0.7"/></g><g fill-opacity="0.39"><circle cx="443.1" cy="196.4" r="0.5"/><circle cx="441.5" cy="199.9" r="0.9"/><circle cx="453.6" cy="204.0" r="0.8"/><circle cx="441.8" cy="199.6" r="0.8"/><circle cx="449.6" cy="206.3" r="0.7"/><circle cx="442.9" cy="196.4" r="0.8"/><circle cx="440.5" cy="196.6" r="0.9"/><circle cx="448.2" cy="212.2" r="0.9"/><circle cx="443.2" cy="210.5" r="0.8"/><circle cx="443.7" cy="198.5" r="0.6"/></g><g fill-opacity="0.46"><circle cx="453.7" cy="197.3" r="1.0"/><circle cx="440.1" cy="199.6" r="0.9"/><circle cx="454.3" cy="201.7" r="0.7"/><circle cx="443.3" cy="197.4" r="1.0"/><circle cx="446.6" cy="209.6" r="0.7"/><circle cx="452.0" cy="195.3" r="0.5"/><circle cx="446.6" cy="196.6" r="0.9"/></g></g>
<g fill="#7ae8e8" filter="url(#bl04)"><g fill-opacity="0.20"><circle cx="444.9" cy="237.0" r="1.1"/><circle cx="440.1" cy="240.3" r="0.7"/><circle cx="448.1" cy="240.1" r="0.8"/><circle cx="445.2" cy="237.0" r="1.1"/><circle cx="447.7" cy="244.2" r="0.7"/><circle cx="440.7" cy="232.6" r="0.8"/><circle cx="442.0" cy="245.3" r="1.0"/><circle cx="436.8" cy="240.9" r="0.8"/><circle cx="445.5" cy="245.2" r="0.7"/><circle cx="439.3" cy="238.1" r="1.0"/><circle cx="442.8" cy="243.6" r="1.0"/><circle cx="441.8" cy="246.1" r="0.7"/><circle cx="440.8" cy="245.1" r="0.8"/></g><g fill-opacity="0.30"><circle cx="448.3" cy="236.1" r="0.8"/><circle cx="441.2" cy="244.8" r="0.9"/><circle cx="444.6" cy="234.9" r="1.0"/><circle cx="436.6" cy="241.1" r="0.7"/><circle cx="437.9" cy="244.9" r="0.8"/><circle cx="440.1" cy="233.5" r="0.5"/><circle cx="449.2" cy="237.3" r="0.6"/><circle cx="448.0" cy="241.3" r="0.6"/><circle cx="443.4" cy="235.9" r="0.8"/></g><g fill-opacity="0.40"><circle cx="439.2" cy="234.1" r="0.5"/><circle cx="447.9" cy="236.3" r="0.7"/><circle cx="450.3" cy="239.5" r="0.7"/><circle cx="443.9" cy="234.8" r="1.0"/><circle cx="450.4" cy="240.0" r="0.6"/><circle cx="438.3" cy="241.1" r="0.9"/><circle cx="442.4" cy="246.5" r="0.9"/><circle cx="437.5" cy="235.8" r="0.7"/><circle cx="449.9" cy="238.2" r="0.7"/><circle cx="436.3" cy="241.9" r="0.8"/><circle cx="445.2" cy="243.8" r="0.8"/><circle cx="448.5" cy="244.0" r="0.9"/><circle cx="448.7" cy="241.0" r="0.9"/></g><g fill-opacity="0.50"><circle cx="439.4" cy="234.1" r="1.0"/><circle cx="449.1" cy="238.8" r="1.0"/><circle cx="440.5" cy="236.9" r="0.7"/><circle cx="450.9" cy="239.6" r="0.9"/><circle cx="450.6" cy="243.1" r="0.8"/><circle cx="448.0" cy="241.3" r="1.0"/><circle cx="441.6" cy="245.5" r="0.5"/><circle cx="439.7" cy="242.1" r="0.7"/><circle cx="437.1" cy="241.5" r="0.6"/><circle cx="447.6" cy="245.4" r="0.8"/><circle cx="446.4" cy="242.4" r="1.0"/><circle cx="443.9" cy="232.0" r="0.8"/><circle cx="441.5" cy="236.5" r="0.7"/><circle cx="438.3" cy="236.0" r="0.9"/><circle cx="442.5" cy="235.7" r="0.7"/></g></g>
<g fill="#7ae8e8" filter="url(#bl04)"><g fill-opacity="0.20"><circle cx="451.6" cy="271.4" r="0.9"/><circle cx="443.4" cy="273.0" r="0.8"/><circle cx="452.9" cy="277.2" r="0.6"/><circle cx="443.0" cy="279.8" r="1.1"/><circle cx="444.3" cy="271.9" r="0.9"/><circle cx="440.7" cy="278.3" r="0.9"/><circle cx="443.4" cy="271.0" r="1.0"/><circle cx="443.4" cy="271.1" r="1.0"/><circle cx="445.8" cy="280.1" r="0.9"/></g><g fill-opacity="0.30"><circle cx="441.8" cy="280.5" r="0.9"/><circle cx="446.0" cy="270.9" r="0.7"/><circle cx="450.3" cy="271.6" r="0.7"/><circle cx="450.7" cy="276.2" r="0.6"/><circle cx="441.6" cy="276.6" r="0.6"/><circle cx="441.9" cy="274.0" r="0.7"/><circle cx="449.9" cy="268.8" r="0.6"/></g><g fill-opacity="0.40"><circle cx="446.1" cy="269.8" r="1.0"/><circle cx="444.1" cy="270.6" r="1.0"/><circle cx="441.8" cy="273.9" r="0.8"/><circle cx="449.3" cy="268.0" r="0.6"/><circle cx="453.8" cy="275.7" r="0.9"/><circle cx="442.3" cy="273.7" r="0.7"/><circle cx="439.4" cy="276.9" r="0.7"/><circle cx="442.9" cy="269.7" r="0.7"/><circle cx="448.7" cy="281.7" r="0.9"/><circle cx="450.0" cy="280.5" r="0.8"/><circle cx="450.5" cy="272.6" r="0.7"/><circle cx="446.8" cy="271.5" r="0.9"/><circle cx="451.8" cy="274.5" r="1.1"/><circle cx="453.4" cy="275.8" r="0.6"/><circle cx="444.9" cy="269.4" r="0.8"/></g><g fill-opacity="0.50"><circle cx="447.7" cy="281.1" r="0.7"/><circle cx="451.2" cy="273.3" r="1.0"/><circle cx="439.4" cy="276.4" r="1.0"/><circle cx="447.0" cy="278.7" r="0.9"/><circle cx="439.5" cy="274.0" r="0.8"/><circle cx="448.6" cy="281.7" r="0.5"/><circle cx="445.2" cy="268.1" r="0.9"/><circle cx="454.0" cy="273.7" r="0.7"/><circle cx="445.2" cy="280.9" r="0.5"/><circle cx="452.6" cy="276.2" r="0.9"/><circle cx="442.2" cy="280.7" r="1.1"/><circle cx="442.8" cy="273.0" r="0.7"/><circle cx="444.6" cy="279.1" r="0.5"/><circle cx="441.7" cy="272.2" r="0.9"/><circle cx="443.6" cy="269.8" r="0.9"/><circle cx="440.7" cy="278.9" r="1.0"/><circle cx="453.1" cy="276.3" r="1.1"/><circle cx="439.5" cy="272.8" r="0.8"/><circle cx="440.3" cy="279.1" r="0.8"/></g></g>
<g fill="#1a5a5a" filter="url(#bl04)"><g fill-opacity="0.18"><circle cx="444.2" cy="192.5" r="0.7"/><circle cx="445.4" cy="190.6" r="0.5"/><circle cx="440.8" cy="192.3" r="0.5"/><circle cx="434.1" cy="202.9" r="0.6"/><circle cx="454.9" cy="196.9" r="0.8"/><circle cx="446.6" cy="191.1" r="0.8"/><circle cx="436.7" cy="208.7" r="0.6"/><circle cx="456.6" cy="201.5" r="0.6"/><circle cx="458.8" cy="202.4" r="0.5"/><circle cx="437.1" cy="213.9" r="0.6"/><circle cx="452.0" cy="213.7" r="0.7"/><circle cx="458.2" cy="206.6" r="0.6"/><circle cx="436.2" cy="195.2" r="0.7"/><circle cx="438.2" cy="197.2" r="0.6"/></g><g fill-opacity="0.24"><circle cx="450.1" cy="192.9" r="0.8"/><circle cx="438.5" cy="192.8" r="0.6"/><circle cx="433.9" cy="208.9" r="0.7"/><circle cx="434.6" cy="199.0" r="0.7"/><circle cx="459.0" cy="204.4" r="0.5"/><circle cx="452.4" cy="213.3" r="0.5"/><circle cx="447.2" cy="190.7" r="0.5"/><circle cx="436.4" cy="210.3" r="0.6"/><circle cx="451.1" cy="191.2" r="0.5"/><circle cx="441.7" cy="192.4" r="0.5"/><circle cx="448.7" cy="217.4" r="0.8"/><circle cx="450.2" cy="215.3" r="0.6"/><circle cx="436.8" cy="197.4" r="0.7"/><circle cx="453.9" cy="212.0" r="0.5"/><circle cx="435.6" cy="203.6" r="0.7"/></g><g fill-opacity="0.31"><circle cx="457.0" cy="197.7" r="0.4"/><circle cx="443.2" cy="190.5" r="0.5"/><circle cx="457.1" cy="198.2" r="0.7"/><circle cx="447.6" cy="191.6" r="0.8"/><circle cx="438.8" cy="195.6" r="0.7"/><circle cx="458.0" cy="209.0" r="0.6"/><circle cx="436.8" cy="213.3" r="0.7"/><circle cx="449.7" cy="193.1" r="0.5"/><circle cx="437.9" cy="210.0" r="0.6"/><circle cx="438.7" cy="212.6" r="0.8"/><circle cx="455.6" cy="197.4" r="0.8"/><circle cx="458.2" cy="205.2" r="0.7"/><circle cx="443.7" cy="192.8" r="0.8"/><circle cx="445.1" cy="192.2" r="0.6"/><circle cx="442.2" cy="193.1" r="0.5"/><circle cx="448.5" cy="190.4" r="0.6"/><circle cx="441.7" cy="194.2" r="0.7"/></g><g fill-opacity="0.37"><circle cx="455.7" cy="199.9" r="0.7"/><circle cx="436.4" cy="195.1" r="0.5"/><circle cx="455.8" cy="209.5" r="0.6"/><circle cx="436.0" cy="202.0" r="0.6"/><circle cx="440.7" cy="193.0" r="0.7"/><circle cx="454.3" cy="212.5" r="0.4"/><circle cx="439.7" cy="195.5" r="0.4"/><circle cx="455.6" cy="208.2" r="0.6"/><circle cx="435.6" cy="207.1" r="0.6"/><circle cx="452.4" cy="195.9" r="0.7"/><circle cx="451.0" cy="193.3" r="0.7"/><circle cx="436.3" cy="203.6" r="0.7"/><circle cx="455.7" cy="199.5" r="0.4"/><circle cx="443.2" cy="217.0" r="0.5"/></g></g>
<g filter="url(#texS)">
<ellipse cx="477.4" cy="202.8" rx="9.2" ry="11" fill="#3a3a3a"/>
<ellipse cx="475.5" cy="240.0" rx="8.2" ry="8.6" fill="#5e5e5e"/>
<ellipse cx="477.8" cy="275.0" rx="9.0" ry="8.2" fill="#606060"/>
</g>
<circle cx="478.30" cy="274.60" r="3.6" fill="#262626" stroke="none" stroke-width="0" filter="url(#bl1)"/>
<g fill="#222" filter="url(#bl04)"><g fill-opacity="0.15"><circle cx="485.4" cy="202.5" r="1.1"/><circle cx="478.0" cy="202.1" r="0.7"/><circle cx="482.4" cy="198.9" r="1.2"/><circle cx="473.6" cy="199.7" r="1.0"/><circle cx="475.0" cy="201.6" r="0.8"/><circle cx="474.6" cy="202.2" r="0.8"/><circle cx="477.5" cy="203.1" r="1.2"/><circle cx="482.6" cy="198.4" r="1.3"/><circle cx="471.8" cy="202.6" r="0.8"/><circle cx="469.2" cy="201.7" r="1.2"/><circle cx="475.1" cy="198.9" r="0.8"/><circle cx="474.5" cy="197.0" r="0.8"/><circle cx="474.3" cy="206.5" r="1.0"/><circle cx="479.0" cy="202.0" r="1.1"/><circle cx="481.2" cy="209.8" r="1.0"/><circle cx="476.1" cy="199.2" r="1.0"/><circle cx="482.5" cy="207.0" r="1.0"/><circle cx="482.1" cy="197.6" r="1.1"/><circle cx="473.6" cy="210.5" r="0.9"/><circle cx="480.1" cy="196.3" r="1.3"/><circle cx="473.0" cy="206.1" r="0.8"/><circle cx="479.9" cy="212.6" r="0.8"/><circle cx="474.9" cy="198.8" r="0.9"/><circle cx="470.8" cy="204.8" r="1.4"/><circle cx="470.9" cy="196.4" r="0.9"/><circle cx="474.3" cy="207.3" r="0.9"/><circle cx="478.0" cy="199.0" r="0.7"/><circle cx="476.9" cy="195.4" r="0.8"/><circle cx="468.9" cy="203.4" r="1.0"/><circle cx="474.6" cy="209.5" r="1.0"/><circle cx="469.8" cy="207.1" r="0.7"/><circle cx="475.8" cy="199.5" r="1.0"/><circle cx="478.9" cy="209.2" r="1.2"/><circle cx="474.9" cy="200.7" r="1.2"/><circle cx="478.8" cy="195.6" r="1.1"/><circle cx="474.2" cy="209.5" r="0.9"/><circle cx="480.1" cy="195.4" r="1.1"/></g><g fill-opacity="0.25"><circle cx="483.5" cy="205.9" r="1.3"/><circle cx="478.3" cy="192.5" r="0.8"/><circle cx="473.5" cy="197.6" r="0.9"/><circle cx="479.7" cy="205.4" r="0.9"/><circle cx="474.6" cy="209.2" r="0.7"/><circle cx="478.4" cy="207.7" r="0.9"/><circle cx="473.5" cy="206.0" r="1.3"/><circle cx="480.0" cy="200.4" r="1.4"/><circle cx="476.2" cy="201.4" r="1.1"/><circle cx="472.4" cy="199.1" r="0.8"/><circle cx="479.3" cy="212.7" r="0.9"/><circle cx="477.6" cy="201.7" r="0.9"/><circle cx="470.8" cy="203.9" r="1.4"/><circle cx="479.7" cy="197.9" r="1.3"/><circle cx="471.4" cy="206.9" r="1.1"/><circle cx="478.9" cy="202.5" r="1.2"/><circle cx="478.1" cy="201.3" r="0.9"/><circle cx="472.0" cy="210.4" r="1.1"/><circle cx="472.7" cy="203.9" r="1.0"/><circle cx="469.1" cy="202.9" r="0.8"/><circle cx="481.0" cy="197.2" r="1.1"/><circle cx="481.9" cy="199.9" r="1.4"/><circle cx="480.9" cy="204.1" r="1.3"/><circle cx="479.7" cy="209.9" r="0.9"/><circle cx="473.2" cy="195.8" r="1.1"/><circle cx="474.1" cy="204.8" r="1.2"/></g><g fill-opacity="0.35"><circle cx="468.9" cy="203.8" r="1.1"/><circle cx="474.8" cy="203.9" r="1.0"/><circle cx="475.9" cy="195.5" r="1.3"/><circle cx="473.8" cy="204.3" r="1.2"/><circle cx="475.4" cy="210.1" r="1.3"/><circle cx="475.7" cy="206.4" r="1.2"/><circle cx="470.6" cy="207.5" r="1.0"/><circle cx="475.9" cy="195.1" r="1.1"/><circle cx="474.4" cy="207.2" r="0.9"/><circle cx="478.0" cy="200.3" r="1.1"/><circle cx="484.0" cy="209.1" r="1.0"/><circle cx="473.2" cy="199.6" r="1.0"/><circle cx="485.1" cy="198.1" r="1.3"/><circle cx="481.8" cy="201.5" r="1.2"/><circle cx="481.4" cy="206.0" r="0.9"/><circle cx="474.4" cy="200.0" r="0.9"/><circle cx="477.9" cy="201.3" r="0.9"/><circle cx="477.6" cy="193.2" r="1.0"/><circle cx="480.4" cy="198.9" r="1.0"/><circle cx="482.5" cy="195.8" r="1.2"/><circle cx="474.7" cy="203.8" r="1.2"/><circle cx="475.4" cy="197.5" r="1.3"/><circle cx="477.7" cy="207.4" r="0.8"/><circle cx="484.4" cy="200.3" r="0.8"/><circle cx="482.4" cy="211.4" r="0.8"/><circle cx="470.6" cy="205.0" r="0.7"/></g><g fill-opacity="0.45"><circle cx="473.9" cy="198.1" r="1.1"/><circle cx="471.0" cy="197.4" r="1.1"/><circle cx="478.1" cy="208.7" r="1.1"/><circle cx="472.7" cy="198.9" r="1.1"/><circle cx="469.3" cy="200.8" r="0.8"/><circle cx="475.1" cy="209.7" r="0.9"/><circle cx="481.8" cy="201.4" r="1.0"/><circle cx="481.4" cy="204.8" r="1.2"/><circle cx="477.8" cy="207.3" r="1.3"/><circle cx="485.0" cy="207.5" r="1.3"/><circle cx="478.0" cy="203.3" r="1.2"/><circle cx="478.5" cy="207.9" r="1.0"/><circle cx="477.0" cy="209.0" r="0.9"/><circle cx="480.8" cy="207.6" r="0.8"/><circle cx="482.7" cy="197.4" r="1.1"/><circle cx="482.5" cy="197.4" r="1.2"/><circle cx="484.0" cy="196.0" r="0.8"/><circle cx="476.2" cy="209.0" r="0.9"/><circle cx="482.8" cy="202.8" r="0.9"/><circle cx="472.1" cy="205.2" r="0.8"/><circle cx="473.9" cy="205.1" r="1.3"/><circle cx="479.8" cy="194.2" r="1.1"/><circle cx="485.6" cy="205.7" r="1.1"/><circle cx="472.4" cy="203.2" r="0.8"/><circle cx="475.5" cy="198.9" r="1.1"/><circle cx="475.3" cy="194.7" r="1.1"/><circle cx="470.6" cy="207.8" r="1.2"/><circle cx="482.3" cy="203.8" r="1.0"/><circle cx="478.7" cy="204.3" r="1.4"/><circle cx="475.3" cy="200.9" r="1.0"/><circle cx="480.3" cy="206.9" r="0.7"/></g></g>
<g fill="#333" filter="url(#bl04)"><g fill-opacity="0.14"><circle cx="470.7" cy="236.9" r="1.1"/><circle cx="473.4" cy="244.9" r="1.1"/><circle cx="481.8" cy="244.9" r="0.9"/><circle cx="476.0" cy="238.0" r="1.0"/><circle cx="480.6" cy="242.6" r="1.0"/><circle cx="480.5" cy="238.4" r="0.8"/><circle cx="470.6" cy="241.3" r="1.1"/><circle cx="474.7" cy="242.3" r="0.9"/><circle cx="480.0" cy="246.9" r="1.1"/><circle cx="470.3" cy="236.4" r="0.8"/><circle cx="468.6" cy="240.6" r="0.9"/><circle cx="478.6" cy="235.7" r="1.1"/><circle cx="480.9" cy="237.0" r="1.3"/><circle cx="469.5" cy="241.2" r="1.2"/><circle cx="481.4" cy="242.7" r="1.2"/><circle cx="475.6" cy="246.4" r="1.3"/><circle cx="479.1" cy="235.4" r="1.0"/><circle cx="469.5" cy="240.7" r="0.9"/></g><g fill-opacity="0.21"><circle cx="475.6" cy="243.4" r="1.0"/><circle cx="472.0" cy="235.2" r="1.3"/><circle cx="475.5" cy="245.3" r="0.8"/><circle cx="479.6" cy="243.3" r="0.8"/><circle cx="473.8" cy="242.5" r="0.8"/><circle cx="469.6" cy="241.7" r="0.8"/><circle cx="474.1" cy="232.2" r="1.1"/><circle cx="475.2" cy="244.7" r="1.1"/><circle cx="478.2" cy="243.2" r="0.9"/><circle cx="474.2" cy="236.7" r="1.2"/><circle cx="473.7" cy="246.3" r="0.8"/><circle cx="473.8" cy="245.0" r="1.1"/><circle cx="480.3" cy="240.1" r="1.4"/><circle cx="478.0" cy="232.1" r="0.7"/><circle cx="476.2" cy="232.2" r="1.2"/><circle cx="479.2" cy="246.5" r="0.9"/><circle cx="480.2" cy="236.9" r="1.3"/><circle cx="478.4" cy="236.7" r="1.4"/><circle cx="476.8" cy="242.1" r="0.7"/><circle cx="476.3" cy="232.7" r="1.1"/><circle cx="482.0" cy="242.3" r="1.2"/><circle cx="478.8" cy="238.3" r="0.8"/><circle cx="478.8" cy="242.4" r="1.0"/><circle cx="479.0" cy="238.7" r="1.3"/><circle cx="476.7" cy="232.4" r="0.7"/></g><g fill-opacity="0.29"><circle cx="478.4" cy="245.1" r="0.8"/><circle cx="476.3" cy="245.6" r="1.1"/><circle cx="472.8" cy="232.5" r="1.1"/><circle cx="479.8" cy="242.4" r="1.4"/><circle cx="473.4" cy="235.6" r="0.8"/><circle cx="476.9" cy="240.0" r="1.1"/><circle cx="478.1" cy="235.0" r="1.4"/><circle cx="470.9" cy="233.6" r="1.0"/><circle cx="476.2" cy="239.4" r="0.9"/><circle cx="476.5" cy="240.7" r="1.2"/><circle cx="474.7" cy="243.3" r="0.9"/><circle cx="477.1" cy="233.0" r="1.0"/><circle cx="474.8" cy="235.7" r="1.2"/><circle cx="473.8" cy="245.6" r="0.8"/><circle cx="471.9" cy="244.0" r="1.2"/><circle cx="478.5" cy="241.2" r="1.2"/><circle cx="483.3" cy="240.1" r="1.1"/><circle cx="481.1" cy="234.3" r="0.8"/><circle cx="468.3" cy="236.6" r="0.7"/><circle cx="468.3" cy="242.4" r="1.2"/></g><g fill-opacity="0.36"><circle cx="476.6" cy="243.0" r="1.2"/><circle cx="479.9" cy="236.6" r="1.1"/><circle cx="479.5" cy="233.4" r="1.3"/><circle cx="476.9" cy="239.4" r="1.0"/><circle cx="475.5" cy="242.3" r="0.8"/><circle cx="478.4" cy="246.8" r="1.2"/><circle cx="471.8" cy="247.3" r="0.8"/><circle cx="478.8" cy="241.4" r="1.3"/><circle cx="477.2" cy="242.9" r="1.3"/><circle cx="468.3" cy="241.6" r="0.8"/><circle cx="473.8" cy="243.4" r="1.2"/><circle cx="473.4" cy="239.2" r="0.8"/><circle cx="478.8" cy="243.3" r="1.0"/><circle cx="472.0" cy="233.9" r="1.0"/><circle cx="471.6" cy="235.2" r="1.2"/><circle cx="480.4" cy="239.0" r="1.3"/><circle cx="481.6" cy="236.5" r="1.0"/></g></g>
<g fill="#333" filter="url(#bl04)"><g fill-opacity="0.14"><circle cx="473.7" cy="281.6" r="0.9"/><circle cx="483.7" cy="278.8" r="0.9"/><circle cx="479.8" cy="278.4" r="0.9"/><circle cx="482.9" cy="278.5" r="1.3"/><circle cx="478.9" cy="282.1" r="1.3"/><circle cx="472.2" cy="274.2" r="0.8"/><circle cx="476.8" cy="275.1" r="1.3"/><circle cx="475.4" cy="274.1" r="0.7"/><circle cx="474.1" cy="278.0" r="1.0"/><circle cx="477.9" cy="271.2" r="1.4"/><circle cx="476.7" cy="270.8" r="1.1"/><circle cx="483.2" cy="277.5" r="1.2"/><circle cx="482.2" cy="270.1" r="1.1"/><circle cx="476.0" cy="279.0" r="1.2"/><circle cx="480.2" cy="278.7" r="1.4"/><circle cx="482.6" cy="272.1" r="1.2"/><circle cx="478.5" cy="278.5" r="1.0"/><circle cx="482.2" cy="278.6" r="0.7"/><circle cx="482.0" cy="280.7" r="1.0"/><circle cx="484.6" cy="273.2" r="1.2"/><circle cx="479.1" cy="278.5" r="1.2"/></g><g fill-opacity="0.21"><circle cx="475.1" cy="280.9" r="1.2"/><circle cx="470.8" cy="276.6" r="1.2"/><circle cx="485.3" cy="276.5" r="0.9"/><circle cx="479.0" cy="280.4" r="0.8"/><circle cx="473.9" cy="274.3" r="0.8"/><circle cx="472.5" cy="276.7" r="1.2"/><circle cx="480.6" cy="270.2" r="1.1"/><circle cx="470.0" cy="271.6" r="0.9"/><circle cx="481.6" cy="274.4" r="1.2"/><circle cx="479.2" cy="274.9" r="1.0"/><circle cx="472.7" cy="279.9" r="1.2"/><circle cx="479.5" cy="277.2" r="1.3"/></g><g fill-opacity="0.29"><circle cx="478.5" cy="277.0" r="1.2"/><circle cx="482.7" cy="273.4" r="1.2"/><circle cx="482.1" cy="281.9" r="1.3"/><circle cx="483.9" cy="278.9" r="1.2"/><circle cx="469.4" cy="277.3" r="0.8"/><circle cx="477.5" cy="271.1" r="1.2"/><circle cx="479.5" cy="278.7" r="1.0"/><circle cx="482.2" cy="276.3" r="1.4"/><circle cx="484.3" cy="276.7" r="0.9"/><circle cx="483.5" cy="271.6" r="0.8"/><circle cx="474.4" cy="270.0" r="1.2"/><circle cx="485.9" cy="273.2" r="1.1"/><circle cx="481.6" cy="273.8" r="1.1"/><circle cx="475.6" cy="269.8" r="1.4"/><circle cx="481.9" cy="269.7" r="1.0"/><circle cx="478.9" cy="281.5" r="1.1"/><circle cx="479.5" cy="280.8" r="1.3"/><circle cx="469.6" cy="272.8" r="1.2"/><circle cx="480.5" cy="279.8" r="0.8"/><circle cx="474.4" cy="280.7" r="1.3"/><circle cx="474.3" cy="282.1" r="1.0"/><circle cx="475.4" cy="267.6" r="1.3"/><circle cx="482.6" cy="278.0" r="1.2"/></g><g fill-opacity="0.36"><circle cx="476.7" cy="268.8" r="1.4"/><circle cx="484.8" cy="273.6" r="0.8"/><circle cx="480.3" cy="271.9" r="1.1"/><circle cx="469.2" cy="275.0" r="1.3"/><circle cx="475.2" cy="272.3" r="0.8"/><circle cx="483.2" cy="279.6" r="0.9"/><circle cx="482.0" cy="268.9" r="1.1"/><circle cx="474.2" cy="268.2" r="0.9"/><circle cx="481.0" cy="270.5" r="0.8"/><circle cx="476.7" cy="267.4" r="1.0"/><circle cx="484.9" cy="272.0" r="0.9"/><circle cx="484.4" cy="279.3" r="0.8"/><circle cx="474.7" cy="278.6" r="0.8"/><circle cx="478.7" cy="276.7" r="1.2"/><circle cx="482.9" cy="275.2" r="1.2"/><circle cx="473.3" cy="279.0" r="1.2"/><circle cx="477.6" cy="276.0" r="1.0"/><circle cx="483.6" cy="273.3" r="1.0"/><circle cx="476.4" cy="268.1" r="0.7"/><circle cx="477.0" cy="273.0" r="0.9"/><circle cx="481.9" cy="278.6" r="1.2"/><circle cx="479.2" cy="274.1" r="0.9"/><circle cx="481.0" cy="279.4" r="1.1"/><circle cx="472.6" cy="273.2" r="1.1"/></g></g>
<circle cx="474.00" cy="240.20" r="3.0" fill="#2a2a2a" stroke="none" stroke-width="0" filter="url(#bl1)"/>
<circle cx="472.50" cy="249.40" r="0.9" fill="#111" stroke="none" stroke-width="0"/>
<path d="M512.66 210.33L511.69 210.65L510.69 210.79L509.68 210.75L508.69 210.53L507.74 210.14L506.85 209.58L506.05 208.86L505.34 208.01L504.76 207.05L504.30 205.98L503.99 204.85L503.83 203.68L503.81 202.49L503.96 201.31L504.25 200.17L504.68 199.10L505.25 198.12L505.94 197.25L506.73 196.51L507.61 195.93L508.55 195.51L509.54 195.27L510.54 195.20L511.55 195.32L512.52 195.61L513.45 196.08L514.30 196.71L515.07 197.48L515.72 198.39L516.25 199.40L516.65 200.49L516.90 201.65L517.00 202.83L516.94 204.02L516.74 205.18L516.38 206.30" stroke="#4cc6ca" stroke-width="5.0" fill="none" stroke-linecap="round" stroke-linejoin="round" filter="url(#texC)" opacity="0.88"/>
<path d="M510.10 235.47L510.74 235.91L511.30 236.44L511.78 237.05L512.15 237.73L512.42 238.46L512.57 239.22L512.60 239.99L512.51 240.76L512.30 241.51L511.98 242.22L511.55 242.86L511.03 243.44L510.43 243.92L509.76 244.31L509.03 244.59L508.28 244.75L507.50 244.80L506.73 244.72L505.98 244.53L505.27 244.22L504.61 243.81L504.03 243.30L503.53 242.71L503.13 242.04L502.84 241.33L502.66 240.57L502.60 239.80L502.66 239.03L502.84 238.27L503.13 237.56L503.53 236.89L504.03 236.30L504.61 235.79L505.27 235.38L505.98 235.07L506.73 234.88" stroke="#4cc6ca" stroke-width="6.0" fill="none" stroke-linecap="round" stroke-linejoin="round" filter="url(#texC)" opacity="0.88"/>
<circle cx="504.30" cy="233.50" r="2.5" fill="#50c8cc" stroke="none" stroke-width="0" filter="url(#texC)" opacity="0.88"/>
<circle cx="509.40" cy="275.30" r="8.0" fill="#56c0c4" stroke="none" stroke-width="0" filter="url(#texC)" opacity="0.88"/>
<g fill="#3a28a0" filter="url(#bl05)"><g fill-opacity="0.20"><circle cx="510.3" cy="210.8" r="0.7"/><circle cx="508.2" cy="209.8" r="0.8"/><circle cx="512.1" cy="201.4" r="0.7"/><circle cx="514.2" cy="203.6" r="1.1"/><circle cx="514.8" cy="210.2" r="1.3"/><circle cx="514.1" cy="210.8" r="1.2"/><circle cx="512.9" cy="201.5" r="0.7"/><circle cx="514.1" cy="203.1" r="0.7"/><circle cx="510.1" cy="207.2" r="1.0"/><circle cx="514.6" cy="210.7" r="1.2"/><circle cx="515.3" cy="203.8" r="0.7"/><circle cx="511.1" cy="201.8" r="1.1"/><circle cx="514.8" cy="209.4" r="1.2"/><circle cx="513.4" cy="211.5" r="0.8"/><circle cx="510.7" cy="205.1" r="1.2"/><circle cx="514.8" cy="206.1" r="1.3"/><circle cx="515.4" cy="206.4" r="0.7"/><circle cx="511.3" cy="204.2" r="0.6"/><circle cx="516.0" cy="208.1" r="1.0"/><circle cx="510.0" cy="202.5" r="0.6"/><circle cx="508.2" cy="209.2" r="1.2"/><circle cx="511.7" cy="210.9" r="0.7"/><circle cx="506.8" cy="207.5" r="1.0"/></g><g fill-opacity="0.30"><circle cx="510.6" cy="210.8" r="1.0"/><circle cx="508.8" cy="209.3" r="0.7"/><circle cx="507.9" cy="201.9" r="0.8"/><circle cx="508.7" cy="204.9" r="1.1"/><circle cx="514.0" cy="206.3" r="1.0"/><circle cx="511.4" cy="203.3" r="0.8"/><circle cx="514.0" cy="209.4" r="1.0"/><circle cx="515.1" cy="205.4" r="0.6"/><circle cx="514.5" cy="209.6" r="0.9"/><circle cx="514.5" cy="205.3" r="0.6"/><circle cx="516.3" cy="207.4" r="0.7"/><circle cx="507.8" cy="205.7" r="1.1"/><circle cx="513.0" cy="209.1" r="0.8"/><circle cx="509.0" cy="205.3" r="0.8"/><circle cx="510.5" cy="212.0" r="1.1"/><circle cx="510.9" cy="208.8" r="1.0"/></g><g fill-opacity="0.40"><circle cx="513.9" cy="206.5" r="0.7"/><circle cx="510.0" cy="205.4" r="1.1"/><circle cx="511.8" cy="207.8" r="0.7"/><circle cx="507.9" cy="210.5" r="0.7"/><circle cx="515.0" cy="204.2" r="0.8"/><circle cx="509.0" cy="202.2" r="1.0"/><circle cx="513.3" cy="205.2" r="0.7"/><circle cx="508.1" cy="208.7" r="1.1"/><circle cx="510.1" cy="210.7" r="0.9"/><circle cx="511.2" cy="205.4" r="0.6"/><circle cx="508.7" cy="201.4" r="0.7"/><circle cx="513.8" cy="204.7" r="0.9"/><circle cx="511.1" cy="208.6" r="1.0"/><circle cx="508.9" cy="211.2" r="1.0"/><circle cx="505.9" cy="205.3" r="0.7"/><circle cx="509.3" cy="202.5" r="0.9"/><circle cx="511.3" cy="202.4" r="1.2"/><circle cx="515.5" cy="205.7" r="0.9"/><circle cx="509.5" cy="204.2" r="1.3"/><circle cx="511.2" cy="209.0" r="0.9"/><circle cx="512.6" cy="201.4" r="0.7"/><circle cx="509.7" cy="211.1" r="1.2"/><circle cx="511.2" cy="205.2" r="0.9"/><circle cx="515.1" cy="203.4" r="0.7"/><circle cx="508.9" cy="207.5" r="0.8"/><circle cx="515.0" cy="210.3" r="1.0"/></g><g fill-opacity="0.50"><circle cx="508.1" cy="209.6" r="1.3"/><circle cx="510.1" cy="204.8" r="1.2"/><circle cx="506.9" cy="210.0" r="1.2"/><circle cx="505.7" cy="204.6" r="1.0"/><circle cx="510.9" cy="207.6" r="0.8"/><circle cx="506.0" cy="205.6" r="0.8"/><circle cx="514.4" cy="208.5" r="1.1"/><circle cx="511.5" cy="206.9" r="0.7"/><circle cx="512.8" cy="206.3" r="0.9"/><circle cx="510.2" cy="209.5" r="1.2"/><circle cx="513.4" cy="209.7" r="0.8"/><circle cx="510.4" cy="211.2" r="0.8"/><circle cx="510.3" cy="206.2" r="0.8"/><circle cx="510.9" cy="204.2" r="0.6"/><circle cx="510.6" cy="207.7" r="1.2"/><circle cx="508.5" cy="208.3" r="1.2"/><circle cx="514.0" cy="208.1" r="1.1"/><circle cx="509.5" cy="203.1" r="0.8"/><circle cx="509.6" cy="205.0" r="1.2"/><circle cx="509.6" cy="210.7" r="0.9"/><circle cx="509.9" cy="211.2" r="1.1"/><circle cx="513.9" cy="203.2" r="1.2"/><circle cx="506.3" cy="206.1" r="0.8"/><circle cx="507.3" cy="208.3" r="1.1"/><circle cx="512.3" cy="206.9" r="1.1"/></g></g>
<g fill="#9028a8" filter="url(#bl04)"><g fill-opacity="0.36"><circle cx="511.8" cy="207.2" r="0.9"/><circle cx="510.0" cy="206.1" r="1.1"/><circle cx="512.9" cy="205.8" r="0.9"/><circle cx="513.0" cy="205.9" r="0.9"/><circle cx="510.5" cy="208.7" r="0.9"/><circle cx="513.5" cy="206.0" r="0.9"/><circle cx="507.4" cy="204.4" r="1.2"/><circle cx="512.7" cy="206.9" r="0.8"/><circle cx="509.5" cy="205.4" r="1.2"/><circle cx="508.9" cy="205.3" r="0.8"/></g><g fill-opacity="0.49"><circle cx="507.7" cy="208.2" r="1.0"/><circle cx="510.9" cy="206.8" r="0.7"/><circle cx="513.1" cy="204.0" r="0.9"/><circle cx="509.4" cy="205.9" r="0.7"/><circle cx="511.1" cy="208.3" r="0.9"/></g><g fill-opacity="0.61"><circle cx="508.0" cy="204.2" r="0.8"/><circle cx="512.1" cy="208.8" r="1.0"/><circle cx="512.4" cy="206.3" r="0.9"/><circle cx="509.9" cy="205.2" r="1.0"/><circle cx="508.7" cy="205.1" r="0.9"/><circle cx="507.9" cy="204.5" r="0.7"/><circle cx="509.4" cy="206.5" r="0.9"/><circle cx="512.5" cy="204.9" r="0.9"/><circle cx="508.7" cy="205.4" r="0.6"/><circle cx="509.7" cy="204.3" r="0.7"/><circle cx="511.2" cy="204.4" r="0.9"/><circle cx="509.8" cy="204.9" r="0.9"/><circle cx="512.4" cy="205.1" r="1.1"/><circle cx="510.7" cy="209.6" r="1.2"/></g><g fill-opacity="0.74"><circle cx="508.1" cy="204.7" r="1.2"/><circle cx="511.4" cy="203.5" r="1.0"/><circle cx="509.1" cy="205.4" r="0.8"/><circle cx="508.5" cy="203.3" r="0.6"/><circle cx="510.2" cy="208.5" r="1.0"/><circle cx="506.9" cy="204.8" r="1.0"/><circle cx="508.7" cy="208.5" r="0.8"/><circle cx="508.4" cy="206.2" r="1.1"/><circle cx="513.9" cy="205.4" r="0.9"/><circle cx="512.7" cy="204.0" r="0.9"/><circle cx="508.6" cy="202.7" r="1.1"/></g></g>
<g fill="#e0306a" filter="url(#bl04)"><g fill-opacity="0.55"><circle cx="511.2" cy="204.7" r="0.9"/><circle cx="511.7" cy="207.4" r="0.7"/><circle cx="511.7" cy="207.1" r="0.9"/><circle cx="511.8" cy="204.9" r="1.0"/><circle cx="511.3" cy="207.3" r="0.8"/><circle cx="509.5" cy="208.2" r="0.8"/></g><g fill-opacity="0.65"><circle cx="508.7" cy="206.3" r="0.9"/><circle cx="509.5" cy="208.0" r="1.0"/><circle cx="509.6" cy="204.4" r="0.9"/><circle cx="510.1" cy="204.5" r="0.9"/><circle cx="511.8" cy="206.6" r="0.6"/><circle cx="510.8" cy="205.4" r="0.9"/><circle cx="511.2" cy="205.8" r="0.8"/><circle cx="510.0" cy="204.9" r="1.0"/><circle cx="511.4" cy="207.6" r="0.7"/><circle cx="509.6" cy="207.1" r="1.0"/><circle cx="512.2" cy="205.3" r="0.7"/><circle cx="509.3" cy="206.1" r="0.9"/></g><g fill-opacity="0.75"><circle cx="511.4" cy="206.5" r="1.0"/><circle cx="510.0" cy="206.4" r="1.1"/><circle cx="512.2" cy="206.7" r="0.9"/></g><g fill-opacity="0.85"><circle cx="510.9" cy="206.3" r="0.8"/><circle cx="511.7" cy="207.3" r="0.7"/><circle cx="509.9" cy="206.2" r="0.7"/><circle cx="509.4" cy="206.5" r="0.9"/><circle cx="509.0" cy="205.9" r="0.7"/><circle cx="511.6" cy="204.6" r="0.8"/></g></g>
<circle cx="510.50" cy="203.20" r="1.3" fill="#ffb040" stroke="none" stroke-width="0" filter="url(#bl05)"/>
<circle cx="510.80" cy="207.50" r="1.1" fill="#ff7a30" stroke="none" stroke-width="0" filter="url(#bl05)"/>
<g fill="#3a28a0" filter="url(#bl05)"><g fill-opacity="0.20"><circle cx="507.1" cy="243.1" r="0.7"/><circle cx="508.1" cy="241.2" r="1.0"/><circle cx="505.8" cy="242.4" r="0.8"/><circle cx="507.2" cy="242.8" r="0.8"/><circle cx="504.5" cy="243.5" r="0.6"/><circle cx="505.3" cy="244.6" r="0.9"/><circle cx="508.2" cy="240.6" r="1.1"/><circle cx="506.7" cy="241.2" r="0.9"/><circle cx="502.9" cy="240.6" r="1.1"/><circle cx="505.6" cy="238.7" r="0.9"/><circle cx="506.7" cy="239.4" r="0.7"/><circle cx="507.8" cy="243.4" r="1.3"/></g><g fill-opacity="0.30"><circle cx="504.1" cy="243.3" r="0.9"/><circle cx="504.4" cy="239.5" r="1.0"/><circle cx="508.3" cy="241.1" r="1.1"/><circle cx="504.2" cy="244.1" r="0.7"/><circle cx="507.2" cy="238.6" r="0.7"/><circle cx="504.5" cy="240.1" r="1.2"/><circle cx="505.6" cy="243.6" r="0.8"/><circle cx="505.0" cy="244.1" r="0.9"/><circle cx="507.9" cy="239.3" r="1.3"/><circle cx="504.5" cy="242.8" r="1.2"/><circle cx="504.3" cy="242.6" r="0.9"/><circle cx="504.8" cy="239.0" r="0.7"/><circle cx="508.6" cy="243.0" r="1.2"/></g><g fill-opacity="0.40"><circle cx="507.5" cy="242.7" r="1.2"/><circle cx="507.0" cy="239.9" r="1.2"/><circle cx="507.4" cy="240.6" r="1.0"/><circle cx="509.1" cy="242.9" r="0.6"/><circle cx="504.8" cy="239.9" r="0.9"/><circle cx="503.1" cy="240.9" r="0.7"/><circle cx="508.5" cy="239.5" r="0.6"/><circle cx="508.0" cy="242.3" r="1.2"/><circle cx="505.1" cy="244.1" r="1.2"/><circle cx="506.9" cy="238.9" r="0.9"/><circle cx="508.0" cy="238.9" r="1.3"/><circle cx="504.6" cy="242.4" r="0.9"/><circle cx="506.2" cy="241.1" r="1.1"/><circle cx="506.5" cy="241.4" r="1.1"/><circle cx="506.7" cy="238.6" r="1.1"/></g><g fill-opacity="0.50"><circle cx="504.4" cy="240.9" r="0.8"/><circle cx="505.1" cy="240.3" r="0.9"/><circle cx="506.1" cy="241.5" r="1.3"/><circle cx="505.9" cy="239.7" r="1.1"/><circle cx="507.5" cy="242.9" r="1.1"/><circle cx="504.7" cy="239.2" r="0.7"/><circle cx="509.4" cy="241.2" r="0.9"/><circle cx="505.2" cy="244.5" r="0.8"/><circle cx="505.5" cy="239.1" r="0.8"/><circle cx="507.4" cy="240.0" r="1.1"/><circle cx="504.7" cy="243.6" r="0.9"/><circle cx="504.3" cy="240.7" r="0.8"/><circle cx="503.6" cy="240.4" r="0.7"/><circle cx="504.8" cy="242.6" r="1.1"/><circle cx="505.7" cy="240.0" r="1.3"/><circle cx="505.6" cy="240.6" r="1.0"/></g></g>
<g fill="#9028a8" filter="url(#bl04)"><g fill-opacity="0.36"><circle cx="504.3" cy="240.4" r="1.1"/><circle cx="505.1" cy="240.6" r="0.8"/><circle cx="503.4" cy="241.0" r="0.9"/><circle cx="507.2" cy="242.2" r="0.7"/><circle cx="505.3" cy="238.9" r="1.0"/><circle cx="504.7" cy="241.7" r="1.0"/></g><g fill-opacity="0.49"><circle cx="506.6" cy="242.1" r="1.1"/><circle cx="505.4" cy="241.1" r="1.2"/><circle cx="504.9" cy="239.2" r="0.6"/><circle cx="504.0" cy="242.0" r="1.0"/><circle cx="507.6" cy="239.7" r="1.1"/><circle cx="507.8" cy="240.8" r="1.0"/><circle cx="507.7" cy="241.7" r="0.7"/></g><g fill-opacity="0.61"><circle cx="505.8" cy="242.8" r="1.0"/><circle cx="506.3" cy="240.9" r="1.1"/><circle cx="507.3" cy="241.4" r="0.8"/><circle cx="505.8" cy="239.1" r="1.1"/><circle cx="507.8" cy="240.2" r="0.6"/><circle cx="503.7" cy="241.7" r="0.9"/><circle cx="506.0" cy="241.7" r="1.0"/></g><g fill-opacity="0.74"><circle cx="505.1" cy="240.0" r="0.7"/><circle cx="504.5" cy="240.6" r="0.6"/><circle cx="504.8" cy="241.1" r="1.2"/><circle cx="504.0" cy="240.5" r="0.9"/><circle cx="507.8" cy="240.0" r="1.2"/></g></g>
<g fill="#e0306a" filter="url(#bl04)"><g fill-opacity="0.55"><circle cx="506.7" cy="241.5" r="0.8"/><circle cx="504.9" cy="240.5" r="0.8"/></g><g fill-opacity="0.65"><circle cx="505.8" cy="242.2" r="0.6"/><circle cx="506.3" cy="241.4" r="1.0"/><circle cx="505.4" cy="241.0" r="0.8"/><circle cx="504.5" cy="240.1" r="0.8"/><circle cx="506.3" cy="239.5" r="1.1"/><circle cx="506.8" cy="241.1" r="0.9"/><circle cx="505.2" cy="242.0" r="0.7"/><circle cx="505.1" cy="240.7" r="1.0"/><circle cx="505.7" cy="241.0" r="0.9"/></g><g fill-opacity="0.75"><circle cx="505.0" cy="242.0" r="1.0"/><circle cx="505.0" cy="241.2" r="1.1"/><circle cx="505.0" cy="239.9" r="0.9"/><circle cx="506.1" cy="241.2" r="0.7"/></g><g fill-opacity="0.85"><circle cx="504.4" cy="240.8" r="0.7"/></g></g>
<circle cx="505.70" cy="240.40" r="0.9" fill="#ff9040" stroke="none" stroke-width="0" filter="url(#bl05)"/>
<g fill="#3a28a0" filter="url(#bl05)"><g fill-opacity="0.20"><circle cx="511.1" cy="274.1" r="0.8"/><circle cx="510.9" cy="275.8" r="1.2"/><circle cx="507.9" cy="278.8" r="0.7"/><circle cx="512.7" cy="275.0" r="1.1"/><circle cx="514.1" cy="274.4" r="0.7"/><circle cx="505.9" cy="276.0" r="1.0"/><circle cx="513.5" cy="276.0" r="1.0"/><circle cx="507.9" cy="274.8" r="1.1"/><circle cx="509.0" cy="272.4" r="1.3"/><circle cx="512.6" cy="271.0" r="0.7"/><circle cx="510.0" cy="270.5" r="0.9"/><circle cx="512.6" cy="278.3" r="0.8"/><circle cx="510.0" cy="271.2" r="1.0"/><circle cx="515.3" cy="275.1" r="0.8"/><circle cx="513.6" cy="275.4" r="0.7"/><circle cx="510.9" cy="279.6" r="0.8"/><circle cx="509.4" cy="272.0" r="1.1"/><circle cx="511.4" cy="274.8" r="0.9"/><circle cx="513.0" cy="277.7" r="1.0"/><circle cx="514.5" cy="278.3" r="0.9"/></g><g fill-opacity="0.30"><circle cx="510.7" cy="278.6" r="1.1"/><circle cx="513.5" cy="275.0" r="1.0"/><circle cx="513.5" cy="276.6" r="1.3"/><circle cx="510.9" cy="277.8" r="1.0"/><circle cx="508.4" cy="275.9" r="1.1"/><circle cx="513.0" cy="274.6" r="1.0"/><circle cx="508.6" cy="272.0" r="0.7"/><circle cx="507.8" cy="272.7" r="1.1"/><circle cx="511.2" cy="271.9" r="1.1"/><circle cx="513.4" cy="273.0" r="1.0"/><circle cx="508.9" cy="271.9" r="0.7"/><circle cx="510.4" cy="275.9" r="1.2"/><circle cx="512.2" cy="275.9" r="1.3"/><circle cx="510.7" cy="276.6" r="0.8"/><circle cx="510.7" cy="274.9" r="0.7"/><circle cx="509.9" cy="273.5" r="0.7"/><circle cx="511.2" cy="273.0" r="1.3"/><circle cx="507.2" cy="274.8" r="0.7"/><circle cx="508.4" cy="278.1" r="1.1"/><circle cx="509.0" cy="279.8" r="0.8"/><circle cx="508.6" cy="277.4" r="1.1"/><circle cx="508.0" cy="279.3" r="1.2"/></g><g fill-opacity="0.40"><circle cx="510.1" cy="271.4" r="1.1"/><circle cx="512.0" cy="273.5" r="1.0"/><circle cx="512.1" cy="274.0" r="1.0"/><circle cx="512.9" cy="271.8" r="0.7"/><circle cx="509.2" cy="279.2" r="0.8"/><circle cx="510.2" cy="271.6" r="0.8"/><circle cx="511.9" cy="273.1" r="1.0"/><circle cx="511.5" cy="273.1" r="0.7"/><circle cx="507.2" cy="277.9" r="0.9"/><circle cx="508.4" cy="273.4" r="1.0"/><circle cx="510.1" cy="279.5" r="0.9"/><circle cx="511.8" cy="273.4" r="1.1"/><circle cx="508.0" cy="277.1" r="1.2"/><circle cx="514.9" cy="275.6" r="0.8"/><circle cx="511.9" cy="271.4" r="1.3"/><circle cx="511.0" cy="272.6" r="0.8"/><circle cx="513.0" cy="274.2" r="0.6"/><circle cx="507.5" cy="278.3" r="1.0"/><circle cx="510.1" cy="275.1" r="0.8"/></g><g fill-opacity="0.50"><circle cx="510.4" cy="271.4" r="1.1"/><circle cx="508.0" cy="275.5" r="1.3"/><circle cx="510.2" cy="275.0" r="1.2"/><circle cx="509.1" cy="272.4" r="1.2"/><circle cx="511.1" cy="270.6" r="0.6"/><circle cx="510.2" cy="279.5" r="1.3"/><circle cx="508.6" cy="272.7" r="1.0"/><circle cx="511.1" cy="279.9" r="0.9"/><circle cx="510.7" cy="271.2" r="1.0"/><circle cx="513.8" cy="275.8" r="1.0"/><circle cx="507.9" cy="274.2" r="1.2"/><circle cx="508.0" cy="273.9" r="1.3"/><circle cx="506.4" cy="277.5" r="0.9"/><circle cx="510.6" cy="280.0" r="1.0"/><circle cx="511.5" cy="276.1" r="0.8"/><circle cx="509.3" cy="273.4" r="0.9"/><circle cx="510.2" cy="280.1" r="1.0"/><circle cx="506.7" cy="276.3" r="1.2"/><circle cx="514.6" cy="276.7" r="1.2"/></g></g>
<g fill="#9028a8" filter="url(#bl04)"><g fill-opacity="0.36"><circle cx="507.9" cy="274.3" r="1.2"/><circle cx="507.8" cy="274.0" r="0.8"/><circle cx="509.9" cy="272.3" r="1.1"/><circle cx="509.9" cy="278.0" r="1.1"/><circle cx="510.6" cy="276.2" r="1.0"/><circle cx="507.4" cy="276.1" r="0.7"/><circle cx="511.0" cy="273.6" r="0.8"/><circle cx="509.9" cy="273.3" r="1.1"/><circle cx="509.6" cy="275.5" r="0.8"/><circle cx="510.0" cy="276.2" r="0.9"/></g><g fill-opacity="0.49"><circle cx="511.9" cy="274.3" r="1.1"/><circle cx="512.9" cy="274.0" r="0.8"/><circle cx="509.0" cy="274.8" r="1.0"/><circle cx="511.2" cy="272.2" r="0.7"/></g><g fill-opacity="0.61"><circle cx="510.2" cy="275.6" r="1.0"/><circle cx="509.3" cy="274.6" r="0.9"/><circle cx="512.0" cy="273.7" r="0.9"/><circle cx="509.5" cy="276.2" r="1.2"/><circle cx="510.7" cy="275.2" r="1.0"/><circle cx="509.1" cy="277.3" r="1.0"/><circle cx="510.1" cy="272.6" r="0.6"/><circle cx="513.0" cy="275.3" r="0.6"/><circle cx="512.8" cy="275.7" r="0.7"/><circle cx="509.3" cy="271.5" r="1.0"/></g><g fill-opacity="0.74"><circle cx="508.4" cy="273.9" r="0.6"/><circle cx="511.2" cy="277.1" r="1.1"/><circle cx="511.2" cy="273.6" r="1.0"/><circle cx="509.6" cy="275.8" r="0.7"/><circle cx="512.7" cy="276.2" r="0.8"/><circle cx="508.4" cy="275.5" r="1.1"/><circle cx="507.1" cy="273.3" r="1.1"/><circle cx="509.9" cy="276.2" r="1.1"/><circle cx="509.2" cy="275.1" r="0.9"/><circle cx="508.6" cy="272.8" r="0.9"/><circle cx="511.2" cy="274.2" r="0.8"/><circle cx="511.8" cy="275.9" r="1.0"/></g></g>
<g fill="#e0306a" filter="url(#bl04)"><g fill-opacity="0.55"><circle cx="510.7" cy="275.9" r="0.7"/><circle cx="509.9" cy="274.6" r="0.8"/><circle cx="510.7" cy="275.7" r="1.0"/><circle cx="508.4" cy="274.5" r="0.7"/><circle cx="509.1" cy="275.4" r="1.0"/><circle cx="510.3" cy="276.2" r="0.7"/><circle cx="510.6" cy="273.3" r="0.8"/><circle cx="510.8" cy="274.0" r="0.8"/></g><g fill-opacity="0.65"><circle cx="511.3" cy="274.4" r="1.0"/><circle cx="509.4" cy="274.3" r="0.9"/><circle cx="508.6" cy="274.3" r="0.6"/></g><g fill-opacity="0.75"><circle cx="510.5" cy="274.8" r="0.7"/><circle cx="509.8" cy="273.7" r="1.0"/><circle cx="510.1" cy="276.5" r="1.1"/><circle cx="509.5" cy="276.1" r="1.0"/><circle cx="511.0" cy="274.0" r="0.6"/><circle cx="509.9" cy="273.3" r="1.1"/><circle cx="510.8" cy="273.5" r="0.7"/><circle cx="509.6" cy="276.5" r="1.0"/></g><g fill-opacity="0.85"><circle cx="511.8" cy="274.0" r="0.9"/><circle cx="508.6" cy="275.7" r="0.8"/><circle cx="509.5" cy="272.8" r="0.8"/><circle cx="508.9" cy="273.5" r="1.0"/><circle cx="508.3" cy="273.9" r="0.6"/></g></g>
<circle cx="509.60" cy="274.20" r="1.3" fill="#ff5060" stroke="none" stroke-width="0" filter="url(#bl05)"/>
<circle cx="504.20" cy="249.90" r="0.9" fill="#111" stroke="none" stroke-width="0"/>
<path d="M505.0 216.9 L507.4 212.6 L509.8 216.9 Z" stroke="none" stroke-width="1" fill="#000"/>
<path d="M511.9 217.9 L514.3 213.6 L516.7 217.9 Z" stroke="none" stroke-width="1" fill="#000"/>
<line x1="482.60" y1="219.60" x2="492.20" y2="219.60" stroke="#fff" stroke-width="0.9"/>
<line x1="483.00" y1="219.60" x2="483.00" y2="220.90" stroke="#fff" stroke-width="0.6"/>
<line x1="491.80" y1="219.60" x2="491.80" y2="220.90" stroke="#fff" stroke-width="0.6"/>
<text x="487.40" y="223.00" font-size="3.2" text-anchor="middle" fill="#fff" color="#fff">1 µm</text>
<line x1="514.60" y1="219.60" x2="524.20" y2="219.60" stroke="#fff" stroke-width="0.9"/>
<line x1="515.00" y1="219.60" x2="515.00" y2="220.90" stroke="#fff" stroke-width="0.6"/>
<line x1="523.80" y1="219.60" x2="523.80" y2="220.90" stroke="#fff" stroke-width="0.6"/>
<text x="519.40" y="223.00" font-size="3.2" text-anchor="middle" fill="#fff" color="#fff">1 µm</text>
<line x1="482.60" y1="253.70" x2="492.20" y2="253.70" stroke="#fff" stroke-width="0.9"/>
<line x1="483.00" y1="253.70" x2="483.00" y2="255.00" stroke="#fff" stroke-width="0.6"/>
<line x1="491.80" y1="253.70" x2="491.80" y2="255.00" stroke="#fff" stroke-width="0.6"/>
<text x="487.40" y="257.10" font-size="3.2" text-anchor="middle" fill="#fff" color="#fff">1 µm</text>
<line x1="514.60" y1="253.70" x2="524.20" y2="253.70" stroke="#fff" stroke-width="0.9"/>
<line x1="515.00" y1="253.70" x2="515.00" y2="255.00" stroke="#fff" stroke-width="0.6"/>
<line x1="523.80" y1="253.70" x2="523.80" y2="255.00" stroke="#fff" stroke-width="0.6"/>
<text x="519.40" y="257.10" font-size="3.2" text-anchor="middle" fill="#fff" color="#fff">1 µm</text>
<line x1="482.60" y1="288.90" x2="492.20" y2="288.90" stroke="#fff" stroke-width="0.9"/>
<line x1="483.00" y1="288.90" x2="483.00" y2="290.20" stroke="#fff" stroke-width="0.6"/>
<line x1="491.80" y1="288.90" x2="491.80" y2="290.20" stroke="#fff" stroke-width="0.6"/>
<text x="487.40" y="292.30" font-size="3.2" text-anchor="middle" fill="#fff" color="#fff">1 µm</text>
<line x1="514.60" y1="288.90" x2="524.20" y2="288.90" stroke="#fff" stroke-width="0.9"/>
<line x1="515.00" y1="288.90" x2="515.00" y2="290.20" stroke="#fff" stroke-width="0.6"/>
<line x1="523.80" y1="288.90" x2="523.80" y2="290.20" stroke="#fff" stroke-width="0.6"/>
<text x="519.40" y="292.30" font-size="3.2" text-anchor="middle" fill="#fff" color="#fff">1 µm</text>
<rect x="530.30" y="214.40" width="5.00" height="56.60" fill="url(#cbar)" stroke="#000" stroke-width="0.6"/>
<text x="541.30" y="213.20" font-size="6.6" text-anchor="middle" fill="#000" color="#000">8,000</text>
<text x="539.80" y="279.00" font-size="6.6" text-anchor="middle" fill="#000" color="#000">80</text>
<text x="0.00" y="0.00" font-size="6.4" text-anchor="middle" fill="#000" color="#000" transform="translate(543.40,242.50) rotate(-90)">CD40L MFI</text>
<text x="0.00" y="0.00" font-size="6.4" text-anchor="middle" fill="#000" color="#000" transform="translate(550.80,240.60) rotate(-90)">(<tspan font-style="italic">arb. units</tspan>)</text>
<line x1="604.80" y1="199.20" x2="604.80" y2="280.10" stroke="#222" stroke-width="1.1"/>
<line x1="604.30" y1="279.60" x2="685.00" y2="279.60" stroke="#222" stroke-width="1.1"/>
<line x1="602.00" y1="279.60" x2="604.80" y2="279.60" stroke="#222" stroke-width="1.1"/>
<text x="598.40" y="281.80" font-size="6.3" text-anchor="end" fill="#000" color="#000">10</text>
<text x="598.60" y="279.20" font-size="4.2" text-anchor="start" fill="#000" color="#000">0</text>
<line x1="602.00" y1="263.65" x2="604.80" y2="263.65" stroke="#222" stroke-width="1.1"/>
<text x="598.40" y="265.85" font-size="6.3" text-anchor="end" fill="#000" color="#000">10</text>
<text x="598.60" y="263.25" font-size="4.2" text-anchor="start" fill="#000" color="#000">1</text>
<line x1="602.00" y1="247.70" x2="604.80" y2="247.70" stroke="#222" stroke-width="1.1"/>
<text x="598.40" y="249.90" font-size="6.3" text-anchor="end" fill="#000" color="#000">10</text>
<text x="598.60" y="247.30" font-size="4.2" text-anchor="start" fill="#000" color="#000">2</text>
<line x1="602.00" y1="231.75" x2="604.80" y2="231.75" stroke="#222" stroke-width="1.1"/>
<text x="598.40" y="233.95" font-size="6.3" text-anchor="end" fill="#000" color="#000">10</text>
<text x="598.60" y="231.35" font-size="4.2" text-anchor="start" fill="#000" color="#000">3</text>
<line x1="602.00" y1="215.80" x2="604.80" y2="215.80" stroke="#222" stroke-width="1.1"/>
<text x="598.40" y="218.00" font-size="6.3" text-anchor="end" fill="#000" color="#000">10</text>
<text x="598.60" y="215.40" font-size="4.2" text-anchor="start" fill="#000" color="#000">4</text>
<line x1="602.00" y1="199.85" x2="604.80" y2="199.85" stroke="#222" stroke-width="1.1"/>
<text x="598.40" y="202.05" font-size="6.3" text-anchor="end" fill="#000" color="#000">10</text>
<text x="598.60" y="199.45" font-size="4.2" text-anchor="start" fill="#000" color="#000">5</text>
<line x1="620.80" y1="279.60" x2="620.80" y2="282.00" stroke="#222" stroke-width="1.1"/>
<text x="0.00" y="0.00" font-size="6.6" text-anchor="end" fill="#000" color="#000" transform="translate(622.80,288.00) rotate(-45)">Clone 16</text>
<line x1="644.80" y1="279.60" x2="644.80" y2="282.00" stroke="#222" stroke-width="1.1"/>
<text x="0.00" y="0.00" font-size="6.6" text-anchor="end" fill="#000" color="#000" transform="translate(646.80,288.00) rotate(-45)">Clone 35</text>
<line x1="668.80" y1="279.60" x2="668.80" y2="282.00" stroke="#222" stroke-width="1.1"/>
<text x="0.00" y="0.00" font-size="6.6" text-anchor="end" fill="#000" color="#000" transform="translate(670.80,288.00) rotate(-45)">Clone 40</text>
<text x="0.00" y="0.00" font-size="10.6" text-anchor="middle" fill="#000" color="#000" transform="translate(567.70,239.40) rotate(-90)">CD40L</text>
<text x="0.00" y="0.00" font-size="10.4" text-anchor="middle" fill="#000" color="#000" transform="translate(580.00,240.80) rotate(-90)">(cMFI at contacts)</text>
<line x1="620.50" y1="195.40" x2="669.80" y2="195.40" stroke="#333" stroke-width="0.9"/>
<text x="644.60" y="192.60" font-size="6.4" text-anchor="middle" fill="#000" color="#000">ns</text>
<line x1="616.10" y1="208.30" x2="641.30" y2="208.30" stroke="#333" stroke-width="0.9"/>
<text x="636.10" y="205.20" font-size="6.4" text-anchor="middle" fill="#000" color="#000">ns</text>
<line x1="648.40" y1="208.30" x2="673.00" y2="208.30" stroke="#333" stroke-width="0.9"/>
<text x="660.80" y="205.20" font-size="6.4" text-anchor="middle" fill="#000" color="#000">ns</text>
<line x1="620.80" y1="225.10" x2="620.80" y2="242.00" stroke="#e07a76" stroke-width="0.8"/>
<line x1="617.20" y1="225.10" x2="624.40" y2="225.10" stroke="#e07a76" stroke-width="0.8"/>
<line x1="617.20" y1="242.00" x2="624.40" y2="242.00" stroke="#e07a76" stroke-width="0.8"/>
<line x1="613.00" y1="229.80" x2="628.90" y2="229.80" stroke="#e8807c" stroke-width="1.1"/>
<circle cx="620.80" cy="225.10" r="2.3" fill="#d23a36" stroke="none" stroke-width="0"/>
<circle cx="620.80" cy="229.80" r="2.3" fill="#d23a36" stroke="none" stroke-width="0"/>
<circle cx="620.80" cy="242.00" r="2.3" fill="#d23a36" stroke="none" stroke-width="0"/>
<line x1="644.80" y1="227.00" x2="644.80" y2="242.50" stroke="#fccaa0" stroke-width="0.8"/>
<line x1="641.20" y1="227.00" x2="648.40" y2="227.00" stroke="#fccaa0" stroke-width="0.8"/>
<line x1="641.20" y1="242.50" x2="648.40" y2="242.50" stroke="#fccaa0" stroke-width="0.8"/>
<line x1="636.90" y1="232.60" x2="652.80" y2="232.60" stroke="#f9a860" stroke-width="1.1"/>
<circle cx="644.80" cy="227.00" r="2.3" fill="#fbb06a" stroke="none" stroke-width="0"/>
<circle cx="644.80" cy="232.60" r="2.3" fill="#fbb06a" stroke="none" stroke-width="0"/>
<circle cx="644.80" cy="242.50" r="2.3" fill="#fbb06a" stroke="none" stroke-width="0"/>
<line x1="668.80" y1="227.40" x2="668.80" y2="241.30" stroke="#a8c8e8" stroke-width="0.8"/>
<line x1="664.80" y1="227.40" x2="672.80" y2="227.40" stroke="#a8c8e8" stroke-width="0.8"/>
<line x1="665.20" y1="241.30" x2="672.40" y2="241.30" stroke="#a8c8e8" stroke-width="0.8"/>
<line x1="661.30" y1="230.50" x2="676.80" y2="230.50" stroke="#9cc0e6" stroke-width="1.1"/>
<circle cx="664.80" cy="227.40" r="2.3" fill="#4a8ac8" stroke="none" stroke-width="0"/>
<circle cx="672.80" cy="230.80" r="2.3" fill="#4a8ac8" stroke="none" stroke-width="0"/>
<circle cx="668.80" cy="241.30" r="2.3" fill="#4a8ac8" stroke="none" stroke-width="0"/>
</svg></body></html>
